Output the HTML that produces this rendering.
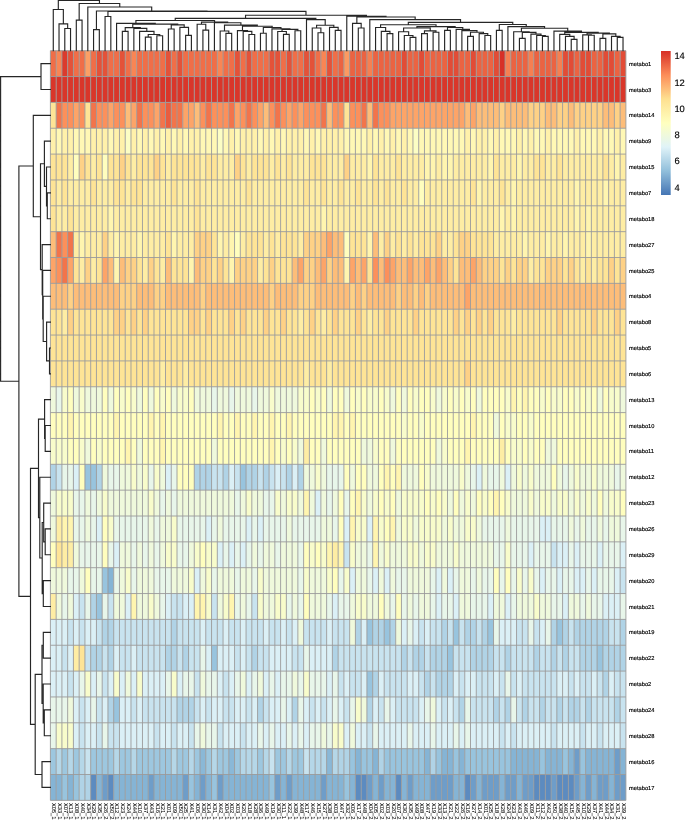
<!DOCTYPE html>
<html><head><meta charset="utf-8"><style>
html,body{margin:0;padding:0;background:#fff;width:685px;height:821px;overflow:hidden}
svg{display:block;text-rendering:geometricPrecision;will-change:transform}
.rl{font-family:"Liberation Sans",sans-serif;font-size:5.7px;fill:#000;stroke:#000;stroke-width:0.16px}
.cl{font-family:"Liberation Sans",sans-serif;font-size:5.7px;fill:#000;stroke:#000;stroke-width:0.08px}
.lg{font-family:"Liberation Sans",sans-serif;font-size:9.4px;fill:#000;stroke:#000;stroke-width:0.15px}
</style></head><body>
<svg width="685" height="821" viewBox="0 0 685 821" shape-rendering="auto">
<rect x="50.40" y="50.70" width="5.755" height="25.85" fill="#f06e48"/>
<rect x="56.16" y="50.70" width="5.755" height="25.85" fill="#f98554"/>
<rect x="61.91" y="50.70" width="5.755" height="25.85" fill="#db3b2d"/>
<rect x="67.66" y="50.70" width="5.755" height="25.85" fill="#e45239"/>
<rect x="73.42" y="50.70" width="5.755" height="25.85" fill="#f06e48"/>
<rect x="79.17" y="50.70" width="5.755" height="25.85" fill="#f06e48"/>
<rect x="84.93" y="50.70" width="5.755" height="25.85" fill="#fc9f65"/>
<rect x="90.69" y="50.70" width="5.755" height="25.85" fill="#f06e48"/>
<rect x="96.44" y="50.70" width="5.755" height="25.85" fill="#e45239"/>
<rect x="102.19" y="50.70" width="5.755" height="25.85" fill="#e45239"/>
<rect x="107.95" y="50.70" width="5.755" height="25.85" fill="#f06e48"/>
<rect x="113.70" y="50.70" width="5.755" height="25.85" fill="#f06e48"/>
<rect x="119.46" y="50.70" width="5.755" height="25.85" fill="#e45239"/>
<rect x="125.22" y="50.70" width="5.755" height="25.85" fill="#f06e48"/>
<rect x="130.97" y="50.70" width="5.755" height="25.85" fill="#f98554"/>
<rect x="136.72" y="50.70" width="5.755" height="25.85" fill="#f06e48"/>
<rect x="142.48" y="50.70" width="5.755" height="25.85" fill="#f06e48"/>
<rect x="148.23" y="50.70" width="5.755" height="25.85" fill="#f06e48"/>
<rect x="153.99" y="50.70" width="5.755" height="25.85" fill="#f06e48"/>
<rect x="159.75" y="50.70" width="5.755" height="25.85" fill="#f06e48"/>
<rect x="165.50" y="50.70" width="5.755" height="25.85" fill="#e45239"/>
<rect x="171.25" y="50.70" width="5.755" height="25.85" fill="#f06e48"/>
<rect x="177.01" y="50.70" width="5.755" height="25.85" fill="#e45239"/>
<rect x="182.77" y="50.70" width="5.755" height="25.85" fill="#f06e48"/>
<rect x="188.52" y="50.70" width="5.755" height="25.85" fill="#f06e48"/>
<rect x="194.28" y="50.70" width="5.755" height="25.85" fill="#f06e48"/>
<rect x="200.03" y="50.70" width="5.755" height="25.85" fill="#f06e48"/>
<rect x="205.78" y="50.70" width="5.755" height="25.85" fill="#f06e48"/>
<rect x="211.54" y="50.70" width="5.755" height="25.85" fill="#f06e48"/>
<rect x="217.30" y="50.70" width="5.755" height="25.85" fill="#f98554"/>
<rect x="223.05" y="50.70" width="5.755" height="25.85" fill="#f06e48"/>
<rect x="228.81" y="50.70" width="5.755" height="25.85" fill="#f06e48"/>
<rect x="234.56" y="50.70" width="5.755" height="25.85" fill="#e45239"/>
<rect x="240.31" y="50.70" width="5.755" height="25.85" fill="#f06e48"/>
<rect x="246.07" y="50.70" width="5.755" height="25.85" fill="#e45239"/>
<rect x="251.82" y="50.70" width="5.755" height="25.85" fill="#f06e48"/>
<rect x="257.58" y="50.70" width="5.755" height="25.85" fill="#f06e48"/>
<rect x="263.33" y="50.70" width="5.755" height="25.85" fill="#f06e48"/>
<rect x="269.09" y="50.70" width="5.755" height="25.85" fill="#e45239"/>
<rect x="274.84" y="50.70" width="5.755" height="25.85" fill="#e45239"/>
<rect x="280.60" y="50.70" width="5.755" height="25.85" fill="#f06e48"/>
<rect x="286.35" y="50.70" width="5.755" height="25.85" fill="#e45239"/>
<rect x="292.11" y="50.70" width="5.755" height="25.85" fill="#f06e48"/>
<rect x="297.87" y="50.70" width="5.755" height="25.85" fill="#f06e48"/>
<rect x="303.62" y="50.70" width="5.755" height="25.85" fill="#e45239"/>
<rect x="309.38" y="50.70" width="5.755" height="25.85" fill="#e45239"/>
<rect x="315.13" y="50.70" width="5.755" height="25.85" fill="#f06e48"/>
<rect x="320.88" y="50.70" width="5.755" height="25.85" fill="#f98554"/>
<rect x="326.64" y="50.70" width="5.755" height="25.85" fill="#e45239"/>
<rect x="332.39" y="50.70" width="5.755" height="25.85" fill="#f06e48"/>
<rect x="338.15" y="50.70" width="5.755" height="25.85" fill="#eb6342"/>
<rect x="343.90" y="50.70" width="5.755" height="25.85" fill="#fc9a61"/>
<rect x="349.66" y="50.70" width="5.755" height="25.85" fill="#eb6342"/>
<rect x="355.41" y="50.70" width="5.755" height="25.85" fill="#eb6342"/>
<rect x="361.17" y="50.70" width="5.755" height="25.85" fill="#eb6342"/>
<rect x="366.92" y="50.70" width="5.755" height="25.85" fill="#f67f51"/>
<rect x="372.68" y="50.70" width="5.755" height="25.85" fill="#eb6342"/>
<rect x="378.43" y="50.70" width="5.755" height="25.85" fill="#eb6342"/>
<rect x="384.19" y="50.70" width="5.755" height="25.85" fill="#eb6342"/>
<rect x="389.94" y="50.70" width="5.755" height="25.85" fill="#eb6342"/>
<rect x="395.70" y="50.70" width="5.755" height="25.85" fill="#eb6342"/>
<rect x="401.45" y="50.70" width="5.755" height="25.85" fill="#e24c36"/>
<rect x="407.21" y="50.70" width="5.755" height="25.85" fill="#eb6342"/>
<rect x="412.96" y="50.70" width="5.755" height="25.85" fill="#eb6342"/>
<rect x="418.72" y="50.70" width="5.755" height="25.85" fill="#e24c36"/>
<rect x="424.47" y="50.70" width="5.755" height="25.85" fill="#eb6342"/>
<rect x="430.23" y="50.70" width="5.755" height="25.85" fill="#eb6342"/>
<rect x="435.98" y="50.70" width="5.755" height="25.85" fill="#eb6342"/>
<rect x="441.74" y="50.70" width="5.755" height="25.85" fill="#eb6342"/>
<rect x="447.49" y="50.70" width="5.755" height="25.85" fill="#e24c36"/>
<rect x="453.25" y="50.70" width="5.755" height="25.85" fill="#e24c36"/>
<rect x="459.00" y="50.70" width="5.755" height="25.85" fill="#eb6342"/>
<rect x="464.76" y="50.70" width="5.755" height="25.85" fill="#eb6342"/>
<rect x="470.51" y="50.70" width="5.755" height="25.85" fill="#e24c36"/>
<rect x="476.27" y="50.70" width="5.755" height="25.85" fill="#eb6342"/>
<rect x="482.02" y="50.70" width="5.755" height="25.85" fill="#eb6342"/>
<rect x="487.78" y="50.70" width="5.755" height="25.85" fill="#eb6342"/>
<rect x="493.53" y="50.70" width="5.755" height="25.85" fill="#e24c36"/>
<rect x="499.29" y="50.70" width="5.755" height="25.85" fill="#d73027"/>
<rect x="505.04" y="50.70" width="5.755" height="25.85" fill="#f67f51"/>
<rect x="510.80" y="50.70" width="5.755" height="25.85" fill="#eb6342"/>
<rect x="516.55" y="50.70" width="5.755" height="25.85" fill="#eb6342"/>
<rect x="522.31" y="50.70" width="5.755" height="25.85" fill="#eb6342"/>
<rect x="528.06" y="50.70" width="5.755" height="25.85" fill="#f67f51"/>
<rect x="533.82" y="50.70" width="5.755" height="25.85" fill="#eb6342"/>
<rect x="539.58" y="50.70" width="5.755" height="25.85" fill="#eb6342"/>
<rect x="545.33" y="50.70" width="5.755" height="25.85" fill="#eb6342"/>
<rect x="551.09" y="50.70" width="5.755" height="25.85" fill="#eb6342"/>
<rect x="556.84" y="50.70" width="5.755" height="25.85" fill="#f67f51"/>
<rect x="562.59" y="50.70" width="5.755" height="25.85" fill="#e24c36"/>
<rect x="568.35" y="50.70" width="5.755" height="25.85" fill="#e24c36"/>
<rect x="574.11" y="50.70" width="5.755" height="25.85" fill="#eb6342"/>
<rect x="579.86" y="50.70" width="5.755" height="25.85" fill="#e24c36"/>
<rect x="585.62" y="50.70" width="5.755" height="25.85" fill="#e24c36"/>
<rect x="591.37" y="50.70" width="5.755" height="25.85" fill="#eb6342"/>
<rect x="597.12" y="50.70" width="5.755" height="25.85" fill="#eb6342"/>
<rect x="602.88" y="50.70" width="5.755" height="25.85" fill="#e24c36"/>
<rect x="608.63" y="50.70" width="5.755" height="25.85" fill="#e24c36"/>
<rect x="614.39" y="50.70" width="5.755" height="25.85" fill="#eb6342"/>
<rect x="620.14" y="50.70" width="5.755" height="25.85" fill="#e24c36"/>
<rect x="50.40" y="76.55" width="5.755" height="25.85" fill="#d9362a"/>
<rect x="56.16" y="76.55" width="5.755" height="25.85" fill="#d9362a"/>
<rect x="61.91" y="76.55" width="5.755" height="25.85" fill="#d9362a"/>
<rect x="67.66" y="76.55" width="5.755" height="25.85" fill="#d9362a"/>
<rect x="73.42" y="76.55" width="5.755" height="25.85" fill="#d9362a"/>
<rect x="79.17" y="76.55" width="5.755" height="25.85" fill="#d9362a"/>
<rect x="84.93" y="76.55" width="5.755" height="25.85" fill="#d9362a"/>
<rect x="90.69" y="76.55" width="5.755" height="25.85" fill="#d9362a"/>
<rect x="96.44" y="76.55" width="5.755" height="25.85" fill="#d9362a"/>
<rect x="102.19" y="76.55" width="5.755" height="25.85" fill="#d9362a"/>
<rect x="107.95" y="76.55" width="5.755" height="25.85" fill="#d9362a"/>
<rect x="113.70" y="76.55" width="5.755" height="25.85" fill="#d9362a"/>
<rect x="119.46" y="76.55" width="5.755" height="25.85" fill="#d9362a"/>
<rect x="125.22" y="76.55" width="5.755" height="25.85" fill="#d9362a"/>
<rect x="130.97" y="76.55" width="5.755" height="25.85" fill="#d9362a"/>
<rect x="136.72" y="76.55" width="5.755" height="25.85" fill="#d9362a"/>
<rect x="142.48" y="76.55" width="5.755" height="25.85" fill="#d9362a"/>
<rect x="148.23" y="76.55" width="5.755" height="25.85" fill="#d9362a"/>
<rect x="153.99" y="76.55" width="5.755" height="25.85" fill="#d9362a"/>
<rect x="159.75" y="76.55" width="5.755" height="25.85" fill="#d9362a"/>
<rect x="165.50" y="76.55" width="5.755" height="25.85" fill="#d9362a"/>
<rect x="171.25" y="76.55" width="5.755" height="25.85" fill="#d9362a"/>
<rect x="177.01" y="76.55" width="5.755" height="25.85" fill="#d9362a"/>
<rect x="182.77" y="76.55" width="5.755" height="25.85" fill="#d9362a"/>
<rect x="188.52" y="76.55" width="5.755" height="25.85" fill="#d9362a"/>
<rect x="194.28" y="76.55" width="5.755" height="25.85" fill="#d9362a"/>
<rect x="200.03" y="76.55" width="5.755" height="25.85" fill="#d9362a"/>
<rect x="205.78" y="76.55" width="5.755" height="25.85" fill="#d9362a"/>
<rect x="211.54" y="76.55" width="5.755" height="25.85" fill="#d9362a"/>
<rect x="217.30" y="76.55" width="5.755" height="25.85" fill="#d9362a"/>
<rect x="223.05" y="76.55" width="5.755" height="25.85" fill="#d9362a"/>
<rect x="228.81" y="76.55" width="5.755" height="25.85" fill="#d9362a"/>
<rect x="234.56" y="76.55" width="5.755" height="25.85" fill="#d9362a"/>
<rect x="240.31" y="76.55" width="5.755" height="25.85" fill="#d9362a"/>
<rect x="246.07" y="76.55" width="5.755" height="25.85" fill="#d9362a"/>
<rect x="251.82" y="76.55" width="5.755" height="25.85" fill="#d9362a"/>
<rect x="257.58" y="76.55" width="5.755" height="25.85" fill="#d9362a"/>
<rect x="263.33" y="76.55" width="5.755" height="25.85" fill="#d9362a"/>
<rect x="269.09" y="76.55" width="5.755" height="25.85" fill="#d9362a"/>
<rect x="274.84" y="76.55" width="5.755" height="25.85" fill="#d9362a"/>
<rect x="280.60" y="76.55" width="5.755" height="25.85" fill="#d9362a"/>
<rect x="286.35" y="76.55" width="5.755" height="25.85" fill="#d9362a"/>
<rect x="292.11" y="76.55" width="5.755" height="25.85" fill="#d9362a"/>
<rect x="297.87" y="76.55" width="5.755" height="25.85" fill="#d9362a"/>
<rect x="303.62" y="76.55" width="5.755" height="25.85" fill="#d9362a"/>
<rect x="309.38" y="76.55" width="5.755" height="25.85" fill="#d9362a"/>
<rect x="315.13" y="76.55" width="5.755" height="25.85" fill="#d9362a"/>
<rect x="320.88" y="76.55" width="5.755" height="25.85" fill="#d9362a"/>
<rect x="326.64" y="76.55" width="5.755" height="25.85" fill="#d9362a"/>
<rect x="332.39" y="76.55" width="5.755" height="25.85" fill="#d9362a"/>
<rect x="338.15" y="76.55" width="5.755" height="25.85" fill="#d9362a"/>
<rect x="343.90" y="76.55" width="5.755" height="25.85" fill="#d9362a"/>
<rect x="349.66" y="76.55" width="5.755" height="25.85" fill="#d9362a"/>
<rect x="355.41" y="76.55" width="5.755" height="25.85" fill="#d9362a"/>
<rect x="361.17" y="76.55" width="5.755" height="25.85" fill="#d9362a"/>
<rect x="366.92" y="76.55" width="5.755" height="25.85" fill="#d9362a"/>
<rect x="372.68" y="76.55" width="5.755" height="25.85" fill="#d9362a"/>
<rect x="378.43" y="76.55" width="5.755" height="25.85" fill="#d9362a"/>
<rect x="384.19" y="76.55" width="5.755" height="25.85" fill="#d9362a"/>
<rect x="389.94" y="76.55" width="5.755" height="25.85" fill="#d9362a"/>
<rect x="395.70" y="76.55" width="5.755" height="25.85" fill="#d9362a"/>
<rect x="401.45" y="76.55" width="5.755" height="25.85" fill="#d9362a"/>
<rect x="407.21" y="76.55" width="5.755" height="25.85" fill="#d9362a"/>
<rect x="412.96" y="76.55" width="5.755" height="25.85" fill="#d9362a"/>
<rect x="418.72" y="76.55" width="5.755" height="25.85" fill="#d9362a"/>
<rect x="424.47" y="76.55" width="5.755" height="25.85" fill="#d9362a"/>
<rect x="430.23" y="76.55" width="5.755" height="25.85" fill="#d9362a"/>
<rect x="435.98" y="76.55" width="5.755" height="25.85" fill="#d9362a"/>
<rect x="441.74" y="76.55" width="5.755" height="25.85" fill="#d9362a"/>
<rect x="447.49" y="76.55" width="5.755" height="25.85" fill="#d9362a"/>
<rect x="453.25" y="76.55" width="5.755" height="25.85" fill="#d9362a"/>
<rect x="459.00" y="76.55" width="5.755" height="25.85" fill="#d9362a"/>
<rect x="464.76" y="76.55" width="5.755" height="25.85" fill="#d9362a"/>
<rect x="470.51" y="76.55" width="5.755" height="25.85" fill="#d9362a"/>
<rect x="476.27" y="76.55" width="5.755" height="25.85" fill="#d9362a"/>
<rect x="482.02" y="76.55" width="5.755" height="25.85" fill="#d9362a"/>
<rect x="487.78" y="76.55" width="5.755" height="25.85" fill="#d9362a"/>
<rect x="493.53" y="76.55" width="5.755" height="25.85" fill="#d9362a"/>
<rect x="499.29" y="76.55" width="5.755" height="25.85" fill="#d9362a"/>
<rect x="505.04" y="76.55" width="5.755" height="25.85" fill="#d9362a"/>
<rect x="510.80" y="76.55" width="5.755" height="25.85" fill="#d9362a"/>
<rect x="516.55" y="76.55" width="5.755" height="25.85" fill="#d9362a"/>
<rect x="522.31" y="76.55" width="5.755" height="25.85" fill="#d9362a"/>
<rect x="528.06" y="76.55" width="5.755" height="25.85" fill="#d9362a"/>
<rect x="533.82" y="76.55" width="5.755" height="25.85" fill="#d9362a"/>
<rect x="539.58" y="76.55" width="5.755" height="25.85" fill="#d9362a"/>
<rect x="545.33" y="76.55" width="5.755" height="25.85" fill="#d9362a"/>
<rect x="551.09" y="76.55" width="5.755" height="25.85" fill="#d9362a"/>
<rect x="556.84" y="76.55" width="5.755" height="25.85" fill="#d9362a"/>
<rect x="562.59" y="76.55" width="5.755" height="25.85" fill="#d9362a"/>
<rect x="568.35" y="76.55" width="5.755" height="25.85" fill="#d9362a"/>
<rect x="574.11" y="76.55" width="5.755" height="25.85" fill="#d9362a"/>
<rect x="579.86" y="76.55" width="5.755" height="25.85" fill="#d9362a"/>
<rect x="585.62" y="76.55" width="5.755" height="25.85" fill="#d9362a"/>
<rect x="591.37" y="76.55" width="5.755" height="25.85" fill="#d9362a"/>
<rect x="597.12" y="76.55" width="5.755" height="25.85" fill="#d9362a"/>
<rect x="602.88" y="76.55" width="5.755" height="25.85" fill="#d9362a"/>
<rect x="608.63" y="76.55" width="5.755" height="25.85" fill="#d9362a"/>
<rect x="614.39" y="76.55" width="5.755" height="25.85" fill="#d9362a"/>
<rect x="620.14" y="76.55" width="5.755" height="25.85" fill="#d9362a"/>
<rect x="50.40" y="102.40" width="5.755" height="25.85" fill="#fee496"/>
<rect x="56.16" y="102.40" width="5.755" height="25.85" fill="#f2744b"/>
<rect x="61.91" y="102.40" width="5.755" height="25.85" fill="#fc905b"/>
<rect x="67.66" y="102.40" width="5.755" height="25.85" fill="#fc905b"/>
<rect x="73.42" y="102.40" width="5.755" height="25.85" fill="#fda468"/>
<rect x="79.17" y="102.40" width="5.755" height="25.85" fill="#fc905b"/>
<rect x="84.93" y="102.40" width="5.755" height="25.85" fill="#fee496"/>
<rect x="90.69" y="102.40" width="5.755" height="25.85" fill="#f2744b"/>
<rect x="96.44" y="102.40" width="5.755" height="25.85" fill="#fc905b"/>
<rect x="102.19" y="102.40" width="5.755" height="25.85" fill="#fc905b"/>
<rect x="107.95" y="102.40" width="5.755" height="25.85" fill="#fda468"/>
<rect x="113.70" y="102.40" width="5.755" height="25.85" fill="#fc905b"/>
<rect x="119.46" y="102.40" width="5.755" height="25.85" fill="#fc905b"/>
<rect x="125.22" y="102.40" width="5.755" height="25.85" fill="#fdbd79"/>
<rect x="130.97" y="102.40" width="5.755" height="25.85" fill="#fda468"/>
<rect x="136.72" y="102.40" width="5.755" height="25.85" fill="#f2744b"/>
<rect x="142.48" y="102.40" width="5.755" height="25.85" fill="#fc905b"/>
<rect x="148.23" y="102.40" width="5.755" height="25.85" fill="#fc905b"/>
<rect x="153.99" y="102.40" width="5.755" height="25.85" fill="#fda468"/>
<rect x="159.75" y="102.40" width="5.755" height="25.85" fill="#f2744b"/>
<rect x="165.50" y="102.40" width="5.755" height="25.85" fill="#e95d3f"/>
<rect x="171.25" y="102.40" width="5.755" height="25.85" fill="#f2744b"/>
<rect x="177.01" y="102.40" width="5.755" height="25.85" fill="#f2744b"/>
<rect x="182.77" y="102.40" width="5.755" height="25.85" fill="#fda468"/>
<rect x="188.52" y="102.40" width="5.755" height="25.85" fill="#fda468"/>
<rect x="194.28" y="102.40" width="5.755" height="25.85" fill="#fdbd79"/>
<rect x="200.03" y="102.40" width="5.755" height="25.85" fill="#fc905b"/>
<rect x="205.78" y="102.40" width="5.755" height="25.85" fill="#f2744b"/>
<rect x="211.54" y="102.40" width="5.755" height="25.85" fill="#fc905b"/>
<rect x="217.30" y="102.40" width="5.755" height="25.85" fill="#fc905b"/>
<rect x="223.05" y="102.40" width="5.755" height="25.85" fill="#fc905b"/>
<rect x="228.81" y="102.40" width="5.755" height="25.85" fill="#f2744b"/>
<rect x="234.56" y="102.40" width="5.755" height="25.85" fill="#fda468"/>
<rect x="240.31" y="102.40" width="5.755" height="25.85" fill="#fc905b"/>
<rect x="246.07" y="102.40" width="5.755" height="25.85" fill="#f2744b"/>
<rect x="251.82" y="102.40" width="5.755" height="25.85" fill="#fc905b"/>
<rect x="257.58" y="102.40" width="5.755" height="25.85" fill="#fda468"/>
<rect x="263.33" y="102.40" width="5.755" height="25.85" fill="#fdbd79"/>
<rect x="269.09" y="102.40" width="5.755" height="25.85" fill="#fc905b"/>
<rect x="274.84" y="102.40" width="5.755" height="25.85" fill="#f2744b"/>
<rect x="280.60" y="102.40" width="5.755" height="25.85" fill="#fc905b"/>
<rect x="286.35" y="102.40" width="5.755" height="25.85" fill="#fda468"/>
<rect x="292.11" y="102.40" width="5.755" height="25.85" fill="#fc905b"/>
<rect x="297.87" y="102.40" width="5.755" height="25.85" fill="#fda468"/>
<rect x="303.62" y="102.40" width="5.755" height="25.85" fill="#fc905b"/>
<rect x="309.38" y="102.40" width="5.755" height="25.85" fill="#fc905b"/>
<rect x="315.13" y="102.40" width="5.755" height="25.85" fill="#fc905b"/>
<rect x="320.88" y="102.40" width="5.755" height="25.85" fill="#f2744b"/>
<rect x="326.64" y="102.40" width="5.755" height="25.85" fill="#fdbd79"/>
<rect x="332.39" y="102.40" width="5.755" height="25.85" fill="#fc905b"/>
<rect x="338.15" y="102.40" width="5.755" height="25.85" fill="#fc905b"/>
<rect x="343.90" y="102.40" width="5.755" height="25.85" fill="#fee496"/>
<rect x="349.66" y="102.40" width="5.755" height="25.85" fill="#fc905b"/>
<rect x="355.41" y="102.40" width="5.755" height="25.85" fill="#fc905b"/>
<rect x="361.17" y="102.40" width="5.755" height="25.85" fill="#f2744b"/>
<rect x="366.92" y="102.40" width="5.755" height="25.85" fill="#fdbd79"/>
<rect x="372.68" y="102.40" width="5.755" height="25.85" fill="#f2744b"/>
<rect x="378.43" y="102.40" width="5.755" height="25.85" fill="#fc905b"/>
<rect x="384.19" y="102.40" width="5.755" height="25.85" fill="#fc905b"/>
<rect x="389.94" y="102.40" width="5.755" height="25.85" fill="#fda468"/>
<rect x="395.70" y="102.40" width="5.755" height="25.85" fill="#fda468"/>
<rect x="401.45" y="102.40" width="5.755" height="25.85" fill="#fda468"/>
<rect x="407.21" y="102.40" width="5.755" height="25.85" fill="#fda468"/>
<rect x="412.96" y="102.40" width="5.755" height="25.85" fill="#fda468"/>
<rect x="418.72" y="102.40" width="5.755" height="25.85" fill="#fda468"/>
<rect x="424.47" y="102.40" width="5.755" height="25.85" fill="#fda468"/>
<rect x="430.23" y="102.40" width="5.755" height="25.85" fill="#fda468"/>
<rect x="435.98" y="102.40" width="5.755" height="25.85" fill="#fda468"/>
<rect x="441.74" y="102.40" width="5.755" height="25.85" fill="#fda468"/>
<rect x="447.49" y="102.40" width="5.755" height="25.85" fill="#fda468"/>
<rect x="453.25" y="102.40" width="5.755" height="25.85" fill="#fda468"/>
<rect x="459.00" y="102.40" width="5.755" height="25.85" fill="#fda468"/>
<rect x="464.76" y="102.40" width="5.755" height="25.85" fill="#fdbd79"/>
<rect x="470.51" y="102.40" width="5.755" height="25.85" fill="#fda468"/>
<rect x="476.27" y="102.40" width="5.755" height="25.85" fill="#fdbd79"/>
<rect x="482.02" y="102.40" width="5.755" height="25.85" fill="#fdbd79"/>
<rect x="487.78" y="102.40" width="5.755" height="25.85" fill="#fdbd79"/>
<rect x="493.53" y="102.40" width="5.755" height="25.85" fill="#fdbd79"/>
<rect x="499.29" y="102.40" width="5.755" height="25.85" fill="#fed186"/>
<rect x="505.04" y="102.40" width="5.755" height="25.85" fill="#fdbd79"/>
<rect x="510.80" y="102.40" width="5.755" height="25.85" fill="#fdbd79"/>
<rect x="516.55" y="102.40" width="5.755" height="25.85" fill="#fdbd79"/>
<rect x="522.31" y="102.40" width="5.755" height="25.85" fill="#fdbd79"/>
<rect x="528.06" y="102.40" width="5.755" height="25.85" fill="#fed186"/>
<rect x="533.82" y="102.40" width="5.755" height="25.85" fill="#fed186"/>
<rect x="539.58" y="102.40" width="5.755" height="25.85" fill="#fed186"/>
<rect x="545.33" y="102.40" width="5.755" height="25.85" fill="#fdbd79"/>
<rect x="551.09" y="102.40" width="5.755" height="25.85" fill="#fdbd79"/>
<rect x="556.84" y="102.40" width="5.755" height="25.85" fill="#fed186"/>
<rect x="562.59" y="102.40" width="5.755" height="25.85" fill="#fed186"/>
<rect x="568.35" y="102.40" width="5.755" height="25.85" fill="#fdbd79"/>
<rect x="574.11" y="102.40" width="5.755" height="25.85" fill="#fed186"/>
<rect x="579.86" y="102.40" width="5.755" height="25.85" fill="#fed186"/>
<rect x="585.62" y="102.40" width="5.755" height="25.85" fill="#fed186"/>
<rect x="591.37" y="102.40" width="5.755" height="25.85" fill="#fed186"/>
<rect x="597.12" y="102.40" width="5.755" height="25.85" fill="#fed186"/>
<rect x="602.88" y="102.40" width="5.755" height="25.85" fill="#fdbd79"/>
<rect x="608.63" y="102.40" width="5.755" height="25.85" fill="#fdbd79"/>
<rect x="614.39" y="102.40" width="5.755" height="25.85" fill="#fed186"/>
<rect x="620.14" y="102.40" width="5.755" height="25.85" fill="#fdbd79"/>
<rect x="50.40" y="128.25" width="5.755" height="25.85" fill="#fff1aa"/>
<rect x="56.16" y="128.25" width="5.755" height="25.85" fill="#fff8b5"/>
<rect x="61.91" y="128.25" width="5.755" height="25.85" fill="#fff1aa"/>
<rect x="67.66" y="128.25" width="5.755" height="25.85" fill="#fff1aa"/>
<rect x="73.42" y="128.25" width="5.755" height="25.85" fill="#fff8b5"/>
<rect x="79.17" y="128.25" width="5.755" height="25.85" fill="#fff8b5"/>
<rect x="84.93" y="128.25" width="5.755" height="25.85" fill="#fff8b5"/>
<rect x="90.69" y="128.25" width="5.755" height="25.85" fill="#fff1aa"/>
<rect x="96.44" y="128.25" width="5.755" height="25.85" fill="#fff1aa"/>
<rect x="102.19" y="128.25" width="5.755" height="25.85" fill="#fff1aa"/>
<rect x="107.95" y="128.25" width="5.755" height="25.85" fill="#fff8b5"/>
<rect x="113.70" y="128.25" width="5.755" height="25.85" fill="#fff1aa"/>
<rect x="119.46" y="128.25" width="5.755" height="25.85" fill="#fff1aa"/>
<rect x="125.22" y="128.25" width="5.755" height="25.85" fill="#fcfec4"/>
<rect x="130.97" y="128.25" width="5.755" height="25.85" fill="#fff1aa"/>
<rect x="136.72" y="128.25" width="5.755" height="25.85" fill="#fff8b5"/>
<rect x="142.48" y="128.25" width="5.755" height="25.85" fill="#fff1aa"/>
<rect x="148.23" y="128.25" width="5.755" height="25.85" fill="#fff8b5"/>
<rect x="153.99" y="128.25" width="5.755" height="25.85" fill="#fff1aa"/>
<rect x="159.75" y="128.25" width="5.755" height="25.85" fill="#fff8b5"/>
<rect x="165.50" y="128.25" width="5.755" height="25.85" fill="#fff1aa"/>
<rect x="171.25" y="128.25" width="5.755" height="25.85" fill="#fff8b5"/>
<rect x="177.01" y="128.25" width="5.755" height="25.85" fill="#fff1aa"/>
<rect x="182.77" y="128.25" width="5.755" height="25.85" fill="#fff8b5"/>
<rect x="188.52" y="128.25" width="5.755" height="25.85" fill="#fff1aa"/>
<rect x="194.28" y="128.25" width="5.755" height="25.85" fill="#fff1aa"/>
<rect x="200.03" y="128.25" width="5.755" height="25.85" fill="#fff8b5"/>
<rect x="205.78" y="128.25" width="5.755" height="25.85" fill="#fff8b5"/>
<rect x="211.54" y="128.25" width="5.755" height="25.85" fill="#fff8b5"/>
<rect x="217.30" y="128.25" width="5.755" height="25.85" fill="#fcfec4"/>
<rect x="223.05" y="128.25" width="5.755" height="25.85" fill="#fff8b5"/>
<rect x="228.81" y="128.25" width="5.755" height="25.85" fill="#fff1aa"/>
<rect x="234.56" y="128.25" width="5.755" height="25.85" fill="#fff8b5"/>
<rect x="240.31" y="128.25" width="5.755" height="25.85" fill="#fff1aa"/>
<rect x="246.07" y="128.25" width="5.755" height="25.85" fill="#fff1aa"/>
<rect x="251.82" y="128.25" width="5.755" height="25.85" fill="#fff1aa"/>
<rect x="257.58" y="128.25" width="5.755" height="25.85" fill="#fff8b5"/>
<rect x="263.33" y="128.25" width="5.755" height="25.85" fill="#fff1aa"/>
<rect x="269.09" y="128.25" width="5.755" height="25.85" fill="#fff8b5"/>
<rect x="274.84" y="128.25" width="5.755" height="25.85" fill="#fff1aa"/>
<rect x="280.60" y="128.25" width="5.755" height="25.85" fill="#fff8b5"/>
<rect x="286.35" y="128.25" width="5.755" height="25.85" fill="#fff1aa"/>
<rect x="292.11" y="128.25" width="5.755" height="25.85" fill="#fff1aa"/>
<rect x="297.87" y="128.25" width="5.755" height="25.85" fill="#fff1aa"/>
<rect x="303.62" y="128.25" width="5.755" height="25.85" fill="#fff8b5"/>
<rect x="309.38" y="128.25" width="5.755" height="25.85" fill="#fff1aa"/>
<rect x="315.13" y="128.25" width="5.755" height="25.85" fill="#fff8b5"/>
<rect x="320.88" y="128.25" width="5.755" height="25.85" fill="#fff1aa"/>
<rect x="326.64" y="128.25" width="5.755" height="25.85" fill="#fff1aa"/>
<rect x="332.39" y="128.25" width="5.755" height="25.85" fill="#fff1aa"/>
<rect x="338.15" y="128.25" width="5.755" height="25.85" fill="#fff1aa"/>
<rect x="343.90" y="128.25" width="5.755" height="25.85" fill="#fff8b5"/>
<rect x="349.66" y="128.25" width="5.755" height="25.85" fill="#fff8b5"/>
<rect x="355.41" y="128.25" width="5.755" height="25.85" fill="#fff8b5"/>
<rect x="361.17" y="128.25" width="5.755" height="25.85" fill="#fff8b5"/>
<rect x="366.92" y="128.25" width="5.755" height="25.85" fill="#fff1aa"/>
<rect x="372.68" y="128.25" width="5.755" height="25.85" fill="#fff8b5"/>
<rect x="378.43" y="128.25" width="5.755" height="25.85" fill="#fff1aa"/>
<rect x="384.19" y="128.25" width="5.755" height="25.85" fill="#fff8b5"/>
<rect x="389.94" y="128.25" width="5.755" height="25.85" fill="#fff1aa"/>
<rect x="395.70" y="128.25" width="5.755" height="25.85" fill="#fff8b5"/>
<rect x="401.45" y="128.25" width="5.755" height="25.85" fill="#fff1aa"/>
<rect x="407.21" y="128.25" width="5.755" height="25.85" fill="#fff8b5"/>
<rect x="412.96" y="128.25" width="5.755" height="25.85" fill="#fcfec4"/>
<rect x="418.72" y="128.25" width="5.755" height="25.85" fill="#fff8b5"/>
<rect x="424.47" y="128.25" width="5.755" height="25.85" fill="#fff8b5"/>
<rect x="430.23" y="128.25" width="5.755" height="25.85" fill="#fff8b5"/>
<rect x="435.98" y="128.25" width="5.755" height="25.85" fill="#fff8b5"/>
<rect x="441.74" y="128.25" width="5.755" height="25.85" fill="#fff8b5"/>
<rect x="447.49" y="128.25" width="5.755" height="25.85" fill="#fff8b5"/>
<rect x="453.25" y="128.25" width="5.755" height="25.85" fill="#fff8b5"/>
<rect x="459.00" y="128.25" width="5.755" height="25.85" fill="#fff8b5"/>
<rect x="464.76" y="128.25" width="5.755" height="25.85" fill="#fff1aa"/>
<rect x="470.51" y="128.25" width="5.755" height="25.85" fill="#fff8b5"/>
<rect x="476.27" y="128.25" width="5.755" height="25.85" fill="#fff1aa"/>
<rect x="482.02" y="128.25" width="5.755" height="25.85" fill="#fff1aa"/>
<rect x="487.78" y="128.25" width="5.755" height="25.85" fill="#fff8b5"/>
<rect x="493.53" y="128.25" width="5.755" height="25.85" fill="#fff1aa"/>
<rect x="499.29" y="128.25" width="5.755" height="25.85" fill="#fff8b5"/>
<rect x="505.04" y="128.25" width="5.755" height="25.85" fill="#fff8b5"/>
<rect x="510.80" y="128.25" width="5.755" height="25.85" fill="#fff8b5"/>
<rect x="516.55" y="128.25" width="5.755" height="25.85" fill="#fff1aa"/>
<rect x="522.31" y="128.25" width="5.755" height="25.85" fill="#fff8b5"/>
<rect x="528.06" y="128.25" width="5.755" height="25.85" fill="#fff1aa"/>
<rect x="533.82" y="128.25" width="5.755" height="25.85" fill="#fff8b5"/>
<rect x="539.58" y="128.25" width="5.755" height="25.85" fill="#fff8b5"/>
<rect x="545.33" y="128.25" width="5.755" height="25.85" fill="#fff1aa"/>
<rect x="551.09" y="128.25" width="5.755" height="25.85" fill="#fff8b5"/>
<rect x="556.84" y="128.25" width="5.755" height="25.85" fill="#fff8b5"/>
<rect x="562.59" y="128.25" width="5.755" height="25.85" fill="#fff8b5"/>
<rect x="568.35" y="128.25" width="5.755" height="25.85" fill="#fff8b5"/>
<rect x="574.11" y="128.25" width="5.755" height="25.85" fill="#fff1aa"/>
<rect x="579.86" y="128.25" width="5.755" height="25.85" fill="#fff8b5"/>
<rect x="585.62" y="128.25" width="5.755" height="25.85" fill="#fff8b5"/>
<rect x="591.37" y="128.25" width="5.755" height="25.85" fill="#fff8b5"/>
<rect x="597.12" y="128.25" width="5.755" height="25.85" fill="#fff1aa"/>
<rect x="602.88" y="128.25" width="5.755" height="25.85" fill="#fff8b5"/>
<rect x="608.63" y="128.25" width="5.755" height="25.85" fill="#fff8b5"/>
<rect x="614.39" y="128.25" width="5.755" height="25.85" fill="#fff1aa"/>
<rect x="620.14" y="128.25" width="5.755" height="25.85" fill="#fff8b5"/>
<rect x="50.40" y="154.10" width="5.755" height="25.85" fill="#fee496"/>
<rect x="56.16" y="154.10" width="5.755" height="25.85" fill="#fee496"/>
<rect x="61.91" y="154.10" width="5.755" height="25.85" fill="#fee496"/>
<rect x="67.66" y="154.10" width="5.755" height="25.85" fill="#feeda4"/>
<rect x="73.42" y="154.10" width="5.755" height="25.85" fill="#fffebe"/>
<rect x="79.17" y="154.10" width="5.755" height="25.85" fill="#fed186"/>
<rect x="84.93" y="154.10" width="5.755" height="25.85" fill="#fee496"/>
<rect x="90.69" y="154.10" width="5.755" height="25.85" fill="#feeda4"/>
<rect x="96.44" y="154.10" width="5.755" height="25.85" fill="#fee496"/>
<rect x="102.19" y="154.10" width="5.755" height="25.85" fill="#fffebe"/>
<rect x="107.95" y="154.10" width="5.755" height="25.85" fill="#fee496"/>
<rect x="113.70" y="154.10" width="5.755" height="25.85" fill="#fee496"/>
<rect x="119.46" y="154.10" width="5.755" height="25.85" fill="#fed186"/>
<rect x="125.22" y="154.10" width="5.755" height="25.85" fill="#fee496"/>
<rect x="130.97" y="154.10" width="5.755" height="25.85" fill="#feeda4"/>
<rect x="136.72" y="154.10" width="5.755" height="25.85" fill="#fee496"/>
<rect x="142.48" y="154.10" width="5.755" height="25.85" fill="#fee496"/>
<rect x="148.23" y="154.10" width="5.755" height="25.85" fill="#fee496"/>
<rect x="153.99" y="154.10" width="5.755" height="25.85" fill="#fed186"/>
<rect x="159.75" y="154.10" width="5.755" height="25.85" fill="#fee496"/>
<rect x="165.50" y="154.10" width="5.755" height="25.85" fill="#feeda4"/>
<rect x="171.25" y="154.10" width="5.755" height="25.85" fill="#fee496"/>
<rect x="177.01" y="154.10" width="5.755" height="25.85" fill="#fee496"/>
<rect x="182.77" y="154.10" width="5.755" height="25.85" fill="#fee496"/>
<rect x="188.52" y="154.10" width="5.755" height="25.85" fill="#fee496"/>
<rect x="194.28" y="154.10" width="5.755" height="25.85" fill="#fee496"/>
<rect x="200.03" y="154.10" width="5.755" height="25.85" fill="#feeda4"/>
<rect x="205.78" y="154.10" width="5.755" height="25.85" fill="#fee496"/>
<rect x="211.54" y="154.10" width="5.755" height="25.85" fill="#fee496"/>
<rect x="217.30" y="154.10" width="5.755" height="25.85" fill="#feeda4"/>
<rect x="223.05" y="154.10" width="5.755" height="25.85" fill="#feeda4"/>
<rect x="228.81" y="154.10" width="5.755" height="25.85" fill="#feeda4"/>
<rect x="234.56" y="154.10" width="5.755" height="25.85" fill="#fed186"/>
<rect x="240.31" y="154.10" width="5.755" height="25.85" fill="#fee496"/>
<rect x="246.07" y="154.10" width="5.755" height="25.85" fill="#feeda4"/>
<rect x="251.82" y="154.10" width="5.755" height="25.85" fill="#fee496"/>
<rect x="257.58" y="154.10" width="5.755" height="25.85" fill="#fee496"/>
<rect x="263.33" y="154.10" width="5.755" height="25.85" fill="#fee496"/>
<rect x="269.09" y="154.10" width="5.755" height="25.85" fill="#feeda4"/>
<rect x="274.84" y="154.10" width="5.755" height="25.85" fill="#fee496"/>
<rect x="280.60" y="154.10" width="5.755" height="25.85" fill="#feeda4"/>
<rect x="286.35" y="154.10" width="5.755" height="25.85" fill="#fee496"/>
<rect x="292.11" y="154.10" width="5.755" height="25.85" fill="#feeda4"/>
<rect x="297.87" y="154.10" width="5.755" height="25.85" fill="#feeda4"/>
<rect x="303.62" y="154.10" width="5.755" height="25.85" fill="#feeda4"/>
<rect x="309.38" y="154.10" width="5.755" height="25.85" fill="#fee496"/>
<rect x="315.13" y="154.10" width="5.755" height="25.85" fill="#fee496"/>
<rect x="320.88" y="154.10" width="5.755" height="25.85" fill="#fee496"/>
<rect x="326.64" y="154.10" width="5.755" height="25.85" fill="#feeda4"/>
<rect x="332.39" y="154.10" width="5.755" height="25.85" fill="#feeda4"/>
<rect x="338.15" y="154.10" width="5.755" height="25.85" fill="#feeda4"/>
<rect x="343.90" y="154.10" width="5.755" height="25.85" fill="#fed186"/>
<rect x="349.66" y="154.10" width="5.755" height="25.85" fill="#feeda4"/>
<rect x="355.41" y="154.10" width="5.755" height="25.85" fill="#feeda4"/>
<rect x="361.17" y="154.10" width="5.755" height="25.85" fill="#feeda4"/>
<rect x="366.92" y="154.10" width="5.755" height="25.85" fill="#fff5af"/>
<rect x="372.68" y="154.10" width="5.755" height="25.85" fill="#fee496"/>
<rect x="378.43" y="154.10" width="5.755" height="25.85" fill="#feeda4"/>
<rect x="384.19" y="154.10" width="5.755" height="25.85" fill="#feeda4"/>
<rect x="389.94" y="154.10" width="5.755" height="25.85" fill="#feeda4"/>
<rect x="395.70" y="154.10" width="5.755" height="25.85" fill="#fee496"/>
<rect x="401.45" y="154.10" width="5.755" height="25.85" fill="#feeda4"/>
<rect x="407.21" y="154.10" width="5.755" height="25.85" fill="#feeda4"/>
<rect x="412.96" y="154.10" width="5.755" height="25.85" fill="#feeda4"/>
<rect x="418.72" y="154.10" width="5.755" height="25.85" fill="#feeda4"/>
<rect x="424.47" y="154.10" width="5.755" height="25.85" fill="#fff5af"/>
<rect x="430.23" y="154.10" width="5.755" height="25.85" fill="#fff5af"/>
<rect x="435.98" y="154.10" width="5.755" height="25.85" fill="#feeda4"/>
<rect x="441.74" y="154.10" width="5.755" height="25.85" fill="#fff5af"/>
<rect x="447.49" y="154.10" width="5.755" height="25.85" fill="#fff5af"/>
<rect x="453.25" y="154.10" width="5.755" height="25.85" fill="#feeda4"/>
<rect x="459.00" y="154.10" width="5.755" height="25.85" fill="#feeda4"/>
<rect x="464.76" y="154.10" width="5.755" height="25.85" fill="#feeda4"/>
<rect x="470.51" y="154.10" width="5.755" height="25.85" fill="#feeda4"/>
<rect x="476.27" y="154.10" width="5.755" height="25.85" fill="#feeda4"/>
<rect x="482.02" y="154.10" width="5.755" height="25.85" fill="#feeda4"/>
<rect x="487.78" y="154.10" width="5.755" height="25.85" fill="#fff5af"/>
<rect x="493.53" y="154.10" width="5.755" height="25.85" fill="#fee496"/>
<rect x="499.29" y="154.10" width="5.755" height="25.85" fill="#feeda4"/>
<rect x="505.04" y="154.10" width="5.755" height="25.85" fill="#feeda4"/>
<rect x="510.80" y="154.10" width="5.755" height="25.85" fill="#feeda4"/>
<rect x="516.55" y="154.10" width="5.755" height="25.85" fill="#fff5af"/>
<rect x="522.31" y="154.10" width="5.755" height="25.85" fill="#feeda4"/>
<rect x="528.06" y="154.10" width="5.755" height="25.85" fill="#feeda4"/>
<rect x="533.82" y="154.10" width="5.755" height="25.85" fill="#fee496"/>
<rect x="539.58" y="154.10" width="5.755" height="25.85" fill="#fee496"/>
<rect x="545.33" y="154.10" width="5.755" height="25.85" fill="#feeda4"/>
<rect x="551.09" y="154.10" width="5.755" height="25.85" fill="#feeda4"/>
<rect x="556.84" y="154.10" width="5.755" height="25.85" fill="#fee496"/>
<rect x="562.59" y="154.10" width="5.755" height="25.85" fill="#feeda4"/>
<rect x="568.35" y="154.10" width="5.755" height="25.85" fill="#feeda4"/>
<rect x="574.11" y="154.10" width="5.755" height="25.85" fill="#feeda4"/>
<rect x="579.86" y="154.10" width="5.755" height="25.85" fill="#feeda4"/>
<rect x="585.62" y="154.10" width="5.755" height="25.85" fill="#feeda4"/>
<rect x="591.37" y="154.10" width="5.755" height="25.85" fill="#feeda4"/>
<rect x="597.12" y="154.10" width="5.755" height="25.85" fill="#feeda4"/>
<rect x="602.88" y="154.10" width="5.755" height="25.85" fill="#fee496"/>
<rect x="608.63" y="154.10" width="5.755" height="25.85" fill="#feeda4"/>
<rect x="614.39" y="154.10" width="5.755" height="25.85" fill="#fff5af"/>
<rect x="620.14" y="154.10" width="5.755" height="25.85" fill="#feeda4"/>
<rect x="50.40" y="179.95" width="5.755" height="25.85" fill="#fee496"/>
<rect x="56.16" y="179.95" width="5.755" height="25.85" fill="#feeda4"/>
<rect x="61.91" y="179.95" width="5.755" height="25.85" fill="#fee496"/>
<rect x="67.66" y="179.95" width="5.755" height="25.85" fill="#feeda4"/>
<rect x="73.42" y="179.95" width="5.755" height="25.85" fill="#feeda4"/>
<rect x="79.17" y="179.95" width="5.755" height="25.85" fill="#feeda4"/>
<rect x="84.93" y="179.95" width="5.755" height="25.85" fill="#feeda4"/>
<rect x="90.69" y="179.95" width="5.755" height="25.85" fill="#fee496"/>
<rect x="96.44" y="179.95" width="5.755" height="25.85" fill="#feeda4"/>
<rect x="102.19" y="179.95" width="5.755" height="25.85" fill="#feeda4"/>
<rect x="107.95" y="179.95" width="5.755" height="25.85" fill="#feeda4"/>
<rect x="113.70" y="179.95" width="5.755" height="25.85" fill="#fee496"/>
<rect x="119.46" y="179.95" width="5.755" height="25.85" fill="#fee496"/>
<rect x="125.22" y="179.95" width="5.755" height="25.85" fill="#feeda4"/>
<rect x="130.97" y="179.95" width="5.755" height="25.85" fill="#fee496"/>
<rect x="136.72" y="179.95" width="5.755" height="25.85" fill="#fee496"/>
<rect x="142.48" y="179.95" width="5.755" height="25.85" fill="#feeda4"/>
<rect x="148.23" y="179.95" width="5.755" height="25.85" fill="#feeda4"/>
<rect x="153.99" y="179.95" width="5.755" height="25.85" fill="#feeda4"/>
<rect x="159.75" y="179.95" width="5.755" height="25.85" fill="#feeda4"/>
<rect x="165.50" y="179.95" width="5.755" height="25.85" fill="#feeda4"/>
<rect x="171.25" y="179.95" width="5.755" height="25.85" fill="#fee496"/>
<rect x="177.01" y="179.95" width="5.755" height="25.85" fill="#feeda4"/>
<rect x="182.77" y="179.95" width="5.755" height="25.85" fill="#feeda4"/>
<rect x="188.52" y="179.95" width="5.755" height="25.85" fill="#feeda4"/>
<rect x="194.28" y="179.95" width="5.755" height="25.85" fill="#fee496"/>
<rect x="200.03" y="179.95" width="5.755" height="25.85" fill="#feeda4"/>
<rect x="205.78" y="179.95" width="5.755" height="25.85" fill="#feeda4"/>
<rect x="211.54" y="179.95" width="5.755" height="25.85" fill="#feeda4"/>
<rect x="217.30" y="179.95" width="5.755" height="25.85" fill="#feeda4"/>
<rect x="223.05" y="179.95" width="5.755" height="25.85" fill="#feeda4"/>
<rect x="228.81" y="179.95" width="5.755" height="25.85" fill="#feeda4"/>
<rect x="234.56" y="179.95" width="5.755" height="25.85" fill="#feeda4"/>
<rect x="240.31" y="179.95" width="5.755" height="25.85" fill="#feeda4"/>
<rect x="246.07" y="179.95" width="5.755" height="25.85" fill="#fee496"/>
<rect x="251.82" y="179.95" width="5.755" height="25.85" fill="#feeda4"/>
<rect x="257.58" y="179.95" width="5.755" height="25.85" fill="#feeda4"/>
<rect x="263.33" y="179.95" width="5.755" height="25.85" fill="#feeda4"/>
<rect x="269.09" y="179.95" width="5.755" height="25.85" fill="#feeda4"/>
<rect x="274.84" y="179.95" width="5.755" height="25.85" fill="#feeda4"/>
<rect x="280.60" y="179.95" width="5.755" height="25.85" fill="#feeda4"/>
<rect x="286.35" y="179.95" width="5.755" height="25.85" fill="#feeda4"/>
<rect x="292.11" y="179.95" width="5.755" height="25.85" fill="#feeda4"/>
<rect x="297.87" y="179.95" width="5.755" height="25.85" fill="#feeda4"/>
<rect x="303.62" y="179.95" width="5.755" height="25.85" fill="#fee496"/>
<rect x="309.38" y="179.95" width="5.755" height="25.85" fill="#feeda4"/>
<rect x="315.13" y="179.95" width="5.755" height="25.85" fill="#feeda4"/>
<rect x="320.88" y="179.95" width="5.755" height="25.85" fill="#fee496"/>
<rect x="326.64" y="179.95" width="5.755" height="25.85" fill="#feeda4"/>
<rect x="332.39" y="179.95" width="5.755" height="25.85" fill="#feeda4"/>
<rect x="338.15" y="179.95" width="5.755" height="25.85" fill="#fee496"/>
<rect x="343.90" y="179.95" width="5.755" height="25.85" fill="#feeda4"/>
<rect x="349.66" y="179.95" width="5.755" height="25.85" fill="#feeda4"/>
<rect x="355.41" y="179.95" width="5.755" height="25.85" fill="#fee496"/>
<rect x="361.17" y="179.95" width="5.755" height="25.85" fill="#feeda4"/>
<rect x="366.92" y="179.95" width="5.755" height="25.85" fill="#feeda4"/>
<rect x="372.68" y="179.95" width="5.755" height="25.85" fill="#fee496"/>
<rect x="378.43" y="179.95" width="5.755" height="25.85" fill="#feeda4"/>
<rect x="384.19" y="179.95" width="5.755" height="25.85" fill="#fee496"/>
<rect x="389.94" y="179.95" width="5.755" height="25.85" fill="#feeda4"/>
<rect x="395.70" y="179.95" width="5.755" height="25.85" fill="#feeda4"/>
<rect x="401.45" y="179.95" width="5.755" height="25.85" fill="#fee496"/>
<rect x="407.21" y="179.95" width="5.755" height="25.85" fill="#feeda4"/>
<rect x="412.96" y="179.95" width="5.755" height="25.85" fill="#feeda4"/>
<rect x="418.72" y="179.95" width="5.755" height="25.85" fill="#fffebe"/>
<rect x="424.47" y="179.95" width="5.755" height="25.85" fill="#feeda4"/>
<rect x="430.23" y="179.95" width="5.755" height="25.85" fill="#feeda4"/>
<rect x="435.98" y="179.95" width="5.755" height="25.85" fill="#feeda4"/>
<rect x="441.74" y="179.95" width="5.755" height="25.85" fill="#feeda4"/>
<rect x="447.49" y="179.95" width="5.755" height="25.85" fill="#feeda4"/>
<rect x="453.25" y="179.95" width="5.755" height="25.85" fill="#feeda4"/>
<rect x="459.00" y="179.95" width="5.755" height="25.85" fill="#feeda4"/>
<rect x="464.76" y="179.95" width="5.755" height="25.85" fill="#feeda4"/>
<rect x="470.51" y="179.95" width="5.755" height="25.85" fill="#fee496"/>
<rect x="476.27" y="179.95" width="5.755" height="25.85" fill="#fff5af"/>
<rect x="482.02" y="179.95" width="5.755" height="25.85" fill="#feeda4"/>
<rect x="487.78" y="179.95" width="5.755" height="25.85" fill="#feeda4"/>
<rect x="493.53" y="179.95" width="5.755" height="25.85" fill="#feeda4"/>
<rect x="499.29" y="179.95" width="5.755" height="25.85" fill="#fee496"/>
<rect x="505.04" y="179.95" width="5.755" height="25.85" fill="#feeda4"/>
<rect x="510.80" y="179.95" width="5.755" height="25.85" fill="#fff5af"/>
<rect x="516.55" y="179.95" width="5.755" height="25.85" fill="#feeda4"/>
<rect x="522.31" y="179.95" width="5.755" height="25.85" fill="#feeda4"/>
<rect x="528.06" y="179.95" width="5.755" height="25.85" fill="#feeda4"/>
<rect x="533.82" y="179.95" width="5.755" height="25.85" fill="#feeda4"/>
<rect x="539.58" y="179.95" width="5.755" height="25.85" fill="#feeda4"/>
<rect x="545.33" y="179.95" width="5.755" height="25.85" fill="#feeda4"/>
<rect x="551.09" y="179.95" width="5.755" height="25.85" fill="#feeda4"/>
<rect x="556.84" y="179.95" width="5.755" height="25.85" fill="#feeda4"/>
<rect x="562.59" y="179.95" width="5.755" height="25.85" fill="#feeda4"/>
<rect x="568.35" y="179.95" width="5.755" height="25.85" fill="#feeda4"/>
<rect x="574.11" y="179.95" width="5.755" height="25.85" fill="#fff5af"/>
<rect x="579.86" y="179.95" width="5.755" height="25.85" fill="#feeda4"/>
<rect x="585.62" y="179.95" width="5.755" height="25.85" fill="#feeda4"/>
<rect x="591.37" y="179.95" width="5.755" height="25.85" fill="#feeda4"/>
<rect x="597.12" y="179.95" width="5.755" height="25.85" fill="#feeda4"/>
<rect x="602.88" y="179.95" width="5.755" height="25.85" fill="#fff5af"/>
<rect x="608.63" y="179.95" width="5.755" height="25.85" fill="#feeda4"/>
<rect x="614.39" y="179.95" width="5.755" height="25.85" fill="#feeda4"/>
<rect x="620.14" y="179.95" width="5.755" height="25.85" fill="#feeda4"/>
<rect x="50.40" y="205.80" width="5.755" height="25.85" fill="#fee496"/>
<rect x="56.16" y="205.80" width="5.755" height="25.85" fill="#feeda4"/>
<rect x="61.91" y="205.80" width="5.755" height="25.85" fill="#feeda4"/>
<rect x="67.66" y="205.80" width="5.755" height="25.85" fill="#fee496"/>
<rect x="73.42" y="205.80" width="5.755" height="25.85" fill="#feeda4"/>
<rect x="79.17" y="205.80" width="5.755" height="25.85" fill="#feeda4"/>
<rect x="84.93" y="205.80" width="5.755" height="25.85" fill="#feeda4"/>
<rect x="90.69" y="205.80" width="5.755" height="25.85" fill="#feeda4"/>
<rect x="96.44" y="205.80" width="5.755" height="25.85" fill="#feeda4"/>
<rect x="102.19" y="205.80" width="5.755" height="25.85" fill="#feeda4"/>
<rect x="107.95" y="205.80" width="5.755" height="25.85" fill="#fff5af"/>
<rect x="113.70" y="205.80" width="5.755" height="25.85" fill="#feeda4"/>
<rect x="119.46" y="205.80" width="5.755" height="25.85" fill="#feeda4"/>
<rect x="125.22" y="205.80" width="5.755" height="25.85" fill="#feeda4"/>
<rect x="130.97" y="205.80" width="5.755" height="25.85" fill="#feeda4"/>
<rect x="136.72" y="205.80" width="5.755" height="25.85" fill="#feeda4"/>
<rect x="142.48" y="205.80" width="5.755" height="25.85" fill="#feeda4"/>
<rect x="148.23" y="205.80" width="5.755" height="25.85" fill="#feeda4"/>
<rect x="153.99" y="205.80" width="5.755" height="25.85" fill="#feeda4"/>
<rect x="159.75" y="205.80" width="5.755" height="25.85" fill="#feeda4"/>
<rect x="165.50" y="205.80" width="5.755" height="25.85" fill="#feeda4"/>
<rect x="171.25" y="205.80" width="5.755" height="25.85" fill="#feeda4"/>
<rect x="177.01" y="205.80" width="5.755" height="25.85" fill="#feeda4"/>
<rect x="182.77" y="205.80" width="5.755" height="25.85" fill="#feeda4"/>
<rect x="188.52" y="205.80" width="5.755" height="25.85" fill="#feeda4"/>
<rect x="194.28" y="205.80" width="5.755" height="25.85" fill="#fee496"/>
<rect x="200.03" y="205.80" width="5.755" height="25.85" fill="#feeda4"/>
<rect x="205.78" y="205.80" width="5.755" height="25.85" fill="#feeda4"/>
<rect x="211.54" y="205.80" width="5.755" height="25.85" fill="#feeda4"/>
<rect x="217.30" y="205.80" width="5.755" height="25.85" fill="#feeda4"/>
<rect x="223.05" y="205.80" width="5.755" height="25.85" fill="#feeda4"/>
<rect x="228.81" y="205.80" width="5.755" height="25.85" fill="#feeda4"/>
<rect x="234.56" y="205.80" width="5.755" height="25.85" fill="#feeda4"/>
<rect x="240.31" y="205.80" width="5.755" height="25.85" fill="#feeda4"/>
<rect x="246.07" y="205.80" width="5.755" height="25.85" fill="#feeda4"/>
<rect x="251.82" y="205.80" width="5.755" height="25.85" fill="#feeda4"/>
<rect x="257.58" y="205.80" width="5.755" height="25.85" fill="#feeda4"/>
<rect x="263.33" y="205.80" width="5.755" height="25.85" fill="#feeda4"/>
<rect x="269.09" y="205.80" width="5.755" height="25.85" fill="#feeda4"/>
<rect x="274.84" y="205.80" width="5.755" height="25.85" fill="#feeda4"/>
<rect x="280.60" y="205.80" width="5.755" height="25.85" fill="#feeda4"/>
<rect x="286.35" y="205.80" width="5.755" height="25.85" fill="#feeda4"/>
<rect x="292.11" y="205.80" width="5.755" height="25.85" fill="#feeda4"/>
<rect x="297.87" y="205.80" width="5.755" height="25.85" fill="#feeda4"/>
<rect x="303.62" y="205.80" width="5.755" height="25.85" fill="#feeda4"/>
<rect x="309.38" y="205.80" width="5.755" height="25.85" fill="#feeda4"/>
<rect x="315.13" y="205.80" width="5.755" height="25.85" fill="#feeda4"/>
<rect x="320.88" y="205.80" width="5.755" height="25.85" fill="#fff5af"/>
<rect x="326.64" y="205.80" width="5.755" height="25.85" fill="#feeda4"/>
<rect x="332.39" y="205.80" width="5.755" height="25.85" fill="#feeda4"/>
<rect x="338.15" y="205.80" width="5.755" height="25.85" fill="#feeda4"/>
<rect x="343.90" y="205.80" width="5.755" height="25.85" fill="#feeda4"/>
<rect x="349.66" y="205.80" width="5.755" height="25.85" fill="#feeda4"/>
<rect x="355.41" y="205.80" width="5.755" height="25.85" fill="#feeda4"/>
<rect x="361.17" y="205.80" width="5.755" height="25.85" fill="#feeda4"/>
<rect x="366.92" y="205.80" width="5.755" height="25.85" fill="#feeda4"/>
<rect x="372.68" y="205.80" width="5.755" height="25.85" fill="#feeda4"/>
<rect x="378.43" y="205.80" width="5.755" height="25.85" fill="#feeda4"/>
<rect x="384.19" y="205.80" width="5.755" height="25.85" fill="#feeda4"/>
<rect x="389.94" y="205.80" width="5.755" height="25.85" fill="#feeda4"/>
<rect x="395.70" y="205.80" width="5.755" height="25.85" fill="#feeda4"/>
<rect x="401.45" y="205.80" width="5.755" height="25.85" fill="#feeda4"/>
<rect x="407.21" y="205.80" width="5.755" height="25.85" fill="#feeda4"/>
<rect x="412.96" y="205.80" width="5.755" height="25.85" fill="#feeda4"/>
<rect x="418.72" y="205.80" width="5.755" height="25.85" fill="#feeda4"/>
<rect x="424.47" y="205.80" width="5.755" height="25.85" fill="#feeda4"/>
<rect x="430.23" y="205.80" width="5.755" height="25.85" fill="#feeda4"/>
<rect x="435.98" y="205.80" width="5.755" height="25.85" fill="#feeda4"/>
<rect x="441.74" y="205.80" width="5.755" height="25.85" fill="#feeda4"/>
<rect x="447.49" y="205.80" width="5.755" height="25.85" fill="#feeda4"/>
<rect x="453.25" y="205.80" width="5.755" height="25.85" fill="#feeda4"/>
<rect x="459.00" y="205.80" width="5.755" height="25.85" fill="#feeda4"/>
<rect x="464.76" y="205.80" width="5.755" height="25.85" fill="#feeda4"/>
<rect x="470.51" y="205.80" width="5.755" height="25.85" fill="#feeda4"/>
<rect x="476.27" y="205.80" width="5.755" height="25.85" fill="#feeda4"/>
<rect x="482.02" y="205.80" width="5.755" height="25.85" fill="#feeda4"/>
<rect x="487.78" y="205.80" width="5.755" height="25.85" fill="#feeda4"/>
<rect x="493.53" y="205.80" width="5.755" height="25.85" fill="#feeda4"/>
<rect x="499.29" y="205.80" width="5.755" height="25.85" fill="#fff5af"/>
<rect x="505.04" y="205.80" width="5.755" height="25.85" fill="#feeda4"/>
<rect x="510.80" y="205.80" width="5.755" height="25.85" fill="#fff5af"/>
<rect x="516.55" y="205.80" width="5.755" height="25.85" fill="#feeda4"/>
<rect x="522.31" y="205.80" width="5.755" height="25.85" fill="#feeda4"/>
<rect x="528.06" y="205.80" width="5.755" height="25.85" fill="#feeda4"/>
<rect x="533.82" y="205.80" width="5.755" height="25.85" fill="#feeda4"/>
<rect x="539.58" y="205.80" width="5.755" height="25.85" fill="#feeda4"/>
<rect x="545.33" y="205.80" width="5.755" height="25.85" fill="#feeda4"/>
<rect x="551.09" y="205.80" width="5.755" height="25.85" fill="#feeda4"/>
<rect x="556.84" y="205.80" width="5.755" height="25.85" fill="#feeda4"/>
<rect x="562.59" y="205.80" width="5.755" height="25.85" fill="#feeda4"/>
<rect x="568.35" y="205.80" width="5.755" height="25.85" fill="#feeda4"/>
<rect x="574.11" y="205.80" width="5.755" height="25.85" fill="#fff5af"/>
<rect x="579.86" y="205.80" width="5.755" height="25.85" fill="#feeda4"/>
<rect x="585.62" y="205.80" width="5.755" height="25.85" fill="#fff5af"/>
<rect x="591.37" y="205.80" width="5.755" height="25.85" fill="#feeda4"/>
<rect x="597.12" y="205.80" width="5.755" height="25.85" fill="#feeda4"/>
<rect x="602.88" y="205.80" width="5.755" height="25.85" fill="#feeda4"/>
<rect x="608.63" y="205.80" width="5.755" height="25.85" fill="#feeda4"/>
<rect x="614.39" y="205.80" width="5.755" height="25.85" fill="#feeda4"/>
<rect x="620.14" y="205.80" width="5.755" height="25.85" fill="#feeda4"/>
<rect x="50.40" y="231.65" width="5.755" height="25.85" fill="#fdbd79"/>
<rect x="56.16" y="231.65" width="5.755" height="25.85" fill="#f2744b"/>
<rect x="61.91" y="231.65" width="5.755" height="25.85" fill="#fc905b"/>
<rect x="67.66" y="231.65" width="5.755" height="25.85" fill="#f2744b"/>
<rect x="73.42" y="231.65" width="5.755" height="25.85" fill="#feeda4"/>
<rect x="79.17" y="231.65" width="5.755" height="25.85" fill="#fff5af"/>
<rect x="84.93" y="231.65" width="5.755" height="25.85" fill="#feeda4"/>
<rect x="90.69" y="231.65" width="5.755" height="25.85" fill="#feeda4"/>
<rect x="96.44" y="231.65" width="5.755" height="25.85" fill="#feeda4"/>
<rect x="102.19" y="231.65" width="5.755" height="25.85" fill="#fed186"/>
<rect x="107.95" y="231.65" width="5.755" height="25.85" fill="#feeda4"/>
<rect x="113.70" y="231.65" width="5.755" height="25.85" fill="#fff5af"/>
<rect x="119.46" y="231.65" width="5.755" height="25.85" fill="#feeda4"/>
<rect x="125.22" y="231.65" width="5.755" height="25.85" fill="#feeda4"/>
<rect x="130.97" y="231.65" width="5.755" height="25.85" fill="#feeda4"/>
<rect x="136.72" y="231.65" width="5.755" height="25.85" fill="#fff5af"/>
<rect x="142.48" y="231.65" width="5.755" height="25.85" fill="#feeda4"/>
<rect x="148.23" y="231.65" width="5.755" height="25.85" fill="#feeda4"/>
<rect x="153.99" y="231.65" width="5.755" height="25.85" fill="#feeda4"/>
<rect x="159.75" y="231.65" width="5.755" height="25.85" fill="#feeda4"/>
<rect x="165.50" y="231.65" width="5.755" height="25.85" fill="#fee496"/>
<rect x="171.25" y="231.65" width="5.755" height="25.85" fill="#fff5af"/>
<rect x="177.01" y="231.65" width="5.755" height="25.85" fill="#feeda4"/>
<rect x="182.77" y="231.65" width="5.755" height="25.85" fill="#feeda4"/>
<rect x="188.52" y="231.65" width="5.755" height="25.85" fill="#feeda4"/>
<rect x="194.28" y="231.65" width="5.755" height="25.85" fill="#fed186"/>
<rect x="200.03" y="231.65" width="5.755" height="25.85" fill="#fed186"/>
<rect x="205.78" y="231.65" width="5.755" height="25.85" fill="#fed186"/>
<rect x="211.54" y="231.65" width="5.755" height="25.85" fill="#fee496"/>
<rect x="217.30" y="231.65" width="5.755" height="25.85" fill="#fff5af"/>
<rect x="223.05" y="231.65" width="5.755" height="25.85" fill="#feeda4"/>
<rect x="228.81" y="231.65" width="5.755" height="25.85" fill="#fff5af"/>
<rect x="234.56" y="231.65" width="5.755" height="25.85" fill="#fffebe"/>
<rect x="240.31" y="231.65" width="5.755" height="25.85" fill="#feeda4"/>
<rect x="246.07" y="231.65" width="5.755" height="25.85" fill="#fee496"/>
<rect x="251.82" y="231.65" width="5.755" height="25.85" fill="#fee496"/>
<rect x="257.58" y="231.65" width="5.755" height="25.85" fill="#fee496"/>
<rect x="263.33" y="231.65" width="5.755" height="25.85" fill="#feeda4"/>
<rect x="269.09" y="231.65" width="5.755" height="25.85" fill="#fee496"/>
<rect x="274.84" y="231.65" width="5.755" height="25.85" fill="#feeda4"/>
<rect x="280.60" y="231.65" width="5.755" height="25.85" fill="#fee496"/>
<rect x="286.35" y="231.65" width="5.755" height="25.85" fill="#fee496"/>
<rect x="292.11" y="231.65" width="5.755" height="25.85" fill="#fee496"/>
<rect x="297.87" y="231.65" width="5.755" height="25.85" fill="#feeda4"/>
<rect x="303.62" y="231.65" width="5.755" height="25.85" fill="#fed186"/>
<rect x="309.38" y="231.65" width="5.755" height="25.85" fill="#fed186"/>
<rect x="315.13" y="231.65" width="5.755" height="25.85" fill="#fed186"/>
<rect x="320.88" y="231.65" width="5.755" height="25.85" fill="#fdbd79"/>
<rect x="326.64" y="231.65" width="5.755" height="25.85" fill="#fda468"/>
<rect x="332.39" y="231.65" width="5.755" height="25.85" fill="#fdbd79"/>
<rect x="338.15" y="231.65" width="5.755" height="25.85" fill="#fdbd79"/>
<rect x="343.90" y="231.65" width="5.755" height="25.85" fill="#fffebe"/>
<rect x="349.66" y="231.65" width="5.755" height="25.85" fill="#fee496"/>
<rect x="355.41" y="231.65" width="5.755" height="25.85" fill="#fee496"/>
<rect x="361.17" y="231.65" width="5.755" height="25.85" fill="#fee496"/>
<rect x="366.92" y="231.65" width="5.755" height="25.85" fill="#fff5af"/>
<rect x="372.68" y="231.65" width="5.755" height="25.85" fill="#fdbd79"/>
<rect x="378.43" y="231.65" width="5.755" height="25.85" fill="#feeda4"/>
<rect x="384.19" y="231.65" width="5.755" height="25.85" fill="#fed186"/>
<rect x="389.94" y="231.65" width="5.755" height="25.85" fill="#feeda4"/>
<rect x="395.70" y="231.65" width="5.755" height="25.85" fill="#fee496"/>
<rect x="401.45" y="231.65" width="5.755" height="25.85" fill="#feeda4"/>
<rect x="407.21" y="231.65" width="5.755" height="25.85" fill="#fee496"/>
<rect x="412.96" y="231.65" width="5.755" height="25.85" fill="#feeda4"/>
<rect x="418.72" y="231.65" width="5.755" height="25.85" fill="#fee496"/>
<rect x="424.47" y="231.65" width="5.755" height="25.85" fill="#fee496"/>
<rect x="430.23" y="231.65" width="5.755" height="25.85" fill="#fee496"/>
<rect x="435.98" y="231.65" width="5.755" height="25.85" fill="#fed186"/>
<rect x="441.74" y="231.65" width="5.755" height="25.85" fill="#feeda4"/>
<rect x="447.49" y="231.65" width="5.755" height="25.85" fill="#feeda4"/>
<rect x="453.25" y="231.65" width="5.755" height="25.85" fill="#fee496"/>
<rect x="459.00" y="231.65" width="5.755" height="25.85" fill="#fed186"/>
<rect x="464.76" y="231.65" width="5.755" height="25.85" fill="#fed186"/>
<rect x="470.51" y="231.65" width="5.755" height="25.85" fill="#fee496"/>
<rect x="476.27" y="231.65" width="5.755" height="25.85" fill="#fee496"/>
<rect x="482.02" y="231.65" width="5.755" height="25.85" fill="#fee496"/>
<rect x="487.78" y="231.65" width="5.755" height="25.85" fill="#fee496"/>
<rect x="493.53" y="231.65" width="5.755" height="25.85" fill="#feeda4"/>
<rect x="499.29" y="231.65" width="5.755" height="25.85" fill="#feeda4"/>
<rect x="505.04" y="231.65" width="5.755" height="25.85" fill="#feeda4"/>
<rect x="510.80" y="231.65" width="5.755" height="25.85" fill="#feeda4"/>
<rect x="516.55" y="231.65" width="5.755" height="25.85" fill="#feeda4"/>
<rect x="522.31" y="231.65" width="5.755" height="25.85" fill="#fff5af"/>
<rect x="528.06" y="231.65" width="5.755" height="25.85" fill="#feeda4"/>
<rect x="533.82" y="231.65" width="5.755" height="25.85" fill="#feeda4"/>
<rect x="539.58" y="231.65" width="5.755" height="25.85" fill="#feeda4"/>
<rect x="545.33" y="231.65" width="5.755" height="25.85" fill="#fff5af"/>
<rect x="551.09" y="231.65" width="5.755" height="25.85" fill="#feeda4"/>
<rect x="556.84" y="231.65" width="5.755" height="25.85" fill="#feeda4"/>
<rect x="562.59" y="231.65" width="5.755" height="25.85" fill="#fff5af"/>
<rect x="568.35" y="231.65" width="5.755" height="25.85" fill="#feeda4"/>
<rect x="574.11" y="231.65" width="5.755" height="25.85" fill="#feeda4"/>
<rect x="579.86" y="231.65" width="5.755" height="25.85" fill="#feeda4"/>
<rect x="585.62" y="231.65" width="5.755" height="25.85" fill="#fff5af"/>
<rect x="591.37" y="231.65" width="5.755" height="25.85" fill="#feeda4"/>
<rect x="597.12" y="231.65" width="5.755" height="25.85" fill="#feeda4"/>
<rect x="602.88" y="231.65" width="5.755" height="25.85" fill="#feeda4"/>
<rect x="608.63" y="231.65" width="5.755" height="25.85" fill="#feeda4"/>
<rect x="614.39" y="231.65" width="5.755" height="25.85" fill="#feeda4"/>
<rect x="620.14" y="231.65" width="5.755" height="25.85" fill="#feeda4"/>
<rect x="50.40" y="257.50" width="5.755" height="25.85" fill="#fda468"/>
<rect x="56.16" y="257.50" width="5.755" height="25.85" fill="#fc905b"/>
<rect x="61.91" y="257.50" width="5.755" height="25.85" fill="#f2744b"/>
<rect x="67.66" y="257.50" width="5.755" height="25.85" fill="#fda468"/>
<rect x="73.42" y="257.50" width="5.755" height="25.85" fill="#fee496"/>
<rect x="79.17" y="257.50" width="5.755" height="25.85" fill="#feeda4"/>
<rect x="84.93" y="257.50" width="5.755" height="25.85" fill="#fed186"/>
<rect x="90.69" y="257.50" width="5.755" height="25.85" fill="#feeda4"/>
<rect x="96.44" y="257.50" width="5.755" height="25.85" fill="#fee496"/>
<rect x="102.19" y="257.50" width="5.755" height="25.85" fill="#fda468"/>
<rect x="107.95" y="257.50" width="5.755" height="25.85" fill="#fdbd79"/>
<rect x="113.70" y="257.50" width="5.755" height="25.85" fill="#fff5af"/>
<rect x="119.46" y="257.50" width="5.755" height="25.85" fill="#fdbd79"/>
<rect x="125.22" y="257.50" width="5.755" height="25.85" fill="#fed186"/>
<rect x="130.97" y="257.50" width="5.755" height="25.85" fill="#fed186"/>
<rect x="136.72" y="257.50" width="5.755" height="25.85" fill="#fee496"/>
<rect x="142.48" y="257.50" width="5.755" height="25.85" fill="#feeda4"/>
<rect x="148.23" y="257.50" width="5.755" height="25.85" fill="#fed186"/>
<rect x="153.99" y="257.50" width="5.755" height="25.85" fill="#fee496"/>
<rect x="159.75" y="257.50" width="5.755" height="25.85" fill="#feeda4"/>
<rect x="165.50" y="257.50" width="5.755" height="25.85" fill="#fdbd79"/>
<rect x="171.25" y="257.50" width="5.755" height="25.85" fill="#fee496"/>
<rect x="177.01" y="257.50" width="5.755" height="25.85" fill="#fee496"/>
<rect x="182.77" y="257.50" width="5.755" height="25.85" fill="#fee496"/>
<rect x="188.52" y="257.50" width="5.755" height="25.85" fill="#fff5af"/>
<rect x="194.28" y="257.50" width="5.755" height="25.85" fill="#fdbd79"/>
<rect x="200.03" y="257.50" width="5.755" height="25.85" fill="#fed186"/>
<rect x="205.78" y="257.50" width="5.755" height="25.85" fill="#fed186"/>
<rect x="211.54" y="257.50" width="5.755" height="25.85" fill="#fee496"/>
<rect x="217.30" y="257.50" width="5.755" height="25.85" fill="#fed186"/>
<rect x="223.05" y="257.50" width="5.755" height="25.85" fill="#fee496"/>
<rect x="228.81" y="257.50" width="5.755" height="25.85" fill="#fff5af"/>
<rect x="234.56" y="257.50" width="5.755" height="25.85" fill="#fed186"/>
<rect x="240.31" y="257.50" width="5.755" height="25.85" fill="#fed186"/>
<rect x="246.07" y="257.50" width="5.755" height="25.85" fill="#fed186"/>
<rect x="251.82" y="257.50" width="5.755" height="25.85" fill="#fed186"/>
<rect x="257.58" y="257.50" width="5.755" height="25.85" fill="#feeda4"/>
<rect x="263.33" y="257.50" width="5.755" height="25.85" fill="#fee496"/>
<rect x="269.09" y="257.50" width="5.755" height="25.85" fill="#fed186"/>
<rect x="274.84" y="257.50" width="5.755" height="25.85" fill="#fee496"/>
<rect x="280.60" y="257.50" width="5.755" height="25.85" fill="#fee496"/>
<rect x="286.35" y="257.50" width="5.755" height="25.85" fill="#fee496"/>
<rect x="292.11" y="257.50" width="5.755" height="25.85" fill="#fdbd79"/>
<rect x="297.87" y="257.50" width="5.755" height="25.85" fill="#fda468"/>
<rect x="303.62" y="257.50" width="5.755" height="25.85" fill="#fed186"/>
<rect x="309.38" y="257.50" width="5.755" height="25.85" fill="#fed186"/>
<rect x="315.13" y="257.50" width="5.755" height="25.85" fill="#fdbd79"/>
<rect x="320.88" y="257.50" width="5.755" height="25.85" fill="#fda468"/>
<rect x="326.64" y="257.50" width="5.755" height="25.85" fill="#fed186"/>
<rect x="332.39" y="257.50" width="5.755" height="25.85" fill="#fdbd79"/>
<rect x="338.15" y="257.50" width="5.755" height="25.85" fill="#fdbd79"/>
<rect x="343.90" y="257.50" width="5.755" height="25.85" fill="#fff5af"/>
<rect x="349.66" y="257.50" width="5.755" height="25.85" fill="#fda468"/>
<rect x="355.41" y="257.50" width="5.755" height="25.85" fill="#fdbd79"/>
<rect x="361.17" y="257.50" width="5.755" height="25.85" fill="#fda468"/>
<rect x="366.92" y="257.50" width="5.755" height="25.85" fill="#fee496"/>
<rect x="372.68" y="257.50" width="5.755" height="25.85" fill="#fc905b"/>
<rect x="378.43" y="257.50" width="5.755" height="25.85" fill="#fdbd79"/>
<rect x="384.19" y="257.50" width="5.755" height="25.85" fill="#fc905b"/>
<rect x="389.94" y="257.50" width="5.755" height="25.85" fill="#fda468"/>
<rect x="395.70" y="257.50" width="5.755" height="25.85" fill="#fdbd79"/>
<rect x="401.45" y="257.50" width="5.755" height="25.85" fill="#fdbd79"/>
<rect x="407.21" y="257.50" width="5.755" height="25.85" fill="#fda468"/>
<rect x="412.96" y="257.50" width="5.755" height="25.85" fill="#fdbd79"/>
<rect x="418.72" y="257.50" width="5.755" height="25.85" fill="#fdbd79"/>
<rect x="424.47" y="257.50" width="5.755" height="25.85" fill="#fda468"/>
<rect x="430.23" y="257.50" width="5.755" height="25.85" fill="#fdbd79"/>
<rect x="435.98" y="257.50" width="5.755" height="25.85" fill="#fda468"/>
<rect x="441.74" y="257.50" width="5.755" height="25.85" fill="#fdbd79"/>
<rect x="447.49" y="257.50" width="5.755" height="25.85" fill="#fed186"/>
<rect x="453.25" y="257.50" width="5.755" height="25.85" fill="#fee496"/>
<rect x="459.00" y="257.50" width="5.755" height="25.85" fill="#fdbd79"/>
<rect x="464.76" y="257.50" width="5.755" height="25.85" fill="#fdbd79"/>
<rect x="470.51" y="257.50" width="5.755" height="25.85" fill="#fda468"/>
<rect x="476.27" y="257.50" width="5.755" height="25.85" fill="#fdbd79"/>
<rect x="482.02" y="257.50" width="5.755" height="25.85" fill="#fed186"/>
<rect x="487.78" y="257.50" width="5.755" height="25.85" fill="#fed186"/>
<rect x="493.53" y="257.50" width="5.755" height="25.85" fill="#fed186"/>
<rect x="499.29" y="257.50" width="5.755" height="25.85" fill="#fee496"/>
<rect x="505.04" y="257.50" width="5.755" height="25.85" fill="#fed186"/>
<rect x="510.80" y="257.50" width="5.755" height="25.85" fill="#fee496"/>
<rect x="516.55" y="257.50" width="5.755" height="25.85" fill="#fed186"/>
<rect x="522.31" y="257.50" width="5.755" height="25.85" fill="#fed186"/>
<rect x="528.06" y="257.50" width="5.755" height="25.85" fill="#feeda4"/>
<rect x="533.82" y="257.50" width="5.755" height="25.85" fill="#fee496"/>
<rect x="539.58" y="257.50" width="5.755" height="25.85" fill="#fee496"/>
<rect x="545.33" y="257.50" width="5.755" height="25.85" fill="#fed186"/>
<rect x="551.09" y="257.50" width="5.755" height="25.85" fill="#fed186"/>
<rect x="556.84" y="257.50" width="5.755" height="25.85" fill="#fed186"/>
<rect x="562.59" y="257.50" width="5.755" height="25.85" fill="#fee496"/>
<rect x="568.35" y="257.50" width="5.755" height="25.85" fill="#fed186"/>
<rect x="574.11" y="257.50" width="5.755" height="25.85" fill="#fee496"/>
<rect x="579.86" y="257.50" width="5.755" height="25.85" fill="#feeda4"/>
<rect x="585.62" y="257.50" width="5.755" height="25.85" fill="#fee496"/>
<rect x="591.37" y="257.50" width="5.755" height="25.85" fill="#feeda4"/>
<rect x="597.12" y="257.50" width="5.755" height="25.85" fill="#fee496"/>
<rect x="602.88" y="257.50" width="5.755" height="25.85" fill="#fee496"/>
<rect x="608.63" y="257.50" width="5.755" height="25.85" fill="#fed186"/>
<rect x="614.39" y="257.50" width="5.755" height="25.85" fill="#fee496"/>
<rect x="620.14" y="257.50" width="5.755" height="25.85" fill="#fed186"/>
<rect x="50.40" y="283.35" width="5.755" height="25.85" fill="#fdbd79"/>
<rect x="56.16" y="283.35" width="5.755" height="25.85" fill="#fdbd79"/>
<rect x="61.91" y="283.35" width="5.755" height="25.85" fill="#fdbd79"/>
<rect x="67.66" y="283.35" width="5.755" height="25.85" fill="#fed186"/>
<rect x="73.42" y="283.35" width="5.755" height="25.85" fill="#fdbd79"/>
<rect x="79.17" y="283.35" width="5.755" height="25.85" fill="#fdbd79"/>
<rect x="84.93" y="283.35" width="5.755" height="25.85" fill="#fdbd79"/>
<rect x="90.69" y="283.35" width="5.755" height="25.85" fill="#fdbd79"/>
<rect x="96.44" y="283.35" width="5.755" height="25.85" fill="#fdbd79"/>
<rect x="102.19" y="283.35" width="5.755" height="25.85" fill="#fdbd79"/>
<rect x="107.95" y="283.35" width="5.755" height="25.85" fill="#fdbd79"/>
<rect x="113.70" y="283.35" width="5.755" height="25.85" fill="#fdbd79"/>
<rect x="119.46" y="283.35" width="5.755" height="25.85" fill="#fed186"/>
<rect x="125.22" y="283.35" width="5.755" height="25.85" fill="#fed186"/>
<rect x="130.97" y="283.35" width="5.755" height="25.85" fill="#fed186"/>
<rect x="136.72" y="283.35" width="5.755" height="25.85" fill="#fdbd79"/>
<rect x="142.48" y="283.35" width="5.755" height="25.85" fill="#fdbd79"/>
<rect x="148.23" y="283.35" width="5.755" height="25.85" fill="#fdbd79"/>
<rect x="153.99" y="283.35" width="5.755" height="25.85" fill="#fed186"/>
<rect x="159.75" y="283.35" width="5.755" height="25.85" fill="#fed186"/>
<rect x="165.50" y="283.35" width="5.755" height="25.85" fill="#fdbd79"/>
<rect x="171.25" y="283.35" width="5.755" height="25.85" fill="#fdbd79"/>
<rect x="177.01" y="283.35" width="5.755" height="25.85" fill="#fdbd79"/>
<rect x="182.77" y="283.35" width="5.755" height="25.85" fill="#fdbd79"/>
<rect x="188.52" y="283.35" width="5.755" height="25.85" fill="#fdbd79"/>
<rect x="194.28" y="283.35" width="5.755" height="25.85" fill="#fdbd79"/>
<rect x="200.03" y="283.35" width="5.755" height="25.85" fill="#fed186"/>
<rect x="205.78" y="283.35" width="5.755" height="25.85" fill="#fdbd79"/>
<rect x="211.54" y="283.35" width="5.755" height="25.85" fill="#fdbd79"/>
<rect x="217.30" y="283.35" width="5.755" height="25.85" fill="#fdbd79"/>
<rect x="223.05" y="283.35" width="5.755" height="25.85" fill="#fdbd79"/>
<rect x="228.81" y="283.35" width="5.755" height="25.85" fill="#fdbd79"/>
<rect x="234.56" y="283.35" width="5.755" height="25.85" fill="#fdbd79"/>
<rect x="240.31" y="283.35" width="5.755" height="25.85" fill="#fdbd79"/>
<rect x="246.07" y="283.35" width="5.755" height="25.85" fill="#fdbd79"/>
<rect x="251.82" y="283.35" width="5.755" height="25.85" fill="#fdbd79"/>
<rect x="257.58" y="283.35" width="5.755" height="25.85" fill="#fdbd79"/>
<rect x="263.33" y="283.35" width="5.755" height="25.85" fill="#fdbd79"/>
<rect x="269.09" y="283.35" width="5.755" height="25.85" fill="#fed186"/>
<rect x="274.84" y="283.35" width="5.755" height="25.85" fill="#fdbd79"/>
<rect x="280.60" y="283.35" width="5.755" height="25.85" fill="#fdbd79"/>
<rect x="286.35" y="283.35" width="5.755" height="25.85" fill="#fdbd79"/>
<rect x="292.11" y="283.35" width="5.755" height="25.85" fill="#fdbd79"/>
<rect x="297.87" y="283.35" width="5.755" height="25.85" fill="#fed186"/>
<rect x="303.62" y="283.35" width="5.755" height="25.85" fill="#fed186"/>
<rect x="309.38" y="283.35" width="5.755" height="25.85" fill="#fed186"/>
<rect x="315.13" y="283.35" width="5.755" height="25.85" fill="#fdbd79"/>
<rect x="320.88" y="283.35" width="5.755" height="25.85" fill="#fdbd79"/>
<rect x="326.64" y="283.35" width="5.755" height="25.85" fill="#fdbd79"/>
<rect x="332.39" y="283.35" width="5.755" height="25.85" fill="#fdbd79"/>
<rect x="338.15" y="283.35" width="5.755" height="25.85" fill="#fdbd79"/>
<rect x="343.90" y="283.35" width="5.755" height="25.85" fill="#fdbd79"/>
<rect x="349.66" y="283.35" width="5.755" height="25.85" fill="#fed186"/>
<rect x="355.41" y="283.35" width="5.755" height="25.85" fill="#fdbd79"/>
<rect x="361.17" y="283.35" width="5.755" height="25.85" fill="#fed186"/>
<rect x="366.92" y="283.35" width="5.755" height="25.85" fill="#fdbd79"/>
<rect x="372.68" y="283.35" width="5.755" height="25.85" fill="#fdbd79"/>
<rect x="378.43" y="283.35" width="5.755" height="25.85" fill="#fdbd79"/>
<rect x="384.19" y="283.35" width="5.755" height="25.85" fill="#fdbd79"/>
<rect x="389.94" y="283.35" width="5.755" height="25.85" fill="#fdbd79"/>
<rect x="395.70" y="283.35" width="5.755" height="25.85" fill="#fed186"/>
<rect x="401.45" y="283.35" width="5.755" height="25.85" fill="#fdbd79"/>
<rect x="407.21" y="283.35" width="5.755" height="25.85" fill="#fdbd79"/>
<rect x="412.96" y="283.35" width="5.755" height="25.85" fill="#fed186"/>
<rect x="418.72" y="283.35" width="5.755" height="25.85" fill="#fdbd79"/>
<rect x="424.47" y="283.35" width="5.755" height="25.85" fill="#fed186"/>
<rect x="430.23" y="283.35" width="5.755" height="25.85" fill="#fdbd79"/>
<rect x="435.98" y="283.35" width="5.755" height="25.85" fill="#fdbd79"/>
<rect x="441.74" y="283.35" width="5.755" height="25.85" fill="#fdbd79"/>
<rect x="447.49" y="283.35" width="5.755" height="25.85" fill="#fdbd79"/>
<rect x="453.25" y="283.35" width="5.755" height="25.85" fill="#fdbd79"/>
<rect x="459.00" y="283.35" width="5.755" height="25.85" fill="#fdbd79"/>
<rect x="464.76" y="283.35" width="5.755" height="25.85" fill="#fda468"/>
<rect x="470.51" y="283.35" width="5.755" height="25.85" fill="#fdbd79"/>
<rect x="476.27" y="283.35" width="5.755" height="25.85" fill="#fdbd79"/>
<rect x="482.02" y="283.35" width="5.755" height="25.85" fill="#fdbd79"/>
<rect x="487.78" y="283.35" width="5.755" height="25.85" fill="#fdbd79"/>
<rect x="493.53" y="283.35" width="5.755" height="25.85" fill="#fdbd79"/>
<rect x="499.29" y="283.35" width="5.755" height="25.85" fill="#fdbd79"/>
<rect x="505.04" y="283.35" width="5.755" height="25.85" fill="#fdbd79"/>
<rect x="510.80" y="283.35" width="5.755" height="25.85" fill="#fdbd79"/>
<rect x="516.55" y="283.35" width="5.755" height="25.85" fill="#fdbd79"/>
<rect x="522.31" y="283.35" width="5.755" height="25.85" fill="#fdbd79"/>
<rect x="528.06" y="283.35" width="5.755" height="25.85" fill="#fdbd79"/>
<rect x="533.82" y="283.35" width="5.755" height="25.85" fill="#fdbd79"/>
<rect x="539.58" y="283.35" width="5.755" height="25.85" fill="#fdbd79"/>
<rect x="545.33" y="283.35" width="5.755" height="25.85" fill="#fdbd79"/>
<rect x="551.09" y="283.35" width="5.755" height="25.85" fill="#fdbd79"/>
<rect x="556.84" y="283.35" width="5.755" height="25.85" fill="#fdbd79"/>
<rect x="562.59" y="283.35" width="5.755" height="25.85" fill="#fdbd79"/>
<rect x="568.35" y="283.35" width="5.755" height="25.85" fill="#fdbd79"/>
<rect x="574.11" y="283.35" width="5.755" height="25.85" fill="#fdbd79"/>
<rect x="579.86" y="283.35" width="5.755" height="25.85" fill="#fdbd79"/>
<rect x="585.62" y="283.35" width="5.755" height="25.85" fill="#fdbd79"/>
<rect x="591.37" y="283.35" width="5.755" height="25.85" fill="#fdbd79"/>
<rect x="597.12" y="283.35" width="5.755" height="25.85" fill="#fdbd79"/>
<rect x="602.88" y="283.35" width="5.755" height="25.85" fill="#fdbd79"/>
<rect x="608.63" y="283.35" width="5.755" height="25.85" fill="#fdbd79"/>
<rect x="614.39" y="283.35" width="5.755" height="25.85" fill="#fdbd79"/>
<rect x="620.14" y="283.35" width="5.755" height="25.85" fill="#fdbd79"/>
<rect x="50.40" y="309.20" width="5.755" height="25.85" fill="#fee496"/>
<rect x="56.16" y="309.20" width="5.755" height="25.85" fill="#fee496"/>
<rect x="61.91" y="309.20" width="5.755" height="25.85" fill="#feeda4"/>
<rect x="67.66" y="309.20" width="5.755" height="25.85" fill="#fed186"/>
<rect x="73.42" y="309.20" width="5.755" height="25.85" fill="#fee496"/>
<rect x="79.17" y="309.20" width="5.755" height="25.85" fill="#fee496"/>
<rect x="84.93" y="309.20" width="5.755" height="25.85" fill="#fee496"/>
<rect x="90.69" y="309.20" width="5.755" height="25.85" fill="#fee496"/>
<rect x="96.44" y="309.20" width="5.755" height="25.85" fill="#fee496"/>
<rect x="102.19" y="309.20" width="5.755" height="25.85" fill="#fee496"/>
<rect x="107.95" y="309.20" width="5.755" height="25.85" fill="#fee496"/>
<rect x="113.70" y="309.20" width="5.755" height="25.85" fill="#fed186"/>
<rect x="119.46" y="309.20" width="5.755" height="25.85" fill="#fed186"/>
<rect x="125.22" y="309.20" width="5.755" height="25.85" fill="#fee496"/>
<rect x="130.97" y="309.20" width="5.755" height="25.85" fill="#fed186"/>
<rect x="136.72" y="309.20" width="5.755" height="25.85" fill="#fee496"/>
<rect x="142.48" y="309.20" width="5.755" height="25.85" fill="#fed186"/>
<rect x="148.23" y="309.20" width="5.755" height="25.85" fill="#fee496"/>
<rect x="153.99" y="309.20" width="5.755" height="25.85" fill="#fee496"/>
<rect x="159.75" y="309.20" width="5.755" height="25.85" fill="#fee496"/>
<rect x="165.50" y="309.20" width="5.755" height="25.85" fill="#fee496"/>
<rect x="171.25" y="309.20" width="5.755" height="25.85" fill="#fee496"/>
<rect x="177.01" y="309.20" width="5.755" height="25.85" fill="#fee496"/>
<rect x="182.77" y="309.20" width="5.755" height="25.85" fill="#fee496"/>
<rect x="188.52" y="309.20" width="5.755" height="25.85" fill="#fed186"/>
<rect x="194.28" y="309.20" width="5.755" height="25.85" fill="#fed186"/>
<rect x="200.03" y="309.20" width="5.755" height="25.85" fill="#fee496"/>
<rect x="205.78" y="309.20" width="5.755" height="25.85" fill="#fed186"/>
<rect x="211.54" y="309.20" width="5.755" height="25.85" fill="#fee496"/>
<rect x="217.30" y="309.20" width="5.755" height="25.85" fill="#fee496"/>
<rect x="223.05" y="309.20" width="5.755" height="25.85" fill="#fee496"/>
<rect x="228.81" y="309.20" width="5.755" height="25.85" fill="#fed186"/>
<rect x="234.56" y="309.20" width="5.755" height="25.85" fill="#fee496"/>
<rect x="240.31" y="309.20" width="5.755" height="25.85" fill="#fed186"/>
<rect x="246.07" y="309.20" width="5.755" height="25.85" fill="#fee496"/>
<rect x="251.82" y="309.20" width="5.755" height="25.85" fill="#fee496"/>
<rect x="257.58" y="309.20" width="5.755" height="25.85" fill="#fee496"/>
<rect x="263.33" y="309.20" width="5.755" height="25.85" fill="#fed186"/>
<rect x="269.09" y="309.20" width="5.755" height="25.85" fill="#fee496"/>
<rect x="274.84" y="309.20" width="5.755" height="25.85" fill="#fee496"/>
<rect x="280.60" y="309.20" width="5.755" height="25.85" fill="#fed186"/>
<rect x="286.35" y="309.20" width="5.755" height="25.85" fill="#fee496"/>
<rect x="292.11" y="309.20" width="5.755" height="25.85" fill="#fee496"/>
<rect x="297.87" y="309.20" width="5.755" height="25.85" fill="#feeda4"/>
<rect x="303.62" y="309.20" width="5.755" height="25.85" fill="#fee496"/>
<rect x="309.38" y="309.20" width="5.755" height="25.85" fill="#fed186"/>
<rect x="315.13" y="309.20" width="5.755" height="25.85" fill="#fee496"/>
<rect x="320.88" y="309.20" width="5.755" height="25.85" fill="#feeda4"/>
<rect x="326.64" y="309.20" width="5.755" height="25.85" fill="#fee496"/>
<rect x="332.39" y="309.20" width="5.755" height="25.85" fill="#fed186"/>
<rect x="338.15" y="309.20" width="5.755" height="25.85" fill="#fee496"/>
<rect x="343.90" y="309.20" width="5.755" height="25.85" fill="#fee496"/>
<rect x="349.66" y="309.20" width="5.755" height="25.85" fill="#fee496"/>
<rect x="355.41" y="309.20" width="5.755" height="25.85" fill="#fed186"/>
<rect x="361.17" y="309.20" width="5.755" height="25.85" fill="#fee496"/>
<rect x="366.92" y="309.20" width="5.755" height="25.85" fill="#feeda4"/>
<rect x="372.68" y="309.20" width="5.755" height="25.85" fill="#fee496"/>
<rect x="378.43" y="309.20" width="5.755" height="25.85" fill="#fee496"/>
<rect x="384.19" y="309.20" width="5.755" height="25.85" fill="#fed186"/>
<rect x="389.94" y="309.20" width="5.755" height="25.85" fill="#fee496"/>
<rect x="395.70" y="309.20" width="5.755" height="25.85" fill="#fee496"/>
<rect x="401.45" y="309.20" width="5.755" height="25.85" fill="#fee496"/>
<rect x="407.21" y="309.20" width="5.755" height="25.85" fill="#fee496"/>
<rect x="412.96" y="309.20" width="5.755" height="25.85" fill="#fed186"/>
<rect x="418.72" y="309.20" width="5.755" height="25.85" fill="#fee496"/>
<rect x="424.47" y="309.20" width="5.755" height="25.85" fill="#fee496"/>
<rect x="430.23" y="309.20" width="5.755" height="25.85" fill="#fee496"/>
<rect x="435.98" y="309.20" width="5.755" height="25.85" fill="#fee496"/>
<rect x="441.74" y="309.20" width="5.755" height="25.85" fill="#fee496"/>
<rect x="447.49" y="309.20" width="5.755" height="25.85" fill="#fee496"/>
<rect x="453.25" y="309.20" width="5.755" height="25.85" fill="#fed186"/>
<rect x="459.00" y="309.20" width="5.755" height="25.85" fill="#fee496"/>
<rect x="464.76" y="309.20" width="5.755" height="25.85" fill="#fed186"/>
<rect x="470.51" y="309.20" width="5.755" height="25.85" fill="#fee496"/>
<rect x="476.27" y="309.20" width="5.755" height="25.85" fill="#fed186"/>
<rect x="482.02" y="309.20" width="5.755" height="25.85" fill="#fee496"/>
<rect x="487.78" y="309.20" width="5.755" height="25.85" fill="#fed186"/>
<rect x="493.53" y="309.20" width="5.755" height="25.85" fill="#fee496"/>
<rect x="499.29" y="309.20" width="5.755" height="25.85" fill="#fee496"/>
<rect x="505.04" y="309.20" width="5.755" height="25.85" fill="#fee496"/>
<rect x="510.80" y="309.20" width="5.755" height="25.85" fill="#feeda4"/>
<rect x="516.55" y="309.20" width="5.755" height="25.85" fill="#fee496"/>
<rect x="522.31" y="309.20" width="5.755" height="25.85" fill="#fee496"/>
<rect x="528.06" y="309.20" width="5.755" height="25.85" fill="#fee496"/>
<rect x="533.82" y="309.20" width="5.755" height="25.85" fill="#fee496"/>
<rect x="539.58" y="309.20" width="5.755" height="25.85" fill="#fee496"/>
<rect x="545.33" y="309.20" width="5.755" height="25.85" fill="#fee496"/>
<rect x="551.09" y="309.20" width="5.755" height="25.85" fill="#fee496"/>
<rect x="556.84" y="309.20" width="5.755" height="25.85" fill="#fed186"/>
<rect x="562.59" y="309.20" width="5.755" height="25.85" fill="#fee496"/>
<rect x="568.35" y="309.20" width="5.755" height="25.85" fill="#fee496"/>
<rect x="574.11" y="309.20" width="5.755" height="25.85" fill="#fee496"/>
<rect x="579.86" y="309.20" width="5.755" height="25.85" fill="#fee496"/>
<rect x="585.62" y="309.20" width="5.755" height="25.85" fill="#fee496"/>
<rect x="591.37" y="309.20" width="5.755" height="25.85" fill="#fed186"/>
<rect x="597.12" y="309.20" width="5.755" height="25.85" fill="#fee496"/>
<rect x="602.88" y="309.20" width="5.755" height="25.85" fill="#fee496"/>
<rect x="608.63" y="309.20" width="5.755" height="25.85" fill="#fee496"/>
<rect x="614.39" y="309.20" width="5.755" height="25.85" fill="#fed186"/>
<rect x="620.14" y="309.20" width="5.755" height="25.85" fill="#fee496"/>
<rect x="50.40" y="335.05" width="5.755" height="25.85" fill="#fee496"/>
<rect x="56.16" y="335.05" width="5.755" height="25.85" fill="#fee496"/>
<rect x="61.91" y="335.05" width="5.755" height="25.85" fill="#fee496"/>
<rect x="67.66" y="335.05" width="5.755" height="25.85" fill="#fee496"/>
<rect x="73.42" y="335.05" width="5.755" height="25.85" fill="#fee496"/>
<rect x="79.17" y="335.05" width="5.755" height="25.85" fill="#fee496"/>
<rect x="84.93" y="335.05" width="5.755" height="25.85" fill="#fee496"/>
<rect x="90.69" y="335.05" width="5.755" height="25.85" fill="#fee496"/>
<rect x="96.44" y="335.05" width="5.755" height="25.85" fill="#fee496"/>
<rect x="102.19" y="335.05" width="5.755" height="25.85" fill="#fee496"/>
<rect x="107.95" y="335.05" width="5.755" height="25.85" fill="#fee496"/>
<rect x="113.70" y="335.05" width="5.755" height="25.85" fill="#fee496"/>
<rect x="119.46" y="335.05" width="5.755" height="25.85" fill="#fee496"/>
<rect x="125.22" y="335.05" width="5.755" height="25.85" fill="#fee496"/>
<rect x="130.97" y="335.05" width="5.755" height="25.85" fill="#fee496"/>
<rect x="136.72" y="335.05" width="5.755" height="25.85" fill="#fee496"/>
<rect x="142.48" y="335.05" width="5.755" height="25.85" fill="#fee496"/>
<rect x="148.23" y="335.05" width="5.755" height="25.85" fill="#fee496"/>
<rect x="153.99" y="335.05" width="5.755" height="25.85" fill="#fee496"/>
<rect x="159.75" y="335.05" width="5.755" height="25.85" fill="#fee496"/>
<rect x="165.50" y="335.05" width="5.755" height="25.85" fill="#fee496"/>
<rect x="171.25" y="335.05" width="5.755" height="25.85" fill="#fee496"/>
<rect x="177.01" y="335.05" width="5.755" height="25.85" fill="#fee496"/>
<rect x="182.77" y="335.05" width="5.755" height="25.85" fill="#fee496"/>
<rect x="188.52" y="335.05" width="5.755" height="25.85" fill="#fee496"/>
<rect x="194.28" y="335.05" width="5.755" height="25.85" fill="#fee496"/>
<rect x="200.03" y="335.05" width="5.755" height="25.85" fill="#fee496"/>
<rect x="205.78" y="335.05" width="5.755" height="25.85" fill="#fee496"/>
<rect x="211.54" y="335.05" width="5.755" height="25.85" fill="#fee496"/>
<rect x="217.30" y="335.05" width="5.755" height="25.85" fill="#fee496"/>
<rect x="223.05" y="335.05" width="5.755" height="25.85" fill="#fee496"/>
<rect x="228.81" y="335.05" width="5.755" height="25.85" fill="#fee496"/>
<rect x="234.56" y="335.05" width="5.755" height="25.85" fill="#fee496"/>
<rect x="240.31" y="335.05" width="5.755" height="25.85" fill="#fee496"/>
<rect x="246.07" y="335.05" width="5.755" height="25.85" fill="#fee496"/>
<rect x="251.82" y="335.05" width="5.755" height="25.85" fill="#fee496"/>
<rect x="257.58" y="335.05" width="5.755" height="25.85" fill="#fee496"/>
<rect x="263.33" y="335.05" width="5.755" height="25.85" fill="#fee496"/>
<rect x="269.09" y="335.05" width="5.755" height="25.85" fill="#fee496"/>
<rect x="274.84" y="335.05" width="5.755" height="25.85" fill="#fee496"/>
<rect x="280.60" y="335.05" width="5.755" height="25.85" fill="#fee496"/>
<rect x="286.35" y="335.05" width="5.755" height="25.85" fill="#fee496"/>
<rect x="292.11" y="335.05" width="5.755" height="25.85" fill="#fee496"/>
<rect x="297.87" y="335.05" width="5.755" height="25.85" fill="#fee496"/>
<rect x="303.62" y="335.05" width="5.755" height="25.85" fill="#fee496"/>
<rect x="309.38" y="335.05" width="5.755" height="25.85" fill="#fee496"/>
<rect x="315.13" y="335.05" width="5.755" height="25.85" fill="#fee496"/>
<rect x="320.88" y="335.05" width="5.755" height="25.85" fill="#fee496"/>
<rect x="326.64" y="335.05" width="5.755" height="25.85" fill="#fee496"/>
<rect x="332.39" y="335.05" width="5.755" height="25.85" fill="#fee496"/>
<rect x="338.15" y="335.05" width="5.755" height="25.85" fill="#fee496"/>
<rect x="343.90" y="335.05" width="5.755" height="25.85" fill="#fee496"/>
<rect x="349.66" y="335.05" width="5.755" height="25.85" fill="#fee496"/>
<rect x="355.41" y="335.05" width="5.755" height="25.85" fill="#fee496"/>
<rect x="361.17" y="335.05" width="5.755" height="25.85" fill="#fee496"/>
<rect x="366.92" y="335.05" width="5.755" height="25.85" fill="#fee496"/>
<rect x="372.68" y="335.05" width="5.755" height="25.85" fill="#fee496"/>
<rect x="378.43" y="335.05" width="5.755" height="25.85" fill="#fee496"/>
<rect x="384.19" y="335.05" width="5.755" height="25.85" fill="#fee496"/>
<rect x="389.94" y="335.05" width="5.755" height="25.85" fill="#fee496"/>
<rect x="395.70" y="335.05" width="5.755" height="25.85" fill="#fee496"/>
<rect x="401.45" y="335.05" width="5.755" height="25.85" fill="#fee496"/>
<rect x="407.21" y="335.05" width="5.755" height="25.85" fill="#fee496"/>
<rect x="412.96" y="335.05" width="5.755" height="25.85" fill="#fee496"/>
<rect x="418.72" y="335.05" width="5.755" height="25.85" fill="#fee496"/>
<rect x="424.47" y="335.05" width="5.755" height="25.85" fill="#fee496"/>
<rect x="430.23" y="335.05" width="5.755" height="25.85" fill="#fee496"/>
<rect x="435.98" y="335.05" width="5.755" height="25.85" fill="#fee496"/>
<rect x="441.74" y="335.05" width="5.755" height="25.85" fill="#fee496"/>
<rect x="447.49" y="335.05" width="5.755" height="25.85" fill="#fee496"/>
<rect x="453.25" y="335.05" width="5.755" height="25.85" fill="#fee496"/>
<rect x="459.00" y="335.05" width="5.755" height="25.85" fill="#fee496"/>
<rect x="464.76" y="335.05" width="5.755" height="25.85" fill="#fee496"/>
<rect x="470.51" y="335.05" width="5.755" height="25.85" fill="#fee496"/>
<rect x="476.27" y="335.05" width="5.755" height="25.85" fill="#fee496"/>
<rect x="482.02" y="335.05" width="5.755" height="25.85" fill="#fee496"/>
<rect x="487.78" y="335.05" width="5.755" height="25.85" fill="#fee496"/>
<rect x="493.53" y="335.05" width="5.755" height="25.85" fill="#fee496"/>
<rect x="499.29" y="335.05" width="5.755" height="25.85" fill="#fee496"/>
<rect x="505.04" y="335.05" width="5.755" height="25.85" fill="#fee496"/>
<rect x="510.80" y="335.05" width="5.755" height="25.85" fill="#fee496"/>
<rect x="516.55" y="335.05" width="5.755" height="25.85" fill="#fee496"/>
<rect x="522.31" y="335.05" width="5.755" height="25.85" fill="#fee496"/>
<rect x="528.06" y="335.05" width="5.755" height="25.85" fill="#fee496"/>
<rect x="533.82" y="335.05" width="5.755" height="25.85" fill="#fee496"/>
<rect x="539.58" y="335.05" width="5.755" height="25.85" fill="#fee496"/>
<rect x="545.33" y="335.05" width="5.755" height="25.85" fill="#fee496"/>
<rect x="551.09" y="335.05" width="5.755" height="25.85" fill="#fee496"/>
<rect x="556.84" y="335.05" width="5.755" height="25.85" fill="#fee496"/>
<rect x="562.59" y="335.05" width="5.755" height="25.85" fill="#fee496"/>
<rect x="568.35" y="335.05" width="5.755" height="25.85" fill="#fee496"/>
<rect x="574.11" y="335.05" width="5.755" height="25.85" fill="#fee496"/>
<rect x="579.86" y="335.05" width="5.755" height="25.85" fill="#fee496"/>
<rect x="585.62" y="335.05" width="5.755" height="25.85" fill="#fee496"/>
<rect x="591.37" y="335.05" width="5.755" height="25.85" fill="#fee496"/>
<rect x="597.12" y="335.05" width="5.755" height="25.85" fill="#fee496"/>
<rect x="602.88" y="335.05" width="5.755" height="25.85" fill="#fee496"/>
<rect x="608.63" y="335.05" width="5.755" height="25.85" fill="#fee496"/>
<rect x="614.39" y="335.05" width="5.755" height="25.85" fill="#fee496"/>
<rect x="620.14" y="335.05" width="5.755" height="25.85" fill="#fee496"/>
<rect x="50.40" y="360.90" width="5.755" height="25.85" fill="#fee496"/>
<rect x="56.16" y="360.90" width="5.755" height="25.85" fill="#fee496"/>
<rect x="61.91" y="360.90" width="5.755" height="25.85" fill="#fee496"/>
<rect x="67.66" y="360.90" width="5.755" height="25.85" fill="#fee496"/>
<rect x="73.42" y="360.90" width="5.755" height="25.85" fill="#fee496"/>
<rect x="79.17" y="360.90" width="5.755" height="25.85" fill="#fee496"/>
<rect x="84.93" y="360.90" width="5.755" height="25.85" fill="#fee496"/>
<rect x="90.69" y="360.90" width="5.755" height="25.85" fill="#fee496"/>
<rect x="96.44" y="360.90" width="5.755" height="25.85" fill="#fee496"/>
<rect x="102.19" y="360.90" width="5.755" height="25.85" fill="#fee496"/>
<rect x="107.95" y="360.90" width="5.755" height="25.85" fill="#fee496"/>
<rect x="113.70" y="360.90" width="5.755" height="25.85" fill="#fee496"/>
<rect x="119.46" y="360.90" width="5.755" height="25.85" fill="#fee496"/>
<rect x="125.22" y="360.90" width="5.755" height="25.85" fill="#fee496"/>
<rect x="130.97" y="360.90" width="5.755" height="25.85" fill="#fee496"/>
<rect x="136.72" y="360.90" width="5.755" height="25.85" fill="#fee496"/>
<rect x="142.48" y="360.90" width="5.755" height="25.85" fill="#fee496"/>
<rect x="148.23" y="360.90" width="5.755" height="25.85" fill="#fee496"/>
<rect x="153.99" y="360.90" width="5.755" height="25.85" fill="#fee496"/>
<rect x="159.75" y="360.90" width="5.755" height="25.85" fill="#feeda4"/>
<rect x="165.50" y="360.90" width="5.755" height="25.85" fill="#fee496"/>
<rect x="171.25" y="360.90" width="5.755" height="25.85" fill="#fee496"/>
<rect x="177.01" y="360.90" width="5.755" height="25.85" fill="#fee496"/>
<rect x="182.77" y="360.90" width="5.755" height="25.85" fill="#feeda4"/>
<rect x="188.52" y="360.90" width="5.755" height="25.85" fill="#fee496"/>
<rect x="194.28" y="360.90" width="5.755" height="25.85" fill="#fee496"/>
<rect x="200.03" y="360.90" width="5.755" height="25.85" fill="#fee496"/>
<rect x="205.78" y="360.90" width="5.755" height="25.85" fill="#fee496"/>
<rect x="211.54" y="360.90" width="5.755" height="25.85" fill="#fee496"/>
<rect x="217.30" y="360.90" width="5.755" height="25.85" fill="#fee496"/>
<rect x="223.05" y="360.90" width="5.755" height="25.85" fill="#fee496"/>
<rect x="228.81" y="360.90" width="5.755" height="25.85" fill="#fee496"/>
<rect x="234.56" y="360.90" width="5.755" height="25.85" fill="#fee496"/>
<rect x="240.31" y="360.90" width="5.755" height="25.85" fill="#fee496"/>
<rect x="246.07" y="360.90" width="5.755" height="25.85" fill="#fee496"/>
<rect x="251.82" y="360.90" width="5.755" height="25.85" fill="#fee496"/>
<rect x="257.58" y="360.90" width="5.755" height="25.85" fill="#fee496"/>
<rect x="263.33" y="360.90" width="5.755" height="25.85" fill="#fee496"/>
<rect x="269.09" y="360.90" width="5.755" height="25.85" fill="#fee496"/>
<rect x="274.84" y="360.90" width="5.755" height="25.85" fill="#fee496"/>
<rect x="280.60" y="360.90" width="5.755" height="25.85" fill="#fee496"/>
<rect x="286.35" y="360.90" width="5.755" height="25.85" fill="#fee496"/>
<rect x="292.11" y="360.90" width="5.755" height="25.85" fill="#fee496"/>
<rect x="297.87" y="360.90" width="5.755" height="25.85" fill="#fee496"/>
<rect x="303.62" y="360.90" width="5.755" height="25.85" fill="#feeda4"/>
<rect x="309.38" y="360.90" width="5.755" height="25.85" fill="#fee496"/>
<rect x="315.13" y="360.90" width="5.755" height="25.85" fill="#fee496"/>
<rect x="320.88" y="360.90" width="5.755" height="25.85" fill="#fee496"/>
<rect x="326.64" y="360.90" width="5.755" height="25.85" fill="#feeda4"/>
<rect x="332.39" y="360.90" width="5.755" height="25.85" fill="#fee496"/>
<rect x="338.15" y="360.90" width="5.755" height="25.85" fill="#fee496"/>
<rect x="343.90" y="360.90" width="5.755" height="25.85" fill="#fee496"/>
<rect x="349.66" y="360.90" width="5.755" height="25.85" fill="#fee496"/>
<rect x="355.41" y="360.90" width="5.755" height="25.85" fill="#fee496"/>
<rect x="361.17" y="360.90" width="5.755" height="25.85" fill="#fee496"/>
<rect x="366.92" y="360.90" width="5.755" height="25.85" fill="#fee496"/>
<rect x="372.68" y="360.90" width="5.755" height="25.85" fill="#fee496"/>
<rect x="378.43" y="360.90" width="5.755" height="25.85" fill="#fee496"/>
<rect x="384.19" y="360.90" width="5.755" height="25.85" fill="#fee496"/>
<rect x="389.94" y="360.90" width="5.755" height="25.85" fill="#fee496"/>
<rect x="395.70" y="360.90" width="5.755" height="25.85" fill="#fee496"/>
<rect x="401.45" y="360.90" width="5.755" height="25.85" fill="#fee496"/>
<rect x="407.21" y="360.90" width="5.755" height="25.85" fill="#fee496"/>
<rect x="412.96" y="360.90" width="5.755" height="25.85" fill="#fee496"/>
<rect x="418.72" y="360.90" width="5.755" height="25.85" fill="#fee496"/>
<rect x="424.47" y="360.90" width="5.755" height="25.85" fill="#fee496"/>
<rect x="430.23" y="360.90" width="5.755" height="25.85" fill="#fee496"/>
<rect x="435.98" y="360.90" width="5.755" height="25.85" fill="#fee496"/>
<rect x="441.74" y="360.90" width="5.755" height="25.85" fill="#fee496"/>
<rect x="447.49" y="360.90" width="5.755" height="25.85" fill="#fee496"/>
<rect x="453.25" y="360.90" width="5.755" height="25.85" fill="#fee496"/>
<rect x="459.00" y="360.90" width="5.755" height="25.85" fill="#fee496"/>
<rect x="464.76" y="360.90" width="5.755" height="25.85" fill="#fed186"/>
<rect x="470.51" y="360.90" width="5.755" height="25.85" fill="#fee496"/>
<rect x="476.27" y="360.90" width="5.755" height="25.85" fill="#fee496"/>
<rect x="482.02" y="360.90" width="5.755" height="25.85" fill="#fee496"/>
<rect x="487.78" y="360.90" width="5.755" height="25.85" fill="#fee496"/>
<rect x="493.53" y="360.90" width="5.755" height="25.85" fill="#fee496"/>
<rect x="499.29" y="360.90" width="5.755" height="25.85" fill="#fee496"/>
<rect x="505.04" y="360.90" width="5.755" height="25.85" fill="#fee496"/>
<rect x="510.80" y="360.90" width="5.755" height="25.85" fill="#fee496"/>
<rect x="516.55" y="360.90" width="5.755" height="25.85" fill="#fee496"/>
<rect x="522.31" y="360.90" width="5.755" height="25.85" fill="#fee496"/>
<rect x="528.06" y="360.90" width="5.755" height="25.85" fill="#fee496"/>
<rect x="533.82" y="360.90" width="5.755" height="25.85" fill="#fee496"/>
<rect x="539.58" y="360.90" width="5.755" height="25.85" fill="#fee496"/>
<rect x="545.33" y="360.90" width="5.755" height="25.85" fill="#fee496"/>
<rect x="551.09" y="360.90" width="5.755" height="25.85" fill="#fee496"/>
<rect x="556.84" y="360.90" width="5.755" height="25.85" fill="#fee496"/>
<rect x="562.59" y="360.90" width="5.755" height="25.85" fill="#fee496"/>
<rect x="568.35" y="360.90" width="5.755" height="25.85" fill="#fee496"/>
<rect x="574.11" y="360.90" width="5.755" height="25.85" fill="#fee496"/>
<rect x="579.86" y="360.90" width="5.755" height="25.85" fill="#fee496"/>
<rect x="585.62" y="360.90" width="5.755" height="25.85" fill="#fee496"/>
<rect x="591.37" y="360.90" width="5.755" height="25.85" fill="#fee496"/>
<rect x="597.12" y="360.90" width="5.755" height="25.85" fill="#fee496"/>
<rect x="602.88" y="360.90" width="5.755" height="25.85" fill="#fee496"/>
<rect x="608.63" y="360.90" width="5.755" height="25.85" fill="#fee496"/>
<rect x="614.39" y="360.90" width="5.755" height="25.85" fill="#fee496"/>
<rect x="620.14" y="360.90" width="5.755" height="25.85" fill="#fee496"/>
<rect x="50.40" y="386.75" width="5.755" height="25.85" fill="#eff9dc"/>
<rect x="56.16" y="386.75" width="5.755" height="25.85" fill="#e8f6ea"/>
<rect x="61.91" y="386.75" width="5.755" height="25.85" fill="#f8fccb"/>
<rect x="67.66" y="386.75" width="5.755" height="25.85" fill="#fffebe"/>
<rect x="73.42" y="386.75" width="5.755" height="25.85" fill="#eff9dc"/>
<rect x="79.17" y="386.75" width="5.755" height="25.85" fill="#f8fccb"/>
<rect x="84.93" y="386.75" width="5.755" height="25.85" fill="#eff9dc"/>
<rect x="90.69" y="386.75" width="5.755" height="25.85" fill="#eff9dc"/>
<rect x="96.44" y="386.75" width="5.755" height="25.85" fill="#eff9dc"/>
<rect x="102.19" y="386.75" width="5.755" height="25.85" fill="#fffebe"/>
<rect x="107.95" y="386.75" width="5.755" height="25.85" fill="#eff9dc"/>
<rect x="113.70" y="386.75" width="5.755" height="25.85" fill="#fffebe"/>
<rect x="119.46" y="386.75" width="5.755" height="25.85" fill="#f8fccb"/>
<rect x="125.22" y="386.75" width="5.755" height="25.85" fill="#fffebe"/>
<rect x="130.97" y="386.75" width="5.755" height="25.85" fill="#f8fccb"/>
<rect x="136.72" y="386.75" width="5.755" height="25.85" fill="#eff9dc"/>
<rect x="142.48" y="386.75" width="5.755" height="25.85" fill="#fffebe"/>
<rect x="148.23" y="386.75" width="5.755" height="25.85" fill="#eff9dc"/>
<rect x="153.99" y="386.75" width="5.755" height="25.85" fill="#fffebe"/>
<rect x="159.75" y="386.75" width="5.755" height="25.85" fill="#f8fccb"/>
<rect x="165.50" y="386.75" width="5.755" height="25.85" fill="#fffebe"/>
<rect x="171.25" y="386.75" width="5.755" height="25.85" fill="#eff9dc"/>
<rect x="177.01" y="386.75" width="5.755" height="25.85" fill="#f8fccb"/>
<rect x="182.77" y="386.75" width="5.755" height="25.85" fill="#f8fccb"/>
<rect x="188.52" y="386.75" width="5.755" height="25.85" fill="#fffebe"/>
<rect x="194.28" y="386.75" width="5.755" height="25.85" fill="#eff9dc"/>
<rect x="200.03" y="386.75" width="5.755" height="25.85" fill="#eff9dc"/>
<rect x="205.78" y="386.75" width="5.755" height="25.85" fill="#eff9dc"/>
<rect x="211.54" y="386.75" width="5.755" height="25.85" fill="#e8f6ea"/>
<rect x="217.30" y="386.75" width="5.755" height="25.85" fill="#eff9dc"/>
<rect x="223.05" y="386.75" width="5.755" height="25.85" fill="#eff9dc"/>
<rect x="228.81" y="386.75" width="5.755" height="25.85" fill="#e8f6ea"/>
<rect x="234.56" y="386.75" width="5.755" height="25.85" fill="#eff9dc"/>
<rect x="240.31" y="386.75" width="5.755" height="25.85" fill="#eff9dc"/>
<rect x="246.07" y="386.75" width="5.755" height="25.85" fill="#eff9dc"/>
<rect x="251.82" y="386.75" width="5.755" height="25.85" fill="#e8f6ea"/>
<rect x="257.58" y="386.75" width="5.755" height="25.85" fill="#eff9dc"/>
<rect x="263.33" y="386.75" width="5.755" height="25.85" fill="#eff9dc"/>
<rect x="269.09" y="386.75" width="5.755" height="25.85" fill="#f8fccb"/>
<rect x="274.84" y="386.75" width="5.755" height="25.85" fill="#eff9dc"/>
<rect x="280.60" y="386.75" width="5.755" height="25.85" fill="#eff9dc"/>
<rect x="286.35" y="386.75" width="5.755" height="25.85" fill="#eff9dc"/>
<rect x="292.11" y="386.75" width="5.755" height="25.85" fill="#eff9dc"/>
<rect x="297.87" y="386.75" width="5.755" height="25.85" fill="#f8fccb"/>
<rect x="303.62" y="386.75" width="5.755" height="25.85" fill="#f8fccb"/>
<rect x="309.38" y="386.75" width="5.755" height="25.85" fill="#fffebe"/>
<rect x="315.13" y="386.75" width="5.755" height="25.85" fill="#f8fccb"/>
<rect x="320.88" y="386.75" width="5.755" height="25.85" fill="#fffebe"/>
<rect x="326.64" y="386.75" width="5.755" height="25.85" fill="#eff9dc"/>
<rect x="332.39" y="386.75" width="5.755" height="25.85" fill="#fffebe"/>
<rect x="338.15" y="386.75" width="5.755" height="25.85" fill="#fffebe"/>
<rect x="343.90" y="386.75" width="5.755" height="25.85" fill="#eff9dc"/>
<rect x="349.66" y="386.75" width="5.755" height="25.85" fill="#fffebe"/>
<rect x="355.41" y="386.75" width="5.755" height="25.85" fill="#f8fccb"/>
<rect x="361.17" y="386.75" width="5.755" height="25.85" fill="#fffebe"/>
<rect x="366.92" y="386.75" width="5.755" height="25.85" fill="#f8fccb"/>
<rect x="372.68" y="386.75" width="5.755" height="25.85" fill="#f8fccb"/>
<rect x="378.43" y="386.75" width="5.755" height="25.85" fill="#fffebe"/>
<rect x="384.19" y="386.75" width="5.755" height="25.85" fill="#f8fccb"/>
<rect x="389.94" y="386.75" width="5.755" height="25.85" fill="#eff9dc"/>
<rect x="395.70" y="386.75" width="5.755" height="25.85" fill="#fffebe"/>
<rect x="401.45" y="386.75" width="5.755" height="25.85" fill="#eff9dc"/>
<rect x="407.21" y="386.75" width="5.755" height="25.85" fill="#fffebe"/>
<rect x="412.96" y="386.75" width="5.755" height="25.85" fill="#f8fccb"/>
<rect x="418.72" y="386.75" width="5.755" height="25.85" fill="#fffebe"/>
<rect x="424.47" y="386.75" width="5.755" height="25.85" fill="#fffebe"/>
<rect x="430.23" y="386.75" width="5.755" height="25.85" fill="#f8fccb"/>
<rect x="435.98" y="386.75" width="5.755" height="25.85" fill="#eff9dc"/>
<rect x="441.74" y="386.75" width="5.755" height="25.85" fill="#f8fccb"/>
<rect x="447.49" y="386.75" width="5.755" height="25.85" fill="#fffebe"/>
<rect x="453.25" y="386.75" width="5.755" height="25.85" fill="#f8fccb"/>
<rect x="459.00" y="386.75" width="5.755" height="25.85" fill="#fffebe"/>
<rect x="464.76" y="386.75" width="5.755" height="25.85" fill="#f8fccb"/>
<rect x="470.51" y="386.75" width="5.755" height="25.85" fill="#fffebe"/>
<rect x="476.27" y="386.75" width="5.755" height="25.85" fill="#eff9dc"/>
<rect x="482.02" y="386.75" width="5.755" height="25.85" fill="#fffebe"/>
<rect x="487.78" y="386.75" width="5.755" height="25.85" fill="#fffebe"/>
<rect x="493.53" y="386.75" width="5.755" height="25.85" fill="#fffebe"/>
<rect x="499.29" y="386.75" width="5.755" height="25.85" fill="#fffebe"/>
<rect x="505.04" y="386.75" width="5.755" height="25.85" fill="#f8fccb"/>
<rect x="510.80" y="386.75" width="5.755" height="25.85" fill="#fff5af"/>
<rect x="516.55" y="386.75" width="5.755" height="25.85" fill="#fffebe"/>
<rect x="522.31" y="386.75" width="5.755" height="25.85" fill="#fff5af"/>
<rect x="528.06" y="386.75" width="5.755" height="25.85" fill="#fffebe"/>
<rect x="533.82" y="386.75" width="5.755" height="25.85" fill="#fffebe"/>
<rect x="539.58" y="386.75" width="5.755" height="25.85" fill="#f8fccb"/>
<rect x="545.33" y="386.75" width="5.755" height="25.85" fill="#fffebe"/>
<rect x="551.09" y="386.75" width="5.755" height="25.85" fill="#f8fccb"/>
<rect x="556.84" y="386.75" width="5.755" height="25.85" fill="#f8fccb"/>
<rect x="562.59" y="386.75" width="5.755" height="25.85" fill="#fffebe"/>
<rect x="568.35" y="386.75" width="5.755" height="25.85" fill="#fffebe"/>
<rect x="574.11" y="386.75" width="5.755" height="25.85" fill="#f8fccb"/>
<rect x="579.86" y="386.75" width="5.755" height="25.85" fill="#fffebe"/>
<rect x="585.62" y="386.75" width="5.755" height="25.85" fill="#f8fccb"/>
<rect x="591.37" y="386.75" width="5.755" height="25.85" fill="#fffebe"/>
<rect x="597.12" y="386.75" width="5.755" height="25.85" fill="#eff9dc"/>
<rect x="602.88" y="386.75" width="5.755" height="25.85" fill="#fffebe"/>
<rect x="608.63" y="386.75" width="5.755" height="25.85" fill="#f8fccb"/>
<rect x="614.39" y="386.75" width="5.755" height="25.85" fill="#f8fccb"/>
<rect x="620.14" y="386.75" width="5.755" height="25.85" fill="#eff9dc"/>
<rect x="50.40" y="412.60" width="5.755" height="25.85" fill="#fffebe"/>
<rect x="56.16" y="412.60" width="5.755" height="25.85" fill="#fffebe"/>
<rect x="61.91" y="412.60" width="5.755" height="25.85" fill="#fffebe"/>
<rect x="67.66" y="412.60" width="5.755" height="25.85" fill="#fff5af"/>
<rect x="73.42" y="412.60" width="5.755" height="25.85" fill="#fffebe"/>
<rect x="79.17" y="412.60" width="5.755" height="25.85" fill="#fffebe"/>
<rect x="84.93" y="412.60" width="5.755" height="25.85" fill="#fffebe"/>
<rect x="90.69" y="412.60" width="5.755" height="25.85" fill="#fffebe"/>
<rect x="96.44" y="412.60" width="5.755" height="25.85" fill="#fffebe"/>
<rect x="102.19" y="412.60" width="5.755" height="25.85" fill="#fffebe"/>
<rect x="107.95" y="412.60" width="5.755" height="25.85" fill="#fffebe"/>
<rect x="113.70" y="412.60" width="5.755" height="25.85" fill="#fff5af"/>
<rect x="119.46" y="412.60" width="5.755" height="25.85" fill="#fffebe"/>
<rect x="125.22" y="412.60" width="5.755" height="25.85" fill="#fffebe"/>
<rect x="130.97" y="412.60" width="5.755" height="25.85" fill="#fffebe"/>
<rect x="136.72" y="412.60" width="5.755" height="25.85" fill="#fffebe"/>
<rect x="142.48" y="412.60" width="5.755" height="25.85" fill="#fffebe"/>
<rect x="148.23" y="412.60" width="5.755" height="25.85" fill="#fff5af"/>
<rect x="153.99" y="412.60" width="5.755" height="25.85" fill="#fffebe"/>
<rect x="159.75" y="412.60" width="5.755" height="25.85" fill="#fff5af"/>
<rect x="165.50" y="412.60" width="5.755" height="25.85" fill="#fffebe"/>
<rect x="171.25" y="412.60" width="5.755" height="25.85" fill="#fffebe"/>
<rect x="177.01" y="412.60" width="5.755" height="25.85" fill="#fffebe"/>
<rect x="182.77" y="412.60" width="5.755" height="25.85" fill="#fffebe"/>
<rect x="188.52" y="412.60" width="5.755" height="25.85" fill="#fffebe"/>
<rect x="194.28" y="412.60" width="5.755" height="25.85" fill="#fffebe"/>
<rect x="200.03" y="412.60" width="5.755" height="25.85" fill="#fffebe"/>
<rect x="205.78" y="412.60" width="5.755" height="25.85" fill="#fffebe"/>
<rect x="211.54" y="412.60" width="5.755" height="25.85" fill="#fffebe"/>
<rect x="217.30" y="412.60" width="5.755" height="25.85" fill="#fff5af"/>
<rect x="223.05" y="412.60" width="5.755" height="25.85" fill="#fffebe"/>
<rect x="228.81" y="412.60" width="5.755" height="25.85" fill="#fffebe"/>
<rect x="234.56" y="412.60" width="5.755" height="25.85" fill="#fff5af"/>
<rect x="240.31" y="412.60" width="5.755" height="25.85" fill="#fffebe"/>
<rect x="246.07" y="412.60" width="5.755" height="25.85" fill="#fffebe"/>
<rect x="251.82" y="412.60" width="5.755" height="25.85" fill="#fff5af"/>
<rect x="257.58" y="412.60" width="5.755" height="25.85" fill="#fffebe"/>
<rect x="263.33" y="412.60" width="5.755" height="25.85" fill="#fffebe"/>
<rect x="269.09" y="412.60" width="5.755" height="25.85" fill="#fff5af"/>
<rect x="274.84" y="412.60" width="5.755" height="25.85" fill="#fffebe"/>
<rect x="280.60" y="412.60" width="5.755" height="25.85" fill="#fffebe"/>
<rect x="286.35" y="412.60" width="5.755" height="25.85" fill="#fff5af"/>
<rect x="292.11" y="412.60" width="5.755" height="25.85" fill="#fffebe"/>
<rect x="297.87" y="412.60" width="5.755" height="25.85" fill="#fffebe"/>
<rect x="303.62" y="412.60" width="5.755" height="25.85" fill="#fffebe"/>
<rect x="309.38" y="412.60" width="5.755" height="25.85" fill="#fffebe"/>
<rect x="315.13" y="412.60" width="5.755" height="25.85" fill="#fffebe"/>
<rect x="320.88" y="412.60" width="5.755" height="25.85" fill="#fffebe"/>
<rect x="326.64" y="412.60" width="5.755" height="25.85" fill="#fffebe"/>
<rect x="332.39" y="412.60" width="5.755" height="25.85" fill="#fff5af"/>
<rect x="338.15" y="412.60" width="5.755" height="25.85" fill="#fff5af"/>
<rect x="343.90" y="412.60" width="5.755" height="25.85" fill="#fffebe"/>
<rect x="349.66" y="412.60" width="5.755" height="25.85" fill="#fff5af"/>
<rect x="355.41" y="412.60" width="5.755" height="25.85" fill="#fffebe"/>
<rect x="361.17" y="412.60" width="5.755" height="25.85" fill="#fffebe"/>
<rect x="366.92" y="412.60" width="5.755" height="25.85" fill="#fffebe"/>
<rect x="372.68" y="412.60" width="5.755" height="25.85" fill="#fffebe"/>
<rect x="378.43" y="412.60" width="5.755" height="25.85" fill="#fffebe"/>
<rect x="384.19" y="412.60" width="5.755" height="25.85" fill="#fffebe"/>
<rect x="389.94" y="412.60" width="5.755" height="25.85" fill="#fffebe"/>
<rect x="395.70" y="412.60" width="5.755" height="25.85" fill="#fffebe"/>
<rect x="401.45" y="412.60" width="5.755" height="25.85" fill="#f8fccb"/>
<rect x="407.21" y="412.60" width="5.755" height="25.85" fill="#fffebe"/>
<rect x="412.96" y="412.60" width="5.755" height="25.85" fill="#fffebe"/>
<rect x="418.72" y="412.60" width="5.755" height="25.85" fill="#f8fccb"/>
<rect x="424.47" y="412.60" width="5.755" height="25.85" fill="#fffebe"/>
<rect x="430.23" y="412.60" width="5.755" height="25.85" fill="#fffebe"/>
<rect x="435.98" y="412.60" width="5.755" height="25.85" fill="#fffebe"/>
<rect x="441.74" y="412.60" width="5.755" height="25.85" fill="#fffebe"/>
<rect x="447.49" y="412.60" width="5.755" height="25.85" fill="#fffebe"/>
<rect x="453.25" y="412.60" width="5.755" height="25.85" fill="#fffebe"/>
<rect x="459.00" y="412.60" width="5.755" height="25.85" fill="#fffebe"/>
<rect x="464.76" y="412.60" width="5.755" height="25.85" fill="#fffebe"/>
<rect x="470.51" y="412.60" width="5.755" height="25.85" fill="#fff5af"/>
<rect x="476.27" y="412.60" width="5.755" height="25.85" fill="#fffebe"/>
<rect x="482.02" y="412.60" width="5.755" height="25.85" fill="#fffebe"/>
<rect x="487.78" y="412.60" width="5.755" height="25.85" fill="#fffebe"/>
<rect x="493.53" y="412.60" width="5.755" height="25.85" fill="#eff9dc"/>
<rect x="499.29" y="412.60" width="5.755" height="25.85" fill="#fffebe"/>
<rect x="505.04" y="412.60" width="5.755" height="25.85" fill="#f8fccb"/>
<rect x="510.80" y="412.60" width="5.755" height="25.85" fill="#f8fccb"/>
<rect x="516.55" y="412.60" width="5.755" height="25.85" fill="#fffebe"/>
<rect x="522.31" y="412.60" width="5.755" height="25.85" fill="#fffebe"/>
<rect x="528.06" y="412.60" width="5.755" height="25.85" fill="#f8fccb"/>
<rect x="533.82" y="412.60" width="5.755" height="25.85" fill="#fffebe"/>
<rect x="539.58" y="412.60" width="5.755" height="25.85" fill="#fffebe"/>
<rect x="545.33" y="412.60" width="5.755" height="25.85" fill="#fffebe"/>
<rect x="551.09" y="412.60" width="5.755" height="25.85" fill="#fffebe"/>
<rect x="556.84" y="412.60" width="5.755" height="25.85" fill="#fffebe"/>
<rect x="562.59" y="412.60" width="5.755" height="25.85" fill="#fffebe"/>
<rect x="568.35" y="412.60" width="5.755" height="25.85" fill="#fffebe"/>
<rect x="574.11" y="412.60" width="5.755" height="25.85" fill="#fffebe"/>
<rect x="579.86" y="412.60" width="5.755" height="25.85" fill="#fffebe"/>
<rect x="585.62" y="412.60" width="5.755" height="25.85" fill="#fffebe"/>
<rect x="591.37" y="412.60" width="5.755" height="25.85" fill="#fffebe"/>
<rect x="597.12" y="412.60" width="5.755" height="25.85" fill="#fffebe"/>
<rect x="602.88" y="412.60" width="5.755" height="25.85" fill="#fffebe"/>
<rect x="608.63" y="412.60" width="5.755" height="25.85" fill="#fffebe"/>
<rect x="614.39" y="412.60" width="5.755" height="25.85" fill="#fffebe"/>
<rect x="620.14" y="412.60" width="5.755" height="25.85" fill="#fffebe"/>
<rect x="50.40" y="438.45" width="5.755" height="25.85" fill="#f8fccb"/>
<rect x="56.16" y="438.45" width="5.755" height="25.85" fill="#f8fccb"/>
<rect x="61.91" y="438.45" width="5.755" height="25.85" fill="#f8fccb"/>
<rect x="67.66" y="438.45" width="5.755" height="25.85" fill="#fffebe"/>
<rect x="73.42" y="438.45" width="5.755" height="25.85" fill="#fffebe"/>
<rect x="79.17" y="438.45" width="5.755" height="25.85" fill="#f8fccb"/>
<rect x="84.93" y="438.45" width="5.755" height="25.85" fill="#eff9dc"/>
<rect x="90.69" y="438.45" width="5.755" height="25.85" fill="#fffebe"/>
<rect x="96.44" y="438.45" width="5.755" height="25.85" fill="#f8fccb"/>
<rect x="102.19" y="438.45" width="5.755" height="25.85" fill="#fffebe"/>
<rect x="107.95" y="438.45" width="5.755" height="25.85" fill="#fffebe"/>
<rect x="113.70" y="438.45" width="5.755" height="25.85" fill="#fffebe"/>
<rect x="119.46" y="438.45" width="5.755" height="25.85" fill="#fffebe"/>
<rect x="125.22" y="438.45" width="5.755" height="25.85" fill="#fff5af"/>
<rect x="130.97" y="438.45" width="5.755" height="25.85" fill="#fffebe"/>
<rect x="136.72" y="438.45" width="5.755" height="25.85" fill="#eff9dc"/>
<rect x="142.48" y="438.45" width="5.755" height="25.85" fill="#fffebe"/>
<rect x="148.23" y="438.45" width="5.755" height="25.85" fill="#fffebe"/>
<rect x="153.99" y="438.45" width="5.755" height="25.85" fill="#fffebe"/>
<rect x="159.75" y="438.45" width="5.755" height="25.85" fill="#fff5af"/>
<rect x="165.50" y="438.45" width="5.755" height="25.85" fill="#fffebe"/>
<rect x="171.25" y="438.45" width="5.755" height="25.85" fill="#fffebe"/>
<rect x="177.01" y="438.45" width="5.755" height="25.85" fill="#fffebe"/>
<rect x="182.77" y="438.45" width="5.755" height="25.85" fill="#fffebe"/>
<rect x="188.52" y="438.45" width="5.755" height="25.85" fill="#fffebe"/>
<rect x="194.28" y="438.45" width="5.755" height="25.85" fill="#fffebe"/>
<rect x="200.03" y="438.45" width="5.755" height="25.85" fill="#fffebe"/>
<rect x="205.78" y="438.45" width="5.755" height="25.85" fill="#fffebe"/>
<rect x="211.54" y="438.45" width="5.755" height="25.85" fill="#eff9dc"/>
<rect x="217.30" y="438.45" width="5.755" height="25.85" fill="#fffebe"/>
<rect x="223.05" y="438.45" width="5.755" height="25.85" fill="#fffebe"/>
<rect x="228.81" y="438.45" width="5.755" height="25.85" fill="#fffebe"/>
<rect x="234.56" y="438.45" width="5.755" height="25.85" fill="#fffebe"/>
<rect x="240.31" y="438.45" width="5.755" height="25.85" fill="#fffebe"/>
<rect x="246.07" y="438.45" width="5.755" height="25.85" fill="#fffebe"/>
<rect x="251.82" y="438.45" width="5.755" height="25.85" fill="#fffebe"/>
<rect x="257.58" y="438.45" width="5.755" height="25.85" fill="#fffebe"/>
<rect x="263.33" y="438.45" width="5.755" height="25.85" fill="#fffebe"/>
<rect x="269.09" y="438.45" width="5.755" height="25.85" fill="#fff5af"/>
<rect x="274.84" y="438.45" width="5.755" height="25.85" fill="#fffebe"/>
<rect x="280.60" y="438.45" width="5.755" height="25.85" fill="#f8fccb"/>
<rect x="286.35" y="438.45" width="5.755" height="25.85" fill="#fffebe"/>
<rect x="292.11" y="438.45" width="5.755" height="25.85" fill="#f8fccb"/>
<rect x="297.87" y="438.45" width="5.755" height="25.85" fill="#eff9dc"/>
<rect x="303.62" y="438.45" width="5.755" height="25.85" fill="#feeda4"/>
<rect x="309.38" y="438.45" width="5.755" height="25.85" fill="#fffebe"/>
<rect x="315.13" y="438.45" width="5.755" height="25.85" fill="#fffebe"/>
<rect x="320.88" y="438.45" width="5.755" height="25.85" fill="#eff9dc"/>
<rect x="326.64" y="438.45" width="5.755" height="25.85" fill="#fffebe"/>
<rect x="332.39" y="438.45" width="5.755" height="25.85" fill="#fffebe"/>
<rect x="338.15" y="438.45" width="5.755" height="25.85" fill="#fffebe"/>
<rect x="343.90" y="438.45" width="5.755" height="25.85" fill="#fffebe"/>
<rect x="349.66" y="438.45" width="5.755" height="25.85" fill="#fffebe"/>
<rect x="355.41" y="438.45" width="5.755" height="25.85" fill="#fffebe"/>
<rect x="361.17" y="438.45" width="5.755" height="25.85" fill="#eff9dc"/>
<rect x="366.92" y="438.45" width="5.755" height="25.85" fill="#eff9dc"/>
<rect x="372.68" y="438.45" width="5.755" height="25.85" fill="#f8fccb"/>
<rect x="378.43" y="438.45" width="5.755" height="25.85" fill="#fffebe"/>
<rect x="384.19" y="438.45" width="5.755" height="25.85" fill="#fffebe"/>
<rect x="389.94" y="438.45" width="5.755" height="25.85" fill="#eff9dc"/>
<rect x="395.70" y="438.45" width="5.755" height="25.85" fill="#fffebe"/>
<rect x="401.45" y="438.45" width="5.755" height="25.85" fill="#fffebe"/>
<rect x="407.21" y="438.45" width="5.755" height="25.85" fill="#fffebe"/>
<rect x="412.96" y="438.45" width="5.755" height="25.85" fill="#fffebe"/>
<rect x="418.72" y="438.45" width="5.755" height="25.85" fill="#fffebe"/>
<rect x="424.47" y="438.45" width="5.755" height="25.85" fill="#fffebe"/>
<rect x="430.23" y="438.45" width="5.755" height="25.85" fill="#fffebe"/>
<rect x="435.98" y="438.45" width="5.755" height="25.85" fill="#eff9dc"/>
<rect x="441.74" y="438.45" width="5.755" height="25.85" fill="#f8fccb"/>
<rect x="447.49" y="438.45" width="5.755" height="25.85" fill="#fffebe"/>
<rect x="453.25" y="438.45" width="5.755" height="25.85" fill="#fffebe"/>
<rect x="459.00" y="438.45" width="5.755" height="25.85" fill="#fffebe"/>
<rect x="464.76" y="438.45" width="5.755" height="25.85" fill="#fff5af"/>
<rect x="470.51" y="438.45" width="5.755" height="25.85" fill="#fffebe"/>
<rect x="476.27" y="438.45" width="5.755" height="25.85" fill="#fffebe"/>
<rect x="482.02" y="438.45" width="5.755" height="25.85" fill="#fffebe"/>
<rect x="487.78" y="438.45" width="5.755" height="25.85" fill="#fffebe"/>
<rect x="493.53" y="438.45" width="5.755" height="25.85" fill="#fffebe"/>
<rect x="499.29" y="438.45" width="5.755" height="25.85" fill="#feeda4"/>
<rect x="505.04" y="438.45" width="5.755" height="25.85" fill="#fffebe"/>
<rect x="510.80" y="438.45" width="5.755" height="25.85" fill="#f8fccb"/>
<rect x="516.55" y="438.45" width="5.755" height="25.85" fill="#f8fccb"/>
<rect x="522.31" y="438.45" width="5.755" height="25.85" fill="#fffebe"/>
<rect x="528.06" y="438.45" width="5.755" height="25.85" fill="#f8fccb"/>
<rect x="533.82" y="438.45" width="5.755" height="25.85" fill="#fffebe"/>
<rect x="539.58" y="438.45" width="5.755" height="25.85" fill="#fffebe"/>
<rect x="545.33" y="438.45" width="5.755" height="25.85" fill="#eff9dc"/>
<rect x="551.09" y="438.45" width="5.755" height="25.85" fill="#eff9dc"/>
<rect x="556.84" y="438.45" width="5.755" height="25.85" fill="#fffebe"/>
<rect x="562.59" y="438.45" width="5.755" height="25.85" fill="#fffebe"/>
<rect x="568.35" y="438.45" width="5.755" height="25.85" fill="#fffebe"/>
<rect x="574.11" y="438.45" width="5.755" height="25.85" fill="#fffebe"/>
<rect x="579.86" y="438.45" width="5.755" height="25.85" fill="#fffebe"/>
<rect x="585.62" y="438.45" width="5.755" height="25.85" fill="#fffebe"/>
<rect x="591.37" y="438.45" width="5.755" height="25.85" fill="#fffebe"/>
<rect x="597.12" y="438.45" width="5.755" height="25.85" fill="#fffebe"/>
<rect x="602.88" y="438.45" width="5.755" height="25.85" fill="#fffebe"/>
<rect x="608.63" y="438.45" width="5.755" height="25.85" fill="#fffebe"/>
<rect x="614.39" y="438.45" width="5.755" height="25.85" fill="#fffebe"/>
<rect x="620.14" y="438.45" width="5.755" height="25.85" fill="#fffebe"/>
<rect x="50.40" y="464.30" width="5.755" height="25.85" fill="#b0d3e6"/>
<rect x="56.16" y="464.30" width="5.755" height="25.85" fill="#c8e3ef"/>
<rect x="61.91" y="464.30" width="5.755" height="25.85" fill="#e8f6ea"/>
<rect x="67.66" y="464.30" width="5.755" height="25.85" fill="#e8f6ea"/>
<rect x="73.42" y="464.30" width="5.755" height="25.85" fill="#dbf0f6"/>
<rect x="79.17" y="464.30" width="5.755" height="25.85" fill="#fffebe"/>
<rect x="84.93" y="464.30" width="5.755" height="25.85" fill="#98c4de"/>
<rect x="90.69" y="464.30" width="5.755" height="25.85" fill="#98c4de"/>
<rect x="96.44" y="464.30" width="5.755" height="25.85" fill="#b0d3e6"/>
<rect x="102.19" y="464.30" width="5.755" height="25.85" fill="#eff9dc"/>
<rect x="107.95" y="464.30" width="5.755" height="25.85" fill="#e8f6ea"/>
<rect x="113.70" y="464.30" width="5.755" height="25.85" fill="#e8f6ea"/>
<rect x="119.46" y="464.30" width="5.755" height="25.85" fill="#eff9dc"/>
<rect x="125.22" y="464.30" width="5.755" height="25.85" fill="#eff9dc"/>
<rect x="130.97" y="464.30" width="5.755" height="25.85" fill="#f8fccb"/>
<rect x="136.72" y="464.30" width="5.755" height="25.85" fill="#eff9dc"/>
<rect x="142.48" y="464.30" width="5.755" height="25.85" fill="#f8fccb"/>
<rect x="148.23" y="464.30" width="5.755" height="25.85" fill="#e8f6ea"/>
<rect x="153.99" y="464.30" width="5.755" height="25.85" fill="#f8fccb"/>
<rect x="159.75" y="464.30" width="5.755" height="25.85" fill="#eff9dc"/>
<rect x="165.50" y="464.30" width="5.755" height="25.85" fill="#dbf0f6"/>
<rect x="171.25" y="464.30" width="5.755" height="25.85" fill="#e8f6ea"/>
<rect x="177.01" y="464.30" width="5.755" height="25.85" fill="#fffebe"/>
<rect x="182.77" y="464.30" width="5.755" height="25.85" fill="#fffebe"/>
<rect x="188.52" y="464.30" width="5.755" height="25.85" fill="#fffebe"/>
<rect x="194.28" y="464.30" width="5.755" height="25.85" fill="#b0d3e6"/>
<rect x="200.03" y="464.30" width="5.755" height="25.85" fill="#b0d3e6"/>
<rect x="205.78" y="464.30" width="5.755" height="25.85" fill="#b0d3e6"/>
<rect x="211.54" y="464.30" width="5.755" height="25.85" fill="#c8e3ef"/>
<rect x="217.30" y="464.30" width="5.755" height="25.85" fill="#c8e3ef"/>
<rect x="223.05" y="464.30" width="5.755" height="25.85" fill="#b0d3e6"/>
<rect x="228.81" y="464.30" width="5.755" height="25.85" fill="#dbf0f6"/>
<rect x="234.56" y="464.30" width="5.755" height="25.85" fill="#c8e3ef"/>
<rect x="240.31" y="464.30" width="5.755" height="25.85" fill="#98c4de"/>
<rect x="246.07" y="464.30" width="5.755" height="25.85" fill="#b0d3e6"/>
<rect x="251.82" y="464.30" width="5.755" height="25.85" fill="#b0d3e6"/>
<rect x="257.58" y="464.30" width="5.755" height="25.85" fill="#c8e3ef"/>
<rect x="263.33" y="464.30" width="5.755" height="25.85" fill="#b0d3e6"/>
<rect x="269.09" y="464.30" width="5.755" height="25.85" fill="#c8e3ef"/>
<rect x="274.84" y="464.30" width="5.755" height="25.85" fill="#dbf0f6"/>
<rect x="280.60" y="464.30" width="5.755" height="25.85" fill="#c8e3ef"/>
<rect x="286.35" y="464.30" width="5.755" height="25.85" fill="#b0d3e6"/>
<rect x="292.11" y="464.30" width="5.755" height="25.85" fill="#dbf0f6"/>
<rect x="297.87" y="464.30" width="5.755" height="25.85" fill="#b0d3e6"/>
<rect x="303.62" y="464.30" width="5.755" height="25.85" fill="#eff9dc"/>
<rect x="309.38" y="464.30" width="5.755" height="25.85" fill="#eff9dc"/>
<rect x="315.13" y="464.30" width="5.755" height="25.85" fill="#f8fccb"/>
<rect x="320.88" y="464.30" width="5.755" height="25.85" fill="#eff9dc"/>
<rect x="326.64" y="464.30" width="5.755" height="25.85" fill="#e8f6ea"/>
<rect x="332.39" y="464.30" width="5.755" height="25.85" fill="#e8f6ea"/>
<rect x="338.15" y="464.30" width="5.755" height="25.85" fill="#e8f6ea"/>
<rect x="343.90" y="464.30" width="5.755" height="25.85" fill="#fffebe"/>
<rect x="349.66" y="464.30" width="5.755" height="25.85" fill="#eff9dc"/>
<rect x="355.41" y="464.30" width="5.755" height="25.85" fill="#fffebe"/>
<rect x="361.17" y="464.30" width="5.755" height="25.85" fill="#fffebe"/>
<rect x="366.92" y="464.30" width="5.755" height="25.85" fill="#eff9dc"/>
<rect x="372.68" y="464.30" width="5.755" height="25.85" fill="#eff9dc"/>
<rect x="378.43" y="464.30" width="5.755" height="25.85" fill="#fffebe"/>
<rect x="384.19" y="464.30" width="5.755" height="25.85" fill="#fff5af"/>
<rect x="389.94" y="464.30" width="5.755" height="25.85" fill="#fffebe"/>
<rect x="395.70" y="464.30" width="5.755" height="25.85" fill="#fff5af"/>
<rect x="401.45" y="464.30" width="5.755" height="25.85" fill="#eff9dc"/>
<rect x="407.21" y="464.30" width="5.755" height="25.85" fill="#eff9dc"/>
<rect x="412.96" y="464.30" width="5.755" height="25.85" fill="#eff9dc"/>
<rect x="418.72" y="464.30" width="5.755" height="25.85" fill="#fffebe"/>
<rect x="424.47" y="464.30" width="5.755" height="25.85" fill="#f8fccb"/>
<rect x="430.23" y="464.30" width="5.755" height="25.85" fill="#eff9dc"/>
<rect x="435.98" y="464.30" width="5.755" height="25.85" fill="#eff9dc"/>
<rect x="441.74" y="464.30" width="5.755" height="25.85" fill="#eff9dc"/>
<rect x="447.49" y="464.30" width="5.755" height="25.85" fill="#eff9dc"/>
<rect x="453.25" y="464.30" width="5.755" height="25.85" fill="#eff9dc"/>
<rect x="459.00" y="464.30" width="5.755" height="25.85" fill="#f8fccb"/>
<rect x="464.76" y="464.30" width="5.755" height="25.85" fill="#eff9dc"/>
<rect x="470.51" y="464.30" width="5.755" height="25.85" fill="#e8f6ea"/>
<rect x="476.27" y="464.30" width="5.755" height="25.85" fill="#dbf0f6"/>
<rect x="482.02" y="464.30" width="5.755" height="25.85" fill="#eff9dc"/>
<rect x="487.78" y="464.30" width="5.755" height="25.85" fill="#e8f6ea"/>
<rect x="493.53" y="464.30" width="5.755" height="25.85" fill="#e8f6ea"/>
<rect x="499.29" y="464.30" width="5.755" height="25.85" fill="#eff9dc"/>
<rect x="505.04" y="464.30" width="5.755" height="25.85" fill="#dbf0f6"/>
<rect x="510.80" y="464.30" width="5.755" height="25.85" fill="#eff9dc"/>
<rect x="516.55" y="464.30" width="5.755" height="25.85" fill="#f8fccb"/>
<rect x="522.31" y="464.30" width="5.755" height="25.85" fill="#eff9dc"/>
<rect x="528.06" y="464.30" width="5.755" height="25.85" fill="#f8fccb"/>
<rect x="533.82" y="464.30" width="5.755" height="25.85" fill="#eff9dc"/>
<rect x="539.58" y="464.30" width="5.755" height="25.85" fill="#eff9dc"/>
<rect x="545.33" y="464.30" width="5.755" height="25.85" fill="#eff9dc"/>
<rect x="551.09" y="464.30" width="5.755" height="25.85" fill="#fffebe"/>
<rect x="556.84" y="464.30" width="5.755" height="25.85" fill="#eff9dc"/>
<rect x="562.59" y="464.30" width="5.755" height="25.85" fill="#e8f6ea"/>
<rect x="568.35" y="464.30" width="5.755" height="25.85" fill="#eff9dc"/>
<rect x="574.11" y="464.30" width="5.755" height="25.85" fill="#f8fccb"/>
<rect x="579.86" y="464.30" width="5.755" height="25.85" fill="#eff9dc"/>
<rect x="585.62" y="464.30" width="5.755" height="25.85" fill="#eff9dc"/>
<rect x="591.37" y="464.30" width="5.755" height="25.85" fill="#f8fccb"/>
<rect x="597.12" y="464.30" width="5.755" height="25.85" fill="#eff9dc"/>
<rect x="602.88" y="464.30" width="5.755" height="25.85" fill="#eff9dc"/>
<rect x="608.63" y="464.30" width="5.755" height="25.85" fill="#eff9dc"/>
<rect x="614.39" y="464.30" width="5.755" height="25.85" fill="#e8f6ea"/>
<rect x="620.14" y="464.30" width="5.755" height="25.85" fill="#eff9dc"/>
<rect x="50.40" y="490.15" width="5.755" height="25.85" fill="#eff9dc"/>
<rect x="56.16" y="490.15" width="5.755" height="25.85" fill="#f8fccb"/>
<rect x="61.91" y="490.15" width="5.755" height="25.85" fill="#f8fccb"/>
<rect x="67.66" y="490.15" width="5.755" height="25.85" fill="#f8fccb"/>
<rect x="73.42" y="490.15" width="5.755" height="25.85" fill="#e8f6ea"/>
<rect x="79.17" y="490.15" width="5.755" height="25.85" fill="#e8f6ea"/>
<rect x="84.93" y="490.15" width="5.755" height="25.85" fill="#eff9dc"/>
<rect x="90.69" y="490.15" width="5.755" height="25.85" fill="#e8f6ea"/>
<rect x="96.44" y="490.15" width="5.755" height="25.85" fill="#eff9dc"/>
<rect x="102.19" y="490.15" width="5.755" height="25.85" fill="#f8fccb"/>
<rect x="107.95" y="490.15" width="5.755" height="25.85" fill="#eff9dc"/>
<rect x="113.70" y="490.15" width="5.755" height="25.85" fill="#eff9dc"/>
<rect x="119.46" y="490.15" width="5.755" height="25.85" fill="#eff9dc"/>
<rect x="125.22" y="490.15" width="5.755" height="25.85" fill="#eff9dc"/>
<rect x="130.97" y="490.15" width="5.755" height="25.85" fill="#eff9dc"/>
<rect x="136.72" y="490.15" width="5.755" height="25.85" fill="#eff9dc"/>
<rect x="142.48" y="490.15" width="5.755" height="25.85" fill="#eff9dc"/>
<rect x="148.23" y="490.15" width="5.755" height="25.85" fill="#f8fccb"/>
<rect x="153.99" y="490.15" width="5.755" height="25.85" fill="#eff9dc"/>
<rect x="159.75" y="490.15" width="5.755" height="25.85" fill="#e8f6ea"/>
<rect x="165.50" y="490.15" width="5.755" height="25.85" fill="#eff9dc"/>
<rect x="171.25" y="490.15" width="5.755" height="25.85" fill="#e8f6ea"/>
<rect x="177.01" y="490.15" width="5.755" height="25.85" fill="#eff9dc"/>
<rect x="182.77" y="490.15" width="5.755" height="25.85" fill="#eff9dc"/>
<rect x="188.52" y="490.15" width="5.755" height="25.85" fill="#eff9dc"/>
<rect x="194.28" y="490.15" width="5.755" height="25.85" fill="#eff9dc"/>
<rect x="200.03" y="490.15" width="5.755" height="25.85" fill="#eff9dc"/>
<rect x="205.78" y="490.15" width="5.755" height="25.85" fill="#eff9dc"/>
<rect x="211.54" y="490.15" width="5.755" height="25.85" fill="#eff9dc"/>
<rect x="217.30" y="490.15" width="5.755" height="25.85" fill="#eff9dc"/>
<rect x="223.05" y="490.15" width="5.755" height="25.85" fill="#eff9dc"/>
<rect x="228.81" y="490.15" width="5.755" height="25.85" fill="#eff9dc"/>
<rect x="234.56" y="490.15" width="5.755" height="25.85" fill="#e8f6ea"/>
<rect x="240.31" y="490.15" width="5.755" height="25.85" fill="#eff9dc"/>
<rect x="246.07" y="490.15" width="5.755" height="25.85" fill="#f8fccb"/>
<rect x="251.82" y="490.15" width="5.755" height="25.85" fill="#eff9dc"/>
<rect x="257.58" y="490.15" width="5.755" height="25.85" fill="#eff9dc"/>
<rect x="263.33" y="490.15" width="5.755" height="25.85" fill="#e8f6ea"/>
<rect x="269.09" y="490.15" width="5.755" height="25.85" fill="#e8f6ea"/>
<rect x="274.84" y="490.15" width="5.755" height="25.85" fill="#f8fccb"/>
<rect x="280.60" y="490.15" width="5.755" height="25.85" fill="#eff9dc"/>
<rect x="286.35" y="490.15" width="5.755" height="25.85" fill="#f8fccb"/>
<rect x="292.11" y="490.15" width="5.755" height="25.85" fill="#f8fccb"/>
<rect x="297.87" y="490.15" width="5.755" height="25.85" fill="#eff9dc"/>
<rect x="303.62" y="490.15" width="5.755" height="25.85" fill="#fff5af"/>
<rect x="309.38" y="490.15" width="5.755" height="25.85" fill="#eff9dc"/>
<rect x="315.13" y="490.15" width="5.755" height="25.85" fill="#dbf0f6"/>
<rect x="320.88" y="490.15" width="5.755" height="25.85" fill="#eff9dc"/>
<rect x="326.64" y="490.15" width="5.755" height="25.85" fill="#e8f6ea"/>
<rect x="332.39" y="490.15" width="5.755" height="25.85" fill="#eff9dc"/>
<rect x="338.15" y="490.15" width="5.755" height="25.85" fill="#fffebe"/>
<rect x="343.90" y="490.15" width="5.755" height="25.85" fill="#e8f6ea"/>
<rect x="349.66" y="490.15" width="5.755" height="25.85" fill="#fffebe"/>
<rect x="355.41" y="490.15" width="5.755" height="25.85" fill="#fff5af"/>
<rect x="361.17" y="490.15" width="5.755" height="25.85" fill="#f8fccb"/>
<rect x="366.92" y="490.15" width="5.755" height="25.85" fill="#eff9dc"/>
<rect x="372.68" y="490.15" width="5.755" height="25.85" fill="#f8fccb"/>
<rect x="378.43" y="490.15" width="5.755" height="25.85" fill="#fffebe"/>
<rect x="384.19" y="490.15" width="5.755" height="25.85" fill="#f8fccb"/>
<rect x="389.94" y="490.15" width="5.755" height="25.85" fill="#fffebe"/>
<rect x="395.70" y="490.15" width="5.755" height="25.85" fill="#eff9dc"/>
<rect x="401.45" y="490.15" width="5.755" height="25.85" fill="#f8fccb"/>
<rect x="407.21" y="490.15" width="5.755" height="25.85" fill="#f8fccb"/>
<rect x="412.96" y="490.15" width="5.755" height="25.85" fill="#f8fccb"/>
<rect x="418.72" y="490.15" width="5.755" height="25.85" fill="#f8fccb"/>
<rect x="424.47" y="490.15" width="5.755" height="25.85" fill="#fffebe"/>
<rect x="430.23" y="490.15" width="5.755" height="25.85" fill="#f8fccb"/>
<rect x="435.98" y="490.15" width="5.755" height="25.85" fill="#fffebe"/>
<rect x="441.74" y="490.15" width="5.755" height="25.85" fill="#f8fccb"/>
<rect x="447.49" y="490.15" width="5.755" height="25.85" fill="#eff9dc"/>
<rect x="453.25" y="490.15" width="5.755" height="25.85" fill="#fffebe"/>
<rect x="459.00" y="490.15" width="5.755" height="25.85" fill="#eff9dc"/>
<rect x="464.76" y="490.15" width="5.755" height="25.85" fill="#f8fccb"/>
<rect x="470.51" y="490.15" width="5.755" height="25.85" fill="#eff9dc"/>
<rect x="476.27" y="490.15" width="5.755" height="25.85" fill="#fffebe"/>
<rect x="482.02" y="490.15" width="5.755" height="25.85" fill="#f8fccb"/>
<rect x="487.78" y="490.15" width="5.755" height="25.85" fill="#fffebe"/>
<rect x="493.53" y="490.15" width="5.755" height="25.85" fill="#fff5af"/>
<rect x="499.29" y="490.15" width="5.755" height="25.85" fill="#fffebe"/>
<rect x="505.04" y="490.15" width="5.755" height="25.85" fill="#f8fccb"/>
<rect x="510.80" y="490.15" width="5.755" height="25.85" fill="#eff9dc"/>
<rect x="516.55" y="490.15" width="5.755" height="25.85" fill="#eff9dc"/>
<rect x="522.31" y="490.15" width="5.755" height="25.85" fill="#eff9dc"/>
<rect x="528.06" y="490.15" width="5.755" height="25.85" fill="#f8fccb"/>
<rect x="533.82" y="490.15" width="5.755" height="25.85" fill="#eff9dc"/>
<rect x="539.58" y="490.15" width="5.755" height="25.85" fill="#f8fccb"/>
<rect x="545.33" y="490.15" width="5.755" height="25.85" fill="#f8fccb"/>
<rect x="551.09" y="490.15" width="5.755" height="25.85" fill="#eff9dc"/>
<rect x="556.84" y="490.15" width="5.755" height="25.85" fill="#f8fccb"/>
<rect x="562.59" y="490.15" width="5.755" height="25.85" fill="#f8fccb"/>
<rect x="568.35" y="490.15" width="5.755" height="25.85" fill="#eff9dc"/>
<rect x="574.11" y="490.15" width="5.755" height="25.85" fill="#f8fccb"/>
<rect x="579.86" y="490.15" width="5.755" height="25.85" fill="#eff9dc"/>
<rect x="585.62" y="490.15" width="5.755" height="25.85" fill="#f8fccb"/>
<rect x="591.37" y="490.15" width="5.755" height="25.85" fill="#eff9dc"/>
<rect x="597.12" y="490.15" width="5.755" height="25.85" fill="#fffebe"/>
<rect x="602.88" y="490.15" width="5.755" height="25.85" fill="#eff9dc"/>
<rect x="608.63" y="490.15" width="5.755" height="25.85" fill="#f8fccb"/>
<rect x="614.39" y="490.15" width="5.755" height="25.85" fill="#f8fccb"/>
<rect x="620.14" y="490.15" width="5.755" height="25.85" fill="#fffebe"/>
<rect x="50.40" y="516.00" width="5.755" height="25.85" fill="#eff9dc"/>
<rect x="56.16" y="516.00" width="5.755" height="25.85" fill="#feeda4"/>
<rect x="61.91" y="516.00" width="5.755" height="25.85" fill="#fff5af"/>
<rect x="67.66" y="516.00" width="5.755" height="25.85" fill="#fff5af"/>
<rect x="73.42" y="516.00" width="5.755" height="25.85" fill="#e8f6ea"/>
<rect x="79.17" y="516.00" width="5.755" height="25.85" fill="#e8f6ea"/>
<rect x="84.93" y="516.00" width="5.755" height="25.85" fill="#eff9dc"/>
<rect x="90.69" y="516.00" width="5.755" height="25.85" fill="#e8f6ea"/>
<rect x="96.44" y="516.00" width="5.755" height="25.85" fill="#dbf0f6"/>
<rect x="102.19" y="516.00" width="5.755" height="25.85" fill="#fffebe"/>
<rect x="107.95" y="516.00" width="5.755" height="25.85" fill="#f8fccb"/>
<rect x="113.70" y="516.00" width="5.755" height="25.85" fill="#e8f6ea"/>
<rect x="119.46" y="516.00" width="5.755" height="25.85" fill="#e8f6ea"/>
<rect x="125.22" y="516.00" width="5.755" height="25.85" fill="#e8f6ea"/>
<rect x="130.97" y="516.00" width="5.755" height="25.85" fill="#e8f6ea"/>
<rect x="136.72" y="516.00" width="5.755" height="25.85" fill="#e8f6ea"/>
<rect x="142.48" y="516.00" width="5.755" height="25.85" fill="#e8f6ea"/>
<rect x="148.23" y="516.00" width="5.755" height="25.85" fill="#eff9dc"/>
<rect x="153.99" y="516.00" width="5.755" height="25.85" fill="#e8f6ea"/>
<rect x="159.75" y="516.00" width="5.755" height="25.85" fill="#eff9dc"/>
<rect x="165.50" y="516.00" width="5.755" height="25.85" fill="#eff9dc"/>
<rect x="171.25" y="516.00" width="5.755" height="25.85" fill="#f8fccb"/>
<rect x="177.01" y="516.00" width="5.755" height="25.85" fill="#e8f6ea"/>
<rect x="182.77" y="516.00" width="5.755" height="25.85" fill="#e8f6ea"/>
<rect x="188.52" y="516.00" width="5.755" height="25.85" fill="#e8f6ea"/>
<rect x="194.28" y="516.00" width="5.755" height="25.85" fill="#e8f6ea"/>
<rect x="200.03" y="516.00" width="5.755" height="25.85" fill="#e8f6ea"/>
<rect x="205.78" y="516.00" width="5.755" height="25.85" fill="#dbf0f6"/>
<rect x="211.54" y="516.00" width="5.755" height="25.85" fill="#e8f6ea"/>
<rect x="217.30" y="516.00" width="5.755" height="25.85" fill="#eff9dc"/>
<rect x="223.05" y="516.00" width="5.755" height="25.85" fill="#e8f6ea"/>
<rect x="228.81" y="516.00" width="5.755" height="25.85" fill="#e8f6ea"/>
<rect x="234.56" y="516.00" width="5.755" height="25.85" fill="#e8f6ea"/>
<rect x="240.31" y="516.00" width="5.755" height="25.85" fill="#e8f6ea"/>
<rect x="246.07" y="516.00" width="5.755" height="25.85" fill="#dbf0f6"/>
<rect x="251.82" y="516.00" width="5.755" height="25.85" fill="#e8f6ea"/>
<rect x="257.58" y="516.00" width="5.755" height="25.85" fill="#dbf0f6"/>
<rect x="263.33" y="516.00" width="5.755" height="25.85" fill="#e8f6ea"/>
<rect x="269.09" y="516.00" width="5.755" height="25.85" fill="#e8f6ea"/>
<rect x="274.84" y="516.00" width="5.755" height="25.85" fill="#e8f6ea"/>
<rect x="280.60" y="516.00" width="5.755" height="25.85" fill="#e8f6ea"/>
<rect x="286.35" y="516.00" width="5.755" height="25.85" fill="#eff9dc"/>
<rect x="292.11" y="516.00" width="5.755" height="25.85" fill="#e8f6ea"/>
<rect x="297.87" y="516.00" width="5.755" height="25.85" fill="#e8f6ea"/>
<rect x="303.62" y="516.00" width="5.755" height="25.85" fill="#e8f6ea"/>
<rect x="309.38" y="516.00" width="5.755" height="25.85" fill="#e8f6ea"/>
<rect x="315.13" y="516.00" width="5.755" height="25.85" fill="#e8f6ea"/>
<rect x="320.88" y="516.00" width="5.755" height="25.85" fill="#eff9dc"/>
<rect x="326.64" y="516.00" width="5.755" height="25.85" fill="#eff9dc"/>
<rect x="332.39" y="516.00" width="5.755" height="25.85" fill="#e8f6ea"/>
<rect x="338.15" y="516.00" width="5.755" height="25.85" fill="#fffebe"/>
<rect x="343.90" y="516.00" width="5.755" height="25.85" fill="#dbf0f6"/>
<rect x="349.66" y="516.00" width="5.755" height="25.85" fill="#fff5af"/>
<rect x="355.41" y="516.00" width="5.755" height="25.85" fill="#f8fccb"/>
<rect x="361.17" y="516.00" width="5.755" height="25.85" fill="#f8fccb"/>
<rect x="366.92" y="516.00" width="5.755" height="25.85" fill="#dbf0f6"/>
<rect x="372.68" y="516.00" width="5.755" height="25.85" fill="#fff5af"/>
<rect x="378.43" y="516.00" width="5.755" height="25.85" fill="#f8fccb"/>
<rect x="384.19" y="516.00" width="5.755" height="25.85" fill="#fffebe"/>
<rect x="389.94" y="516.00" width="5.755" height="25.85" fill="#fff5af"/>
<rect x="395.70" y="516.00" width="5.755" height="25.85" fill="#eff9dc"/>
<rect x="401.45" y="516.00" width="5.755" height="25.85" fill="#f8fccb"/>
<rect x="407.21" y="516.00" width="5.755" height="25.85" fill="#f8fccb"/>
<rect x="412.96" y="516.00" width="5.755" height="25.85" fill="#eff9dc"/>
<rect x="418.72" y="516.00" width="5.755" height="25.85" fill="#f8fccb"/>
<rect x="424.47" y="516.00" width="5.755" height="25.85" fill="#f8fccb"/>
<rect x="430.23" y="516.00" width="5.755" height="25.85" fill="#f8fccb"/>
<rect x="435.98" y="516.00" width="5.755" height="25.85" fill="#f8fccb"/>
<rect x="441.74" y="516.00" width="5.755" height="25.85" fill="#eff9dc"/>
<rect x="447.49" y="516.00" width="5.755" height="25.85" fill="#f8fccb"/>
<rect x="453.25" y="516.00" width="5.755" height="25.85" fill="#eff9dc"/>
<rect x="459.00" y="516.00" width="5.755" height="25.85" fill="#eff9dc"/>
<rect x="464.76" y="516.00" width="5.755" height="25.85" fill="#f8fccb"/>
<rect x="470.51" y="516.00" width="5.755" height="25.85" fill="#f8fccb"/>
<rect x="476.27" y="516.00" width="5.755" height="25.85" fill="#eff9dc"/>
<rect x="482.02" y="516.00" width="5.755" height="25.85" fill="#e8f6ea"/>
<rect x="487.78" y="516.00" width="5.755" height="25.85" fill="#e8f6ea"/>
<rect x="493.53" y="516.00" width="5.755" height="25.85" fill="#e8f6ea"/>
<rect x="499.29" y="516.00" width="5.755" height="25.85" fill="#e8f6ea"/>
<rect x="505.04" y="516.00" width="5.755" height="25.85" fill="#eff9dc"/>
<rect x="510.80" y="516.00" width="5.755" height="25.85" fill="#e8f6ea"/>
<rect x="516.55" y="516.00" width="5.755" height="25.85" fill="#e8f6ea"/>
<rect x="522.31" y="516.00" width="5.755" height="25.85" fill="#e8f6ea"/>
<rect x="528.06" y="516.00" width="5.755" height="25.85" fill="#e8f6ea"/>
<rect x="533.82" y="516.00" width="5.755" height="25.85" fill="#e8f6ea"/>
<rect x="539.58" y="516.00" width="5.755" height="25.85" fill="#dbf0f6"/>
<rect x="545.33" y="516.00" width="5.755" height="25.85" fill="#dbf0f6"/>
<rect x="551.09" y="516.00" width="5.755" height="25.85" fill="#e8f6ea"/>
<rect x="556.84" y="516.00" width="5.755" height="25.85" fill="#e8f6ea"/>
<rect x="562.59" y="516.00" width="5.755" height="25.85" fill="#e8f6ea"/>
<rect x="568.35" y="516.00" width="5.755" height="25.85" fill="#eff9dc"/>
<rect x="574.11" y="516.00" width="5.755" height="25.85" fill="#e8f6ea"/>
<rect x="579.86" y="516.00" width="5.755" height="25.85" fill="#eff9dc"/>
<rect x="585.62" y="516.00" width="5.755" height="25.85" fill="#e8f6ea"/>
<rect x="591.37" y="516.00" width="5.755" height="25.85" fill="#e8f6ea"/>
<rect x="597.12" y="516.00" width="5.755" height="25.85" fill="#eff9dc"/>
<rect x="602.88" y="516.00" width="5.755" height="25.85" fill="#e8f6ea"/>
<rect x="608.63" y="516.00" width="5.755" height="25.85" fill="#eff9dc"/>
<rect x="614.39" y="516.00" width="5.755" height="25.85" fill="#eff9dc"/>
<rect x="620.14" y="516.00" width="5.755" height="25.85" fill="#e8f6ea"/>
<rect x="50.40" y="541.85" width="5.755" height="25.85" fill="#fffebe"/>
<rect x="56.16" y="541.85" width="5.755" height="25.85" fill="#fee496"/>
<rect x="61.91" y="541.85" width="5.755" height="25.85" fill="#feeda4"/>
<rect x="67.66" y="541.85" width="5.755" height="25.85" fill="#feeda4"/>
<rect x="73.42" y="541.85" width="5.755" height="25.85" fill="#eff9dc"/>
<rect x="79.17" y="541.85" width="5.755" height="25.85" fill="#e8f6ea"/>
<rect x="84.93" y="541.85" width="5.755" height="25.85" fill="#e8f6ea"/>
<rect x="90.69" y="541.85" width="5.755" height="25.85" fill="#e8f6ea"/>
<rect x="96.44" y="541.85" width="5.755" height="25.85" fill="#e8f6ea"/>
<rect x="102.19" y="541.85" width="5.755" height="25.85" fill="#fffebe"/>
<rect x="107.95" y="541.85" width="5.755" height="25.85" fill="#e8f6ea"/>
<rect x="113.70" y="541.85" width="5.755" height="25.85" fill="#dbf0f6"/>
<rect x="119.46" y="541.85" width="5.755" height="25.85" fill="#eff9dc"/>
<rect x="125.22" y="541.85" width="5.755" height="25.85" fill="#eff9dc"/>
<rect x="130.97" y="541.85" width="5.755" height="25.85" fill="#e8f6ea"/>
<rect x="136.72" y="541.85" width="5.755" height="25.85" fill="#eff9dc"/>
<rect x="142.48" y="541.85" width="5.755" height="25.85" fill="#e8f6ea"/>
<rect x="148.23" y="541.85" width="5.755" height="25.85" fill="#eff9dc"/>
<rect x="153.99" y="541.85" width="5.755" height="25.85" fill="#e8f6ea"/>
<rect x="159.75" y="541.85" width="5.755" height="25.85" fill="#eff9dc"/>
<rect x="165.50" y="541.85" width="5.755" height="25.85" fill="#f8fccb"/>
<rect x="171.25" y="541.85" width="5.755" height="25.85" fill="#f8fccb"/>
<rect x="177.01" y="541.85" width="5.755" height="25.85" fill="#e8f6ea"/>
<rect x="182.77" y="541.85" width="5.755" height="25.85" fill="#e8f6ea"/>
<rect x="188.52" y="541.85" width="5.755" height="25.85" fill="#eff9dc"/>
<rect x="194.28" y="541.85" width="5.755" height="25.85" fill="#f8fccb"/>
<rect x="200.03" y="541.85" width="5.755" height="25.85" fill="#fffebe"/>
<rect x="205.78" y="541.85" width="5.755" height="25.85" fill="#f8fccb"/>
<rect x="211.54" y="541.85" width="5.755" height="25.85" fill="#f8fccb"/>
<rect x="217.30" y="541.85" width="5.755" height="25.85" fill="#dbf0f6"/>
<rect x="223.05" y="541.85" width="5.755" height="25.85" fill="#e8f6ea"/>
<rect x="228.81" y="541.85" width="5.755" height="25.85" fill="#dbf0f6"/>
<rect x="234.56" y="541.85" width="5.755" height="25.85" fill="#e8f6ea"/>
<rect x="240.31" y="541.85" width="5.755" height="25.85" fill="#dbf0f6"/>
<rect x="246.07" y="541.85" width="5.755" height="25.85" fill="#e8f6ea"/>
<rect x="251.82" y="541.85" width="5.755" height="25.85" fill="#eff9dc"/>
<rect x="257.58" y="541.85" width="5.755" height="25.85" fill="#e8f6ea"/>
<rect x="263.33" y="541.85" width="5.755" height="25.85" fill="#eff9dc"/>
<rect x="269.09" y="541.85" width="5.755" height="25.85" fill="#eff9dc"/>
<rect x="274.84" y="541.85" width="5.755" height="25.85" fill="#e8f6ea"/>
<rect x="280.60" y="541.85" width="5.755" height="25.85" fill="#eff9dc"/>
<rect x="286.35" y="541.85" width="5.755" height="25.85" fill="#eff9dc"/>
<rect x="292.11" y="541.85" width="5.755" height="25.85" fill="#eff9dc"/>
<rect x="297.87" y="541.85" width="5.755" height="25.85" fill="#e8f6ea"/>
<rect x="303.62" y="541.85" width="5.755" height="25.85" fill="#fffebe"/>
<rect x="309.38" y="541.85" width="5.755" height="25.85" fill="#f8fccb"/>
<rect x="315.13" y="541.85" width="5.755" height="25.85" fill="#fffebe"/>
<rect x="320.88" y="541.85" width="5.755" height="25.85" fill="#f8fccb"/>
<rect x="326.64" y="541.85" width="5.755" height="25.85" fill="#fff5af"/>
<rect x="332.39" y="541.85" width="5.755" height="25.85" fill="#feeda4"/>
<rect x="338.15" y="541.85" width="5.755" height="25.85" fill="#fff5af"/>
<rect x="343.90" y="541.85" width="5.755" height="25.85" fill="#c8e3ef"/>
<rect x="349.66" y="541.85" width="5.755" height="25.85" fill="#f8fccb"/>
<rect x="355.41" y="541.85" width="5.755" height="25.85" fill="#eff9dc"/>
<rect x="361.17" y="541.85" width="5.755" height="25.85" fill="#eff9dc"/>
<rect x="366.92" y="541.85" width="5.755" height="25.85" fill="#e8f6ea"/>
<rect x="372.68" y="541.85" width="5.755" height="25.85" fill="#fff5af"/>
<rect x="378.43" y="541.85" width="5.755" height="25.85" fill="#eff9dc"/>
<rect x="384.19" y="541.85" width="5.755" height="25.85" fill="#f8fccb"/>
<rect x="389.94" y="541.85" width="5.755" height="25.85" fill="#eff9dc"/>
<rect x="395.70" y="541.85" width="5.755" height="25.85" fill="#eff9dc"/>
<rect x="401.45" y="541.85" width="5.755" height="25.85" fill="#eff9dc"/>
<rect x="407.21" y="541.85" width="5.755" height="25.85" fill="#f8fccb"/>
<rect x="412.96" y="541.85" width="5.755" height="25.85" fill="#f8fccb"/>
<rect x="418.72" y="541.85" width="5.755" height="25.85" fill="#eff9dc"/>
<rect x="424.47" y="541.85" width="5.755" height="25.85" fill="#f8fccb"/>
<rect x="430.23" y="541.85" width="5.755" height="25.85" fill="#f8fccb"/>
<rect x="435.98" y="541.85" width="5.755" height="25.85" fill="#eff9dc"/>
<rect x="441.74" y="541.85" width="5.755" height="25.85" fill="#eff9dc"/>
<rect x="447.49" y="541.85" width="5.755" height="25.85" fill="#eff9dc"/>
<rect x="453.25" y="541.85" width="5.755" height="25.85" fill="#f8fccb"/>
<rect x="459.00" y="541.85" width="5.755" height="25.85" fill="#eff9dc"/>
<rect x="464.76" y="541.85" width="5.755" height="25.85" fill="#eff9dc"/>
<rect x="470.51" y="541.85" width="5.755" height="25.85" fill="#eff9dc"/>
<rect x="476.27" y="541.85" width="5.755" height="25.85" fill="#eff9dc"/>
<rect x="482.02" y="541.85" width="5.755" height="25.85" fill="#eff9dc"/>
<rect x="487.78" y="541.85" width="5.755" height="25.85" fill="#eff9dc"/>
<rect x="493.53" y="541.85" width="5.755" height="25.85" fill="#e8f6ea"/>
<rect x="499.29" y="541.85" width="5.755" height="25.85" fill="#e8f6ea"/>
<rect x="505.04" y="541.85" width="5.755" height="25.85" fill="#f8fccb"/>
<rect x="510.80" y="541.85" width="5.755" height="25.85" fill="#e8f6ea"/>
<rect x="516.55" y="541.85" width="5.755" height="25.85" fill="#e8f6ea"/>
<rect x="522.31" y="541.85" width="5.755" height="25.85" fill="#e8f6ea"/>
<rect x="528.06" y="541.85" width="5.755" height="25.85" fill="#dbf0f6"/>
<rect x="533.82" y="541.85" width="5.755" height="25.85" fill="#e8f6ea"/>
<rect x="539.58" y="541.85" width="5.755" height="25.85" fill="#e8f6ea"/>
<rect x="545.33" y="541.85" width="5.755" height="25.85" fill="#e8f6ea"/>
<rect x="551.09" y="541.85" width="5.755" height="25.85" fill="#c8e3ef"/>
<rect x="556.84" y="541.85" width="5.755" height="25.85" fill="#dbf0f6"/>
<rect x="562.59" y="541.85" width="5.755" height="25.85" fill="#dbf0f6"/>
<rect x="568.35" y="541.85" width="5.755" height="25.85" fill="#e8f6ea"/>
<rect x="574.11" y="541.85" width="5.755" height="25.85" fill="#dbf0f6"/>
<rect x="579.86" y="541.85" width="5.755" height="25.85" fill="#e8f6ea"/>
<rect x="585.62" y="541.85" width="5.755" height="25.85" fill="#e8f6ea"/>
<rect x="591.37" y="541.85" width="5.755" height="25.85" fill="#e8f6ea"/>
<rect x="597.12" y="541.85" width="5.755" height="25.85" fill="#dbf0f6"/>
<rect x="602.88" y="541.85" width="5.755" height="25.85" fill="#e8f6ea"/>
<rect x="608.63" y="541.85" width="5.755" height="25.85" fill="#e8f6ea"/>
<rect x="614.39" y="541.85" width="5.755" height="25.85" fill="#e8f6ea"/>
<rect x="620.14" y="541.85" width="5.755" height="25.85" fill="#dbf0f6"/>
<rect x="50.40" y="567.70" width="5.755" height="25.85" fill="#eff9dc"/>
<rect x="56.16" y="567.70" width="5.755" height="25.85" fill="#eff9dc"/>
<rect x="61.91" y="567.70" width="5.755" height="25.85" fill="#eff9dc"/>
<rect x="67.66" y="567.70" width="5.755" height="25.85" fill="#e8f6ea"/>
<rect x="73.42" y="567.70" width="5.755" height="25.85" fill="#e8f6ea"/>
<rect x="79.17" y="567.70" width="5.755" height="25.85" fill="#eff9dc"/>
<rect x="84.93" y="567.70" width="5.755" height="25.85" fill="#fffebe"/>
<rect x="90.69" y="567.70" width="5.755" height="25.85" fill="#e8f6ea"/>
<rect x="96.44" y="567.70" width="5.755" height="25.85" fill="#e8f6ea"/>
<rect x="102.19" y="567.70" width="5.755" height="25.85" fill="#98c4de"/>
<rect x="107.95" y="567.70" width="5.755" height="25.85" fill="#85b4d5"/>
<rect x="113.70" y="567.70" width="5.755" height="25.85" fill="#e8f6ea"/>
<rect x="119.46" y="567.70" width="5.755" height="25.85" fill="#eff9dc"/>
<rect x="125.22" y="567.70" width="5.755" height="25.85" fill="#f8fccb"/>
<rect x="130.97" y="567.70" width="5.755" height="25.85" fill="#e8f6ea"/>
<rect x="136.72" y="567.70" width="5.755" height="25.85" fill="#eff9dc"/>
<rect x="142.48" y="567.70" width="5.755" height="25.85" fill="#eff9dc"/>
<rect x="148.23" y="567.70" width="5.755" height="25.85" fill="#eff9dc"/>
<rect x="153.99" y="567.70" width="5.755" height="25.85" fill="#e8f6ea"/>
<rect x="159.75" y="567.70" width="5.755" height="25.85" fill="#e8f6ea"/>
<rect x="165.50" y="567.70" width="5.755" height="25.85" fill="#e8f6ea"/>
<rect x="171.25" y="567.70" width="5.755" height="25.85" fill="#eff9dc"/>
<rect x="177.01" y="567.70" width="5.755" height="25.85" fill="#eff9dc"/>
<rect x="182.77" y="567.70" width="5.755" height="25.85" fill="#eff9dc"/>
<rect x="188.52" y="567.70" width="5.755" height="25.85" fill="#f8fccb"/>
<rect x="194.28" y="567.70" width="5.755" height="25.85" fill="#dbf0f6"/>
<rect x="200.03" y="567.70" width="5.755" height="25.85" fill="#eff9dc"/>
<rect x="205.78" y="567.70" width="5.755" height="25.85" fill="#f8fccb"/>
<rect x="211.54" y="567.70" width="5.755" height="25.85" fill="#e8f6ea"/>
<rect x="217.30" y="567.70" width="5.755" height="25.85" fill="#eff9dc"/>
<rect x="223.05" y="567.70" width="5.755" height="25.85" fill="#eff9dc"/>
<rect x="228.81" y="567.70" width="5.755" height="25.85" fill="#eff9dc"/>
<rect x="234.56" y="567.70" width="5.755" height="25.85" fill="#e8f6ea"/>
<rect x="240.31" y="567.70" width="5.755" height="25.85" fill="#eff9dc"/>
<rect x="246.07" y="567.70" width="5.755" height="25.85" fill="#eff9dc"/>
<rect x="251.82" y="567.70" width="5.755" height="25.85" fill="#e8f6ea"/>
<rect x="257.58" y="567.70" width="5.755" height="25.85" fill="#f8fccb"/>
<rect x="263.33" y="567.70" width="5.755" height="25.85" fill="#eff9dc"/>
<rect x="269.09" y="567.70" width="5.755" height="25.85" fill="#eff9dc"/>
<rect x="274.84" y="567.70" width="5.755" height="25.85" fill="#eff9dc"/>
<rect x="280.60" y="567.70" width="5.755" height="25.85" fill="#eff9dc"/>
<rect x="286.35" y="567.70" width="5.755" height="25.85" fill="#eff9dc"/>
<rect x="292.11" y="567.70" width="5.755" height="25.85" fill="#eff9dc"/>
<rect x="297.87" y="567.70" width="5.755" height="25.85" fill="#e8f6ea"/>
<rect x="303.62" y="567.70" width="5.755" height="25.85" fill="#f8fccb"/>
<rect x="309.38" y="567.70" width="5.755" height="25.85" fill="#eff9dc"/>
<rect x="315.13" y="567.70" width="5.755" height="25.85" fill="#eff9dc"/>
<rect x="320.88" y="567.70" width="5.755" height="25.85" fill="#eff9dc"/>
<rect x="326.64" y="567.70" width="5.755" height="25.85" fill="#f8fccb"/>
<rect x="332.39" y="567.70" width="5.755" height="25.85" fill="#fffebe"/>
<rect x="338.15" y="567.70" width="5.755" height="25.85" fill="#e8f6ea"/>
<rect x="343.90" y="567.70" width="5.755" height="25.85" fill="#f8fccb"/>
<rect x="349.66" y="567.70" width="5.755" height="25.85" fill="#dbf0f6"/>
<rect x="355.41" y="567.70" width="5.755" height="25.85" fill="#eff9dc"/>
<rect x="361.17" y="567.70" width="5.755" height="25.85" fill="#eff9dc"/>
<rect x="366.92" y="567.70" width="5.755" height="25.85" fill="#e8f6ea"/>
<rect x="372.68" y="567.70" width="5.755" height="25.85" fill="#dbf0f6"/>
<rect x="378.43" y="567.70" width="5.755" height="25.85" fill="#eff9dc"/>
<rect x="384.19" y="567.70" width="5.755" height="25.85" fill="#dbf0f6"/>
<rect x="389.94" y="567.70" width="5.755" height="25.85" fill="#eff9dc"/>
<rect x="395.70" y="567.70" width="5.755" height="25.85" fill="#e8f6ea"/>
<rect x="401.45" y="567.70" width="5.755" height="25.85" fill="#e8f6ea"/>
<rect x="407.21" y="567.70" width="5.755" height="25.85" fill="#eff9dc"/>
<rect x="412.96" y="567.70" width="5.755" height="25.85" fill="#eff9dc"/>
<rect x="418.72" y="567.70" width="5.755" height="25.85" fill="#eff9dc"/>
<rect x="424.47" y="567.70" width="5.755" height="25.85" fill="#eff9dc"/>
<rect x="430.23" y="567.70" width="5.755" height="25.85" fill="#e8f6ea"/>
<rect x="435.98" y="567.70" width="5.755" height="25.85" fill="#dbf0f6"/>
<rect x="441.74" y="567.70" width="5.755" height="25.85" fill="#eff9dc"/>
<rect x="447.49" y="567.70" width="5.755" height="25.85" fill="#dbf0f6"/>
<rect x="453.25" y="567.70" width="5.755" height="25.85" fill="#e8f6ea"/>
<rect x="459.00" y="567.70" width="5.755" height="25.85" fill="#eff9dc"/>
<rect x="464.76" y="567.70" width="5.755" height="25.85" fill="#eff9dc"/>
<rect x="470.51" y="567.70" width="5.755" height="25.85" fill="#e8f6ea"/>
<rect x="476.27" y="567.70" width="5.755" height="25.85" fill="#eff9dc"/>
<rect x="482.02" y="567.70" width="5.755" height="25.85" fill="#e8f6ea"/>
<rect x="487.78" y="567.70" width="5.755" height="25.85" fill="#e8f6ea"/>
<rect x="493.53" y="567.70" width="5.755" height="25.85" fill="#fffebe"/>
<rect x="499.29" y="567.70" width="5.755" height="25.85" fill="#e8f6ea"/>
<rect x="505.04" y="567.70" width="5.755" height="25.85" fill="#fffebe"/>
<rect x="510.80" y="567.70" width="5.755" height="25.85" fill="#e8f6ea"/>
<rect x="516.55" y="567.70" width="5.755" height="25.85" fill="#f8fccb"/>
<rect x="522.31" y="567.70" width="5.755" height="25.85" fill="#e8f6ea"/>
<rect x="528.06" y="567.70" width="5.755" height="25.85" fill="#f8fccb"/>
<rect x="533.82" y="567.70" width="5.755" height="25.85" fill="#e8f6ea"/>
<rect x="539.58" y="567.70" width="5.755" height="25.85" fill="#dbf0f6"/>
<rect x="545.33" y="567.70" width="5.755" height="25.85" fill="#e8f6ea"/>
<rect x="551.09" y="567.70" width="5.755" height="25.85" fill="#e8f6ea"/>
<rect x="556.84" y="567.70" width="5.755" height="25.85" fill="#dbf0f6"/>
<rect x="562.59" y="567.70" width="5.755" height="25.85" fill="#e8f6ea"/>
<rect x="568.35" y="567.70" width="5.755" height="25.85" fill="#e8f6ea"/>
<rect x="574.11" y="567.70" width="5.755" height="25.85" fill="#dbf0f6"/>
<rect x="579.86" y="567.70" width="5.755" height="25.85" fill="#dbf0f6"/>
<rect x="585.62" y="567.70" width="5.755" height="25.85" fill="#e8f6ea"/>
<rect x="591.37" y="567.70" width="5.755" height="25.85" fill="#dbf0f6"/>
<rect x="597.12" y="567.70" width="5.755" height="25.85" fill="#e8f6ea"/>
<rect x="602.88" y="567.70" width="5.755" height="25.85" fill="#e8f6ea"/>
<rect x="608.63" y="567.70" width="5.755" height="25.85" fill="#e8f6ea"/>
<rect x="614.39" y="567.70" width="5.755" height="25.85" fill="#dbf0f6"/>
<rect x="620.14" y="567.70" width="5.755" height="25.85" fill="#c8e3ef"/>
<rect x="50.40" y="593.55" width="5.755" height="25.85" fill="#feeda4"/>
<rect x="56.16" y="593.55" width="5.755" height="25.85" fill="#eff9dc"/>
<rect x="61.91" y="593.55" width="5.755" height="25.85" fill="#e8f6ea"/>
<rect x="67.66" y="593.55" width="5.755" height="25.85" fill="#eff9dc"/>
<rect x="73.42" y="593.55" width="5.755" height="25.85" fill="#dbf0f6"/>
<rect x="79.17" y="593.55" width="5.755" height="25.85" fill="#c8e3ef"/>
<rect x="84.93" y="593.55" width="5.755" height="25.85" fill="#e8f6ea"/>
<rect x="90.69" y="593.55" width="5.755" height="25.85" fill="#b0d3e6"/>
<rect x="96.44" y="593.55" width="5.755" height="25.85" fill="#98c4de"/>
<rect x="102.19" y="593.55" width="5.755" height="25.85" fill="#e8f6ea"/>
<rect x="107.95" y="593.55" width="5.755" height="25.85" fill="#c8e3ef"/>
<rect x="113.70" y="593.55" width="5.755" height="25.85" fill="#eff9dc"/>
<rect x="119.46" y="593.55" width="5.755" height="25.85" fill="#eff9dc"/>
<rect x="125.22" y="593.55" width="5.755" height="25.85" fill="#dbf0f6"/>
<rect x="130.97" y="593.55" width="5.755" height="25.85" fill="#fff5af"/>
<rect x="136.72" y="593.55" width="5.755" height="25.85" fill="#eff9dc"/>
<rect x="142.48" y="593.55" width="5.755" height="25.85" fill="#eff9dc"/>
<rect x="148.23" y="593.55" width="5.755" height="25.85" fill="#f8fccb"/>
<rect x="153.99" y="593.55" width="5.755" height="25.85" fill="#eff9dc"/>
<rect x="159.75" y="593.55" width="5.755" height="25.85" fill="#e8f6ea"/>
<rect x="165.50" y="593.55" width="5.755" height="25.85" fill="#dbf0f6"/>
<rect x="171.25" y="593.55" width="5.755" height="25.85" fill="#c8e3ef"/>
<rect x="177.01" y="593.55" width="5.755" height="25.85" fill="#c8e3ef"/>
<rect x="182.77" y="593.55" width="5.755" height="25.85" fill="#dbf0f6"/>
<rect x="188.52" y="593.55" width="5.755" height="25.85" fill="#dbf0f6"/>
<rect x="194.28" y="593.55" width="5.755" height="25.85" fill="#fff5af"/>
<rect x="200.03" y="593.55" width="5.755" height="25.85" fill="#fff5af"/>
<rect x="205.78" y="593.55" width="5.755" height="25.85" fill="#f8fccb"/>
<rect x="211.54" y="593.55" width="5.755" height="25.85" fill="#c8e3ef"/>
<rect x="217.30" y="593.55" width="5.755" height="25.85" fill="#eff9dc"/>
<rect x="223.05" y="593.55" width="5.755" height="25.85" fill="#f8fccb"/>
<rect x="228.81" y="593.55" width="5.755" height="25.85" fill="#fff5af"/>
<rect x="234.56" y="593.55" width="5.755" height="25.85" fill="#e8f6ea"/>
<rect x="240.31" y="593.55" width="5.755" height="25.85" fill="#eff9dc"/>
<rect x="246.07" y="593.55" width="5.755" height="25.85" fill="#e8f6ea"/>
<rect x="251.82" y="593.55" width="5.755" height="25.85" fill="#c8e3ef"/>
<rect x="257.58" y="593.55" width="5.755" height="25.85" fill="#f8fccb"/>
<rect x="263.33" y="593.55" width="5.755" height="25.85" fill="#eff9dc"/>
<rect x="269.09" y="593.55" width="5.755" height="25.85" fill="#eff9dc"/>
<rect x="274.84" y="593.55" width="5.755" height="25.85" fill="#f8fccb"/>
<rect x="280.60" y="593.55" width="5.755" height="25.85" fill="#f8fccb"/>
<rect x="286.35" y="593.55" width="5.755" height="25.85" fill="#e8f6ea"/>
<rect x="292.11" y="593.55" width="5.755" height="25.85" fill="#eff9dc"/>
<rect x="297.87" y="593.55" width="5.755" height="25.85" fill="#e8f6ea"/>
<rect x="303.62" y="593.55" width="5.755" height="25.85" fill="#fffebe"/>
<rect x="309.38" y="593.55" width="5.755" height="25.85" fill="#eff9dc"/>
<rect x="315.13" y="593.55" width="5.755" height="25.85" fill="#eff9dc"/>
<rect x="320.88" y="593.55" width="5.755" height="25.85" fill="#eff9dc"/>
<rect x="326.64" y="593.55" width="5.755" height="25.85" fill="#e8f6ea"/>
<rect x="332.39" y="593.55" width="5.755" height="25.85" fill="#dbf0f6"/>
<rect x="338.15" y="593.55" width="5.755" height="25.85" fill="#e8f6ea"/>
<rect x="343.90" y="593.55" width="5.755" height="25.85" fill="#e8f6ea"/>
<rect x="349.66" y="593.55" width="5.755" height="25.85" fill="#eff9dc"/>
<rect x="355.41" y="593.55" width="5.755" height="25.85" fill="#f8fccb"/>
<rect x="361.17" y="593.55" width="5.755" height="25.85" fill="#f8fccb"/>
<rect x="366.92" y="593.55" width="5.755" height="25.85" fill="#eff9dc"/>
<rect x="372.68" y="593.55" width="5.755" height="25.85" fill="#eff9dc"/>
<rect x="378.43" y="593.55" width="5.755" height="25.85" fill="#fffebe"/>
<rect x="384.19" y="593.55" width="5.755" height="25.85" fill="#eff9dc"/>
<rect x="389.94" y="593.55" width="5.755" height="25.85" fill="#e8f6ea"/>
<rect x="395.70" y="593.55" width="5.755" height="25.85" fill="#fffebe"/>
<rect x="401.45" y="593.55" width="5.755" height="25.85" fill="#e8f6ea"/>
<rect x="407.21" y="593.55" width="5.755" height="25.85" fill="#eff9dc"/>
<rect x="412.96" y="593.55" width="5.755" height="25.85" fill="#e8f6ea"/>
<rect x="418.72" y="593.55" width="5.755" height="25.85" fill="#eff9dc"/>
<rect x="424.47" y="593.55" width="5.755" height="25.85" fill="#eff9dc"/>
<rect x="430.23" y="593.55" width="5.755" height="25.85" fill="#e8f6ea"/>
<rect x="435.98" y="593.55" width="5.755" height="25.85" fill="#dbf0f6"/>
<rect x="441.74" y="593.55" width="5.755" height="25.85" fill="#e8f6ea"/>
<rect x="447.49" y="593.55" width="5.755" height="25.85" fill="#e8f6ea"/>
<rect x="453.25" y="593.55" width="5.755" height="25.85" fill="#dbf0f6"/>
<rect x="459.00" y="593.55" width="5.755" height="25.85" fill="#eff9dc"/>
<rect x="464.76" y="593.55" width="5.755" height="25.85" fill="#eff9dc"/>
<rect x="470.51" y="593.55" width="5.755" height="25.85" fill="#e8f6ea"/>
<rect x="476.27" y="593.55" width="5.755" height="25.85" fill="#e8f6ea"/>
<rect x="482.02" y="593.55" width="5.755" height="25.85" fill="#e8f6ea"/>
<rect x="487.78" y="593.55" width="5.755" height="25.85" fill="#dbf0f6"/>
<rect x="493.53" y="593.55" width="5.755" height="25.85" fill="#eff9dc"/>
<rect x="499.29" y="593.55" width="5.755" height="25.85" fill="#eff9dc"/>
<rect x="505.04" y="593.55" width="5.755" height="25.85" fill="#dbf0f6"/>
<rect x="510.80" y="593.55" width="5.755" height="25.85" fill="#e8f6ea"/>
<rect x="516.55" y="593.55" width="5.755" height="25.85" fill="#eff9dc"/>
<rect x="522.31" y="593.55" width="5.755" height="25.85" fill="#eff9dc"/>
<rect x="528.06" y="593.55" width="5.755" height="25.85" fill="#eff9dc"/>
<rect x="533.82" y="593.55" width="5.755" height="25.85" fill="#f8fccb"/>
<rect x="539.58" y="593.55" width="5.755" height="25.85" fill="#eff9dc"/>
<rect x="545.33" y="593.55" width="5.755" height="25.85" fill="#eff9dc"/>
<rect x="551.09" y="593.55" width="5.755" height="25.85" fill="#e8f6ea"/>
<rect x="556.84" y="593.55" width="5.755" height="25.85" fill="#e8f6ea"/>
<rect x="562.59" y="593.55" width="5.755" height="25.85" fill="#dbf0f6"/>
<rect x="568.35" y="593.55" width="5.755" height="25.85" fill="#eff9dc"/>
<rect x="574.11" y="593.55" width="5.755" height="25.85" fill="#eff9dc"/>
<rect x="579.86" y="593.55" width="5.755" height="25.85" fill="#e8f6ea"/>
<rect x="585.62" y="593.55" width="5.755" height="25.85" fill="#eff9dc"/>
<rect x="591.37" y="593.55" width="5.755" height="25.85" fill="#e8f6ea"/>
<rect x="597.12" y="593.55" width="5.755" height="25.85" fill="#e8f6ea"/>
<rect x="602.88" y="593.55" width="5.755" height="25.85" fill="#dbf0f6"/>
<rect x="608.63" y="593.55" width="5.755" height="25.85" fill="#dbf0f6"/>
<rect x="614.39" y="593.55" width="5.755" height="25.85" fill="#dbf0f6"/>
<rect x="620.14" y="593.55" width="5.755" height="25.85" fill="#e8f6ea"/>
<rect x="50.40" y="619.40" width="5.755" height="25.85" fill="#dbf0f6"/>
<rect x="56.16" y="619.40" width="5.755" height="25.85" fill="#dbf0f6"/>
<rect x="61.91" y="619.40" width="5.755" height="25.85" fill="#dbf0f6"/>
<rect x="67.66" y="619.40" width="5.755" height="25.85" fill="#c8e3ef"/>
<rect x="73.42" y="619.40" width="5.755" height="25.85" fill="#dbf0f6"/>
<rect x="79.17" y="619.40" width="5.755" height="25.85" fill="#c8e3ef"/>
<rect x="84.93" y="619.40" width="5.755" height="25.85" fill="#dbf0f6"/>
<rect x="90.69" y="619.40" width="5.755" height="25.85" fill="#dbf0f6"/>
<rect x="96.44" y="619.40" width="5.755" height="25.85" fill="#c8e3ef"/>
<rect x="102.19" y="619.40" width="5.755" height="25.85" fill="#b0d3e6"/>
<rect x="107.95" y="619.40" width="5.755" height="25.85" fill="#b0d3e6"/>
<rect x="113.70" y="619.40" width="5.755" height="25.85" fill="#c8e3ef"/>
<rect x="119.46" y="619.40" width="5.755" height="25.85" fill="#c8e3ef"/>
<rect x="125.22" y="619.40" width="5.755" height="25.85" fill="#c8e3ef"/>
<rect x="130.97" y="619.40" width="5.755" height="25.85" fill="#c8e3ef"/>
<rect x="136.72" y="619.40" width="5.755" height="25.85" fill="#c8e3ef"/>
<rect x="142.48" y="619.40" width="5.755" height="25.85" fill="#c8e3ef"/>
<rect x="148.23" y="619.40" width="5.755" height="25.85" fill="#c8e3ef"/>
<rect x="153.99" y="619.40" width="5.755" height="25.85" fill="#c8e3ef"/>
<rect x="159.75" y="619.40" width="5.755" height="25.85" fill="#c8e3ef"/>
<rect x="165.50" y="619.40" width="5.755" height="25.85" fill="#c8e3ef"/>
<rect x="171.25" y="619.40" width="5.755" height="25.85" fill="#b0d3e6"/>
<rect x="177.01" y="619.40" width="5.755" height="25.85" fill="#c8e3ef"/>
<rect x="182.77" y="619.40" width="5.755" height="25.85" fill="#c8e3ef"/>
<rect x="188.52" y="619.40" width="5.755" height="25.85" fill="#c8e3ef"/>
<rect x="194.28" y="619.40" width="5.755" height="25.85" fill="#c8e3ef"/>
<rect x="200.03" y="619.40" width="5.755" height="25.85" fill="#dbf0f6"/>
<rect x="205.78" y="619.40" width="5.755" height="25.85" fill="#c8e3ef"/>
<rect x="211.54" y="619.40" width="5.755" height="25.85" fill="#c8e3ef"/>
<rect x="217.30" y="619.40" width="5.755" height="25.85" fill="#c8e3ef"/>
<rect x="223.05" y="619.40" width="5.755" height="25.85" fill="#dbf0f6"/>
<rect x="228.81" y="619.40" width="5.755" height="25.85" fill="#c8e3ef"/>
<rect x="234.56" y="619.40" width="5.755" height="25.85" fill="#c8e3ef"/>
<rect x="240.31" y="619.40" width="5.755" height="25.85" fill="#dbf0f6"/>
<rect x="246.07" y="619.40" width="5.755" height="25.85" fill="#c8e3ef"/>
<rect x="251.82" y="619.40" width="5.755" height="25.85" fill="#c8e3ef"/>
<rect x="257.58" y="619.40" width="5.755" height="25.85" fill="#c8e3ef"/>
<rect x="263.33" y="619.40" width="5.755" height="25.85" fill="#dbf0f6"/>
<rect x="269.09" y="619.40" width="5.755" height="25.85" fill="#c8e3ef"/>
<rect x="274.84" y="619.40" width="5.755" height="25.85" fill="#c8e3ef"/>
<rect x="280.60" y="619.40" width="5.755" height="25.85" fill="#dbf0f6"/>
<rect x="286.35" y="619.40" width="5.755" height="25.85" fill="#c8e3ef"/>
<rect x="292.11" y="619.40" width="5.755" height="25.85" fill="#dbf0f6"/>
<rect x="297.87" y="619.40" width="5.755" height="25.85" fill="#eff9dc"/>
<rect x="303.62" y="619.40" width="5.755" height="25.85" fill="#c8e3ef"/>
<rect x="309.38" y="619.40" width="5.755" height="25.85" fill="#c8e3ef"/>
<rect x="315.13" y="619.40" width="5.755" height="25.85" fill="#c8e3ef"/>
<rect x="320.88" y="619.40" width="5.755" height="25.85" fill="#c8e3ef"/>
<rect x="326.64" y="619.40" width="5.755" height="25.85" fill="#dbf0f6"/>
<rect x="332.39" y="619.40" width="5.755" height="25.85" fill="#c8e3ef"/>
<rect x="338.15" y="619.40" width="5.755" height="25.85" fill="#c8e3ef"/>
<rect x="343.90" y="619.40" width="5.755" height="25.85" fill="#c8e3ef"/>
<rect x="349.66" y="619.40" width="5.755" height="25.85" fill="#eff9dc"/>
<rect x="355.41" y="619.40" width="5.755" height="25.85" fill="#b0d3e6"/>
<rect x="361.17" y="619.40" width="5.755" height="25.85" fill="#dbf0f6"/>
<rect x="366.92" y="619.40" width="5.755" height="25.85" fill="#98c4de"/>
<rect x="372.68" y="619.40" width="5.755" height="25.85" fill="#b0d3e6"/>
<rect x="378.43" y="619.40" width="5.755" height="25.85" fill="#b0d3e6"/>
<rect x="384.19" y="619.40" width="5.755" height="25.85" fill="#98c4de"/>
<rect x="389.94" y="619.40" width="5.755" height="25.85" fill="#b0d3e6"/>
<rect x="395.70" y="619.40" width="5.755" height="25.85" fill="#eff9dc"/>
<rect x="401.45" y="619.40" width="5.755" height="25.85" fill="#dbf0f6"/>
<rect x="407.21" y="619.40" width="5.755" height="25.85" fill="#e8f6ea"/>
<rect x="412.96" y="619.40" width="5.755" height="25.85" fill="#dbf0f6"/>
<rect x="418.72" y="619.40" width="5.755" height="25.85" fill="#c8e3ef"/>
<rect x="424.47" y="619.40" width="5.755" height="25.85" fill="#dbf0f6"/>
<rect x="430.23" y="619.40" width="5.755" height="25.85" fill="#c8e3ef"/>
<rect x="435.98" y="619.40" width="5.755" height="25.85" fill="#c8e3ef"/>
<rect x="441.74" y="619.40" width="5.755" height="25.85" fill="#b0d3e6"/>
<rect x="447.49" y="619.40" width="5.755" height="25.85" fill="#c8e3ef"/>
<rect x="453.25" y="619.40" width="5.755" height="25.85" fill="#98c4de"/>
<rect x="459.00" y="619.40" width="5.755" height="25.85" fill="#c8e3ef"/>
<rect x="464.76" y="619.40" width="5.755" height="25.85" fill="#b0d3e6"/>
<rect x="470.51" y="619.40" width="5.755" height="25.85" fill="#b0d3e6"/>
<rect x="476.27" y="619.40" width="5.755" height="25.85" fill="#c8e3ef"/>
<rect x="482.02" y="619.40" width="5.755" height="25.85" fill="#b0d3e6"/>
<rect x="487.78" y="619.40" width="5.755" height="25.85" fill="#98c4de"/>
<rect x="493.53" y="619.40" width="5.755" height="25.85" fill="#e8f6ea"/>
<rect x="499.29" y="619.40" width="5.755" height="25.85" fill="#dbf0f6"/>
<rect x="505.04" y="619.40" width="5.755" height="25.85" fill="#dbf0f6"/>
<rect x="510.80" y="619.40" width="5.755" height="25.85" fill="#dbf0f6"/>
<rect x="516.55" y="619.40" width="5.755" height="25.85" fill="#c8e3ef"/>
<rect x="522.31" y="619.40" width="5.755" height="25.85" fill="#c8e3ef"/>
<rect x="528.06" y="619.40" width="5.755" height="25.85" fill="#e8f6ea"/>
<rect x="533.82" y="619.40" width="5.755" height="25.85" fill="#c8e3ef"/>
<rect x="539.58" y="619.40" width="5.755" height="25.85" fill="#dbf0f6"/>
<rect x="545.33" y="619.40" width="5.755" height="25.85" fill="#e8f6ea"/>
<rect x="551.09" y="619.40" width="5.755" height="25.85" fill="#b0d3e6"/>
<rect x="556.84" y="619.40" width="5.755" height="25.85" fill="#98c4de"/>
<rect x="562.59" y="619.40" width="5.755" height="25.85" fill="#b0d3e6"/>
<rect x="568.35" y="619.40" width="5.755" height="25.85" fill="#c8e3ef"/>
<rect x="574.11" y="619.40" width="5.755" height="25.85" fill="#b0d3e6"/>
<rect x="579.86" y="619.40" width="5.755" height="25.85" fill="#b0d3e6"/>
<rect x="585.62" y="619.40" width="5.755" height="25.85" fill="#b0d3e6"/>
<rect x="591.37" y="619.40" width="5.755" height="25.85" fill="#b0d3e6"/>
<rect x="597.12" y="619.40" width="5.755" height="25.85" fill="#b0d3e6"/>
<rect x="602.88" y="619.40" width="5.755" height="25.85" fill="#b0d3e6"/>
<rect x="608.63" y="619.40" width="5.755" height="25.85" fill="#c8e3ef"/>
<rect x="614.39" y="619.40" width="5.755" height="25.85" fill="#c8e3ef"/>
<rect x="620.14" y="619.40" width="5.755" height="25.85" fill="#b0d3e6"/>
<rect x="50.40" y="645.25" width="5.755" height="25.85" fill="#dbf0f6"/>
<rect x="56.16" y="645.25" width="5.755" height="25.85" fill="#dbf0f6"/>
<rect x="61.91" y="645.25" width="5.755" height="25.85" fill="#c8e3ef"/>
<rect x="67.66" y="645.25" width="5.755" height="25.85" fill="#dbf0f6"/>
<rect x="73.42" y="645.25" width="5.755" height="25.85" fill="#feeda4"/>
<rect x="79.17" y="645.25" width="5.755" height="25.85" fill="#fee496"/>
<rect x="84.93" y="645.25" width="5.755" height="25.85" fill="#c8e3ef"/>
<rect x="90.69" y="645.25" width="5.755" height="25.85" fill="#b0d3e6"/>
<rect x="96.44" y="645.25" width="5.755" height="25.85" fill="#b0d3e6"/>
<rect x="102.19" y="645.25" width="5.755" height="25.85" fill="#c8e3ef"/>
<rect x="107.95" y="645.25" width="5.755" height="25.85" fill="#b0d3e6"/>
<rect x="113.70" y="645.25" width="5.755" height="25.85" fill="#dbf0f6"/>
<rect x="119.46" y="645.25" width="5.755" height="25.85" fill="#c8e3ef"/>
<rect x="125.22" y="645.25" width="5.755" height="25.85" fill="#c8e3ef"/>
<rect x="130.97" y="645.25" width="5.755" height="25.85" fill="#dbf0f6"/>
<rect x="136.72" y="645.25" width="5.755" height="25.85" fill="#c8e3ef"/>
<rect x="142.48" y="645.25" width="5.755" height="25.85" fill="#c8e3ef"/>
<rect x="148.23" y="645.25" width="5.755" height="25.85" fill="#c8e3ef"/>
<rect x="153.99" y="645.25" width="5.755" height="25.85" fill="#c8e3ef"/>
<rect x="159.75" y="645.25" width="5.755" height="25.85" fill="#c8e3ef"/>
<rect x="165.50" y="645.25" width="5.755" height="25.85" fill="#b0d3e6"/>
<rect x="171.25" y="645.25" width="5.755" height="25.85" fill="#b0d3e6"/>
<rect x="177.01" y="645.25" width="5.755" height="25.85" fill="#c8e3ef"/>
<rect x="182.77" y="645.25" width="5.755" height="25.85" fill="#b0d3e6"/>
<rect x="188.52" y="645.25" width="5.755" height="25.85" fill="#c8e3ef"/>
<rect x="194.28" y="645.25" width="5.755" height="25.85" fill="#c8e3ef"/>
<rect x="200.03" y="645.25" width="5.755" height="25.85" fill="#e8f6ea"/>
<rect x="205.78" y="645.25" width="5.755" height="25.85" fill="#dbf0f6"/>
<rect x="211.54" y="645.25" width="5.755" height="25.85" fill="#98c4de"/>
<rect x="217.30" y="645.25" width="5.755" height="25.85" fill="#dbf0f6"/>
<rect x="223.05" y="645.25" width="5.755" height="25.85" fill="#dbf0f6"/>
<rect x="228.81" y="645.25" width="5.755" height="25.85" fill="#dbf0f6"/>
<rect x="234.56" y="645.25" width="5.755" height="25.85" fill="#c8e3ef"/>
<rect x="240.31" y="645.25" width="5.755" height="25.85" fill="#dbf0f6"/>
<rect x="246.07" y="645.25" width="5.755" height="25.85" fill="#c8e3ef"/>
<rect x="251.82" y="645.25" width="5.755" height="25.85" fill="#b0d3e6"/>
<rect x="257.58" y="645.25" width="5.755" height="25.85" fill="#c8e3ef"/>
<rect x="263.33" y="645.25" width="5.755" height="25.85" fill="#c8e3ef"/>
<rect x="269.09" y="645.25" width="5.755" height="25.85" fill="#dbf0f6"/>
<rect x="274.84" y="645.25" width="5.755" height="25.85" fill="#dbf0f6"/>
<rect x="280.60" y="645.25" width="5.755" height="25.85" fill="#dbf0f6"/>
<rect x="286.35" y="645.25" width="5.755" height="25.85" fill="#dbf0f6"/>
<rect x="292.11" y="645.25" width="5.755" height="25.85" fill="#c8e3ef"/>
<rect x="297.87" y="645.25" width="5.755" height="25.85" fill="#c8e3ef"/>
<rect x="303.62" y="645.25" width="5.755" height="25.85" fill="#e8f6ea"/>
<rect x="309.38" y="645.25" width="5.755" height="25.85" fill="#dbf0f6"/>
<rect x="315.13" y="645.25" width="5.755" height="25.85" fill="#dbf0f6"/>
<rect x="320.88" y="645.25" width="5.755" height="25.85" fill="#dbf0f6"/>
<rect x="326.64" y="645.25" width="5.755" height="25.85" fill="#dbf0f6"/>
<rect x="332.39" y="645.25" width="5.755" height="25.85" fill="#b0d3e6"/>
<rect x="338.15" y="645.25" width="5.755" height="25.85" fill="#c8e3ef"/>
<rect x="343.90" y="645.25" width="5.755" height="25.85" fill="#c8e3ef"/>
<rect x="349.66" y="645.25" width="5.755" height="25.85" fill="#c8e3ef"/>
<rect x="355.41" y="645.25" width="5.755" height="25.85" fill="#c8e3ef"/>
<rect x="361.17" y="645.25" width="5.755" height="25.85" fill="#c8e3ef"/>
<rect x="366.92" y="645.25" width="5.755" height="25.85" fill="#c8e3ef"/>
<rect x="372.68" y="645.25" width="5.755" height="25.85" fill="#c8e3ef"/>
<rect x="378.43" y="645.25" width="5.755" height="25.85" fill="#c8e3ef"/>
<rect x="384.19" y="645.25" width="5.755" height="25.85" fill="#c8e3ef"/>
<rect x="389.94" y="645.25" width="5.755" height="25.85" fill="#c8e3ef"/>
<rect x="395.70" y="645.25" width="5.755" height="25.85" fill="#c8e3ef"/>
<rect x="401.45" y="645.25" width="5.755" height="25.85" fill="#b0d3e6"/>
<rect x="407.21" y="645.25" width="5.755" height="25.85" fill="#c8e3ef"/>
<rect x="412.96" y="645.25" width="5.755" height="25.85" fill="#b0d3e6"/>
<rect x="418.72" y="645.25" width="5.755" height="25.85" fill="#b0d3e6"/>
<rect x="424.47" y="645.25" width="5.755" height="25.85" fill="#c8e3ef"/>
<rect x="430.23" y="645.25" width="5.755" height="25.85" fill="#b0d3e6"/>
<rect x="435.98" y="645.25" width="5.755" height="25.85" fill="#b0d3e6"/>
<rect x="441.74" y="645.25" width="5.755" height="25.85" fill="#b0d3e6"/>
<rect x="447.49" y="645.25" width="5.755" height="25.85" fill="#98c4de"/>
<rect x="453.25" y="645.25" width="5.755" height="25.85" fill="#c8e3ef"/>
<rect x="459.00" y="645.25" width="5.755" height="25.85" fill="#c8e3ef"/>
<rect x="464.76" y="645.25" width="5.755" height="25.85" fill="#c8e3ef"/>
<rect x="470.51" y="645.25" width="5.755" height="25.85" fill="#b0d3e6"/>
<rect x="476.27" y="645.25" width="5.755" height="25.85" fill="#b0d3e6"/>
<rect x="482.02" y="645.25" width="5.755" height="25.85" fill="#b0d3e6"/>
<rect x="487.78" y="645.25" width="5.755" height="25.85" fill="#b0d3e6"/>
<rect x="493.53" y="645.25" width="5.755" height="25.85" fill="#c8e3ef"/>
<rect x="499.29" y="645.25" width="5.755" height="25.85" fill="#c8e3ef"/>
<rect x="505.04" y="645.25" width="5.755" height="25.85" fill="#b0d3e6"/>
<rect x="510.80" y="645.25" width="5.755" height="25.85" fill="#c8e3ef"/>
<rect x="516.55" y="645.25" width="5.755" height="25.85" fill="#c8e3ef"/>
<rect x="522.31" y="645.25" width="5.755" height="25.85" fill="#c8e3ef"/>
<rect x="528.06" y="645.25" width="5.755" height="25.85" fill="#c8e3ef"/>
<rect x="533.82" y="645.25" width="5.755" height="25.85" fill="#b0d3e6"/>
<rect x="539.58" y="645.25" width="5.755" height="25.85" fill="#c8e3ef"/>
<rect x="545.33" y="645.25" width="5.755" height="25.85" fill="#c8e3ef"/>
<rect x="551.09" y="645.25" width="5.755" height="25.85" fill="#b0d3e6"/>
<rect x="556.84" y="645.25" width="5.755" height="25.85" fill="#c8e3ef"/>
<rect x="562.59" y="645.25" width="5.755" height="25.85" fill="#b0d3e6"/>
<rect x="568.35" y="645.25" width="5.755" height="25.85" fill="#c8e3ef"/>
<rect x="574.11" y="645.25" width="5.755" height="25.85" fill="#c8e3ef"/>
<rect x="579.86" y="645.25" width="5.755" height="25.85" fill="#b0d3e6"/>
<rect x="585.62" y="645.25" width="5.755" height="25.85" fill="#b0d3e6"/>
<rect x="591.37" y="645.25" width="5.755" height="25.85" fill="#b0d3e6"/>
<rect x="597.12" y="645.25" width="5.755" height="25.85" fill="#98c4de"/>
<rect x="602.88" y="645.25" width="5.755" height="25.85" fill="#b0d3e6"/>
<rect x="608.63" y="645.25" width="5.755" height="25.85" fill="#b0d3e6"/>
<rect x="614.39" y="645.25" width="5.755" height="25.85" fill="#b0d3e6"/>
<rect x="620.14" y="645.25" width="5.755" height="25.85" fill="#b0d3e6"/>
<rect x="50.40" y="671.10" width="5.755" height="25.85" fill="#dbf0f6"/>
<rect x="56.16" y="671.10" width="5.755" height="25.85" fill="#dbf0f6"/>
<rect x="61.91" y="671.10" width="5.755" height="25.85" fill="#dbf0f6"/>
<rect x="67.66" y="671.10" width="5.755" height="25.85" fill="#c8e3ef"/>
<rect x="73.42" y="671.10" width="5.755" height="25.85" fill="#dbf0f6"/>
<rect x="79.17" y="671.10" width="5.755" height="25.85" fill="#e8f6ea"/>
<rect x="84.93" y="671.10" width="5.755" height="25.85" fill="#f8fccb"/>
<rect x="90.69" y="671.10" width="5.755" height="25.85" fill="#dbf0f6"/>
<rect x="96.44" y="671.10" width="5.755" height="25.85" fill="#e8f6ea"/>
<rect x="102.19" y="671.10" width="5.755" height="25.85" fill="#c8e3ef"/>
<rect x="107.95" y="671.10" width="5.755" height="25.85" fill="#dbf0f6"/>
<rect x="113.70" y="671.10" width="5.755" height="25.85" fill="#f8fccb"/>
<rect x="119.46" y="671.10" width="5.755" height="25.85" fill="#dbf0f6"/>
<rect x="125.22" y="671.10" width="5.755" height="25.85" fill="#eff9dc"/>
<rect x="130.97" y="671.10" width="5.755" height="25.85" fill="#dbf0f6"/>
<rect x="136.72" y="671.10" width="5.755" height="25.85" fill="#f8fccb"/>
<rect x="142.48" y="671.10" width="5.755" height="25.85" fill="#dbf0f6"/>
<rect x="148.23" y="671.10" width="5.755" height="25.85" fill="#dbf0f6"/>
<rect x="153.99" y="671.10" width="5.755" height="25.85" fill="#dbf0f6"/>
<rect x="159.75" y="671.10" width="5.755" height="25.85" fill="#dbf0f6"/>
<rect x="165.50" y="671.10" width="5.755" height="25.85" fill="#e8f6ea"/>
<rect x="171.25" y="671.10" width="5.755" height="25.85" fill="#f8fccb"/>
<rect x="177.01" y="671.10" width="5.755" height="25.85" fill="#dbf0f6"/>
<rect x="182.77" y="671.10" width="5.755" height="25.85" fill="#e8f6ea"/>
<rect x="188.52" y="671.10" width="5.755" height="25.85" fill="#e8f6ea"/>
<rect x="194.28" y="671.10" width="5.755" height="25.85" fill="#c8e3ef"/>
<rect x="200.03" y="671.10" width="5.755" height="25.85" fill="#eff9dc"/>
<rect x="205.78" y="671.10" width="5.755" height="25.85" fill="#e8f6ea"/>
<rect x="211.54" y="671.10" width="5.755" height="25.85" fill="#e8f6ea"/>
<rect x="217.30" y="671.10" width="5.755" height="25.85" fill="#dbf0f6"/>
<rect x="223.05" y="671.10" width="5.755" height="25.85" fill="#c8e3ef"/>
<rect x="228.81" y="671.10" width="5.755" height="25.85" fill="#dbf0f6"/>
<rect x="234.56" y="671.10" width="5.755" height="25.85" fill="#e8f6ea"/>
<rect x="240.31" y="671.10" width="5.755" height="25.85" fill="#eff9dc"/>
<rect x="246.07" y="671.10" width="5.755" height="25.85" fill="#dbf0f6"/>
<rect x="251.82" y="671.10" width="5.755" height="25.85" fill="#e8f6ea"/>
<rect x="257.58" y="671.10" width="5.755" height="25.85" fill="#eff9dc"/>
<rect x="263.33" y="671.10" width="5.755" height="25.85" fill="#dbf0f6"/>
<rect x="269.09" y="671.10" width="5.755" height="25.85" fill="#e8f6ea"/>
<rect x="274.84" y="671.10" width="5.755" height="25.85" fill="#dbf0f6"/>
<rect x="280.60" y="671.10" width="5.755" height="25.85" fill="#e8f6ea"/>
<rect x="286.35" y="671.10" width="5.755" height="25.85" fill="#e8f6ea"/>
<rect x="292.11" y="671.10" width="5.755" height="25.85" fill="#eff9dc"/>
<rect x="297.87" y="671.10" width="5.755" height="25.85" fill="#e8f6ea"/>
<rect x="303.62" y="671.10" width="5.755" height="25.85" fill="#f8fccb"/>
<rect x="309.38" y="671.10" width="5.755" height="25.85" fill="#e8f6ea"/>
<rect x="315.13" y="671.10" width="5.755" height="25.85" fill="#e8f6ea"/>
<rect x="320.88" y="671.10" width="5.755" height="25.85" fill="#e8f6ea"/>
<rect x="326.64" y="671.10" width="5.755" height="25.85" fill="#dbf0f6"/>
<rect x="332.39" y="671.10" width="5.755" height="25.85" fill="#e8f6ea"/>
<rect x="338.15" y="671.10" width="5.755" height="25.85" fill="#c8e3ef"/>
<rect x="343.90" y="671.10" width="5.755" height="25.85" fill="#dbf0f6"/>
<rect x="349.66" y="671.10" width="5.755" height="25.85" fill="#c8e3ef"/>
<rect x="355.41" y="671.10" width="5.755" height="25.85" fill="#c8e3ef"/>
<rect x="361.17" y="671.10" width="5.755" height="25.85" fill="#dbf0f6"/>
<rect x="366.92" y="671.10" width="5.755" height="25.85" fill="#98c4de"/>
<rect x="372.68" y="671.10" width="5.755" height="25.85" fill="#b0d3e6"/>
<rect x="378.43" y="671.10" width="5.755" height="25.85" fill="#dbf0f6"/>
<rect x="384.19" y="671.10" width="5.755" height="25.85" fill="#c8e3ef"/>
<rect x="389.94" y="671.10" width="5.755" height="25.85" fill="#c8e3ef"/>
<rect x="395.70" y="671.10" width="5.755" height="25.85" fill="#c8e3ef"/>
<rect x="401.45" y="671.10" width="5.755" height="25.85" fill="#c8e3ef"/>
<rect x="407.21" y="671.10" width="5.755" height="25.85" fill="#dbf0f6"/>
<rect x="412.96" y="671.10" width="5.755" height="25.85" fill="#dbf0f6"/>
<rect x="418.72" y="671.10" width="5.755" height="25.85" fill="#c8e3ef"/>
<rect x="424.47" y="671.10" width="5.755" height="25.85" fill="#b0d3e6"/>
<rect x="430.23" y="671.10" width="5.755" height="25.85" fill="#c8e3ef"/>
<rect x="435.98" y="671.10" width="5.755" height="25.85" fill="#b0d3e6"/>
<rect x="441.74" y="671.10" width="5.755" height="25.85" fill="#b0d3e6"/>
<rect x="447.49" y="671.10" width="5.755" height="25.85" fill="#b0d3e6"/>
<rect x="453.25" y="671.10" width="5.755" height="25.85" fill="#dbf0f6"/>
<rect x="459.00" y="671.10" width="5.755" height="25.85" fill="#c8e3ef"/>
<rect x="464.76" y="671.10" width="5.755" height="25.85" fill="#dbf0f6"/>
<rect x="470.51" y="671.10" width="5.755" height="25.85" fill="#dbf0f6"/>
<rect x="476.27" y="671.10" width="5.755" height="25.85" fill="#c8e3ef"/>
<rect x="482.02" y="671.10" width="5.755" height="25.85" fill="#c8e3ef"/>
<rect x="487.78" y="671.10" width="5.755" height="25.85" fill="#c8e3ef"/>
<rect x="493.53" y="671.10" width="5.755" height="25.85" fill="#dbf0f6"/>
<rect x="499.29" y="671.10" width="5.755" height="25.85" fill="#c8e3ef"/>
<rect x="505.04" y="671.10" width="5.755" height="25.85" fill="#e8f6ea"/>
<rect x="510.80" y="671.10" width="5.755" height="25.85" fill="#c8e3ef"/>
<rect x="516.55" y="671.10" width="5.755" height="25.85" fill="#dbf0f6"/>
<rect x="522.31" y="671.10" width="5.755" height="25.85" fill="#c8e3ef"/>
<rect x="528.06" y="671.10" width="5.755" height="25.85" fill="#c8e3ef"/>
<rect x="533.82" y="671.10" width="5.755" height="25.85" fill="#c8e3ef"/>
<rect x="539.58" y="671.10" width="5.755" height="25.85" fill="#c8e3ef"/>
<rect x="545.33" y="671.10" width="5.755" height="25.85" fill="#c8e3ef"/>
<rect x="551.09" y="671.10" width="5.755" height="25.85" fill="#c8e3ef"/>
<rect x="556.84" y="671.10" width="5.755" height="25.85" fill="#dbf0f6"/>
<rect x="562.59" y="671.10" width="5.755" height="25.85" fill="#dbf0f6"/>
<rect x="568.35" y="671.10" width="5.755" height="25.85" fill="#c8e3ef"/>
<rect x="574.11" y="671.10" width="5.755" height="25.85" fill="#dbf0f6"/>
<rect x="579.86" y="671.10" width="5.755" height="25.85" fill="#c8e3ef"/>
<rect x="585.62" y="671.10" width="5.755" height="25.85" fill="#c8e3ef"/>
<rect x="591.37" y="671.10" width="5.755" height="25.85" fill="#dbf0f6"/>
<rect x="597.12" y="671.10" width="5.755" height="25.85" fill="#c8e3ef"/>
<rect x="602.88" y="671.10" width="5.755" height="25.85" fill="#b0d3e6"/>
<rect x="608.63" y="671.10" width="5.755" height="25.85" fill="#dbf0f6"/>
<rect x="614.39" y="671.10" width="5.755" height="25.85" fill="#c8e3ef"/>
<rect x="620.14" y="671.10" width="5.755" height="25.85" fill="#c8e3ef"/>
<rect x="50.40" y="696.95" width="5.755" height="25.85" fill="#e8f6ea"/>
<rect x="56.16" y="696.95" width="5.755" height="25.85" fill="#e8f6ea"/>
<rect x="61.91" y="696.95" width="5.755" height="25.85" fill="#e8f6ea"/>
<rect x="67.66" y="696.95" width="5.755" height="25.85" fill="#eff9dc"/>
<rect x="73.42" y="696.95" width="5.755" height="25.85" fill="#dbf0f6"/>
<rect x="79.17" y="696.95" width="5.755" height="25.85" fill="#c8e3ef"/>
<rect x="84.93" y="696.95" width="5.755" height="25.85" fill="#dbf0f6"/>
<rect x="90.69" y="696.95" width="5.755" height="25.85" fill="#e8f6ea"/>
<rect x="96.44" y="696.95" width="5.755" height="25.85" fill="#c8e3ef"/>
<rect x="102.19" y="696.95" width="5.755" height="25.85" fill="#dbf0f6"/>
<rect x="107.95" y="696.95" width="5.755" height="25.85" fill="#b0d3e6"/>
<rect x="113.70" y="696.95" width="5.755" height="25.85" fill="#98c4de"/>
<rect x="119.46" y="696.95" width="5.755" height="25.85" fill="#dbf0f6"/>
<rect x="125.22" y="696.95" width="5.755" height="25.85" fill="#dbf0f6"/>
<rect x="130.97" y="696.95" width="5.755" height="25.85" fill="#c8e3ef"/>
<rect x="136.72" y="696.95" width="5.755" height="25.85" fill="#dbf0f6"/>
<rect x="142.48" y="696.95" width="5.755" height="25.85" fill="#c8e3ef"/>
<rect x="148.23" y="696.95" width="5.755" height="25.85" fill="#c8e3ef"/>
<rect x="153.99" y="696.95" width="5.755" height="25.85" fill="#c8e3ef"/>
<rect x="159.75" y="696.95" width="5.755" height="25.85" fill="#c8e3ef"/>
<rect x="165.50" y="696.95" width="5.755" height="25.85" fill="#c8e3ef"/>
<rect x="171.25" y="696.95" width="5.755" height="25.85" fill="#c8e3ef"/>
<rect x="177.01" y="696.95" width="5.755" height="25.85" fill="#b0d3e6"/>
<rect x="182.77" y="696.95" width="5.755" height="25.85" fill="#b0d3e6"/>
<rect x="188.52" y="696.95" width="5.755" height="25.85" fill="#b0d3e6"/>
<rect x="194.28" y="696.95" width="5.755" height="25.85" fill="#c8e3ef"/>
<rect x="200.03" y="696.95" width="5.755" height="25.85" fill="#dbf0f6"/>
<rect x="205.78" y="696.95" width="5.755" height="25.85" fill="#c8e3ef"/>
<rect x="211.54" y="696.95" width="5.755" height="25.85" fill="#dbf0f6"/>
<rect x="217.30" y="696.95" width="5.755" height="25.85" fill="#dbf0f6"/>
<rect x="223.05" y="696.95" width="5.755" height="25.85" fill="#c8e3ef"/>
<rect x="228.81" y="696.95" width="5.755" height="25.85" fill="#c8e3ef"/>
<rect x="234.56" y="696.95" width="5.755" height="25.85" fill="#dbf0f6"/>
<rect x="240.31" y="696.95" width="5.755" height="25.85" fill="#dbf0f6"/>
<rect x="246.07" y="696.95" width="5.755" height="25.85" fill="#c8e3ef"/>
<rect x="251.82" y="696.95" width="5.755" height="25.85" fill="#dbf0f6"/>
<rect x="257.58" y="696.95" width="5.755" height="25.85" fill="#b0d3e6"/>
<rect x="263.33" y="696.95" width="5.755" height="25.85" fill="#c8e3ef"/>
<rect x="269.09" y="696.95" width="5.755" height="25.85" fill="#dbf0f6"/>
<rect x="274.84" y="696.95" width="5.755" height="25.85" fill="#dbf0f6"/>
<rect x="280.60" y="696.95" width="5.755" height="25.85" fill="#e8f6ea"/>
<rect x="286.35" y="696.95" width="5.755" height="25.85" fill="#dbf0f6"/>
<rect x="292.11" y="696.95" width="5.755" height="25.85" fill="#b0d3e6"/>
<rect x="297.87" y="696.95" width="5.755" height="25.85" fill="#e8f6ea"/>
<rect x="303.62" y="696.95" width="5.755" height="25.85" fill="#dbf0f6"/>
<rect x="309.38" y="696.95" width="5.755" height="25.85" fill="#c8e3ef"/>
<rect x="315.13" y="696.95" width="5.755" height="25.85" fill="#dbf0f6"/>
<rect x="320.88" y="696.95" width="5.755" height="25.85" fill="#c8e3ef"/>
<rect x="326.64" y="696.95" width="5.755" height="25.85" fill="#dbf0f6"/>
<rect x="332.39" y="696.95" width="5.755" height="25.85" fill="#e8f6ea"/>
<rect x="338.15" y="696.95" width="5.755" height="25.85" fill="#dbf0f6"/>
<rect x="343.90" y="696.95" width="5.755" height="25.85" fill="#c8e3ef"/>
<rect x="349.66" y="696.95" width="5.755" height="25.85" fill="#e8f6ea"/>
<rect x="355.41" y="696.95" width="5.755" height="25.85" fill="#f8fccb"/>
<rect x="361.17" y="696.95" width="5.755" height="25.85" fill="#eff9dc"/>
<rect x="366.92" y="696.95" width="5.755" height="25.85" fill="#b0d3e6"/>
<rect x="372.68" y="696.95" width="5.755" height="25.85" fill="#dbf0f6"/>
<rect x="378.43" y="696.95" width="5.755" height="25.85" fill="#c8e3ef"/>
<rect x="384.19" y="696.95" width="5.755" height="25.85" fill="#e8f6ea"/>
<rect x="389.94" y="696.95" width="5.755" height="25.85" fill="#dbf0f6"/>
<rect x="395.70" y="696.95" width="5.755" height="25.85" fill="#c8e3ef"/>
<rect x="401.45" y="696.95" width="5.755" height="25.85" fill="#c8e3ef"/>
<rect x="407.21" y="696.95" width="5.755" height="25.85" fill="#c8e3ef"/>
<rect x="412.96" y="696.95" width="5.755" height="25.85" fill="#c8e3ef"/>
<rect x="418.72" y="696.95" width="5.755" height="25.85" fill="#dbf0f6"/>
<rect x="424.47" y="696.95" width="5.755" height="25.85" fill="#e8f6ea"/>
<rect x="430.23" y="696.95" width="5.755" height="25.85" fill="#eff9dc"/>
<rect x="435.98" y="696.95" width="5.755" height="25.85" fill="#dbf0f6"/>
<rect x="441.74" y="696.95" width="5.755" height="25.85" fill="#c8e3ef"/>
<rect x="447.49" y="696.95" width="5.755" height="25.85" fill="#dbf0f6"/>
<rect x="453.25" y="696.95" width="5.755" height="25.85" fill="#c8e3ef"/>
<rect x="459.00" y="696.95" width="5.755" height="25.85" fill="#b0d3e6"/>
<rect x="464.76" y="696.95" width="5.755" height="25.85" fill="#e8f6ea"/>
<rect x="470.51" y="696.95" width="5.755" height="25.85" fill="#c8e3ef"/>
<rect x="476.27" y="696.95" width="5.755" height="25.85" fill="#c8e3ef"/>
<rect x="482.02" y="696.95" width="5.755" height="25.85" fill="#c8e3ef"/>
<rect x="487.78" y="696.95" width="5.755" height="25.85" fill="#c8e3ef"/>
<rect x="493.53" y="696.95" width="5.755" height="25.85" fill="#b0d3e6"/>
<rect x="499.29" y="696.95" width="5.755" height="25.85" fill="#c8e3ef"/>
<rect x="505.04" y="696.95" width="5.755" height="25.85" fill="#b0d3e6"/>
<rect x="510.80" y="696.95" width="5.755" height="25.85" fill="#e8f6ea"/>
<rect x="516.55" y="696.95" width="5.755" height="25.85" fill="#c8e3ef"/>
<rect x="522.31" y="696.95" width="5.755" height="25.85" fill="#b0d3e6"/>
<rect x="528.06" y="696.95" width="5.755" height="25.85" fill="#c8e3ef"/>
<rect x="533.82" y="696.95" width="5.755" height="25.85" fill="#c8e3ef"/>
<rect x="539.58" y="696.95" width="5.755" height="25.85" fill="#b0d3e6"/>
<rect x="545.33" y="696.95" width="5.755" height="25.85" fill="#c8e3ef"/>
<rect x="551.09" y="696.95" width="5.755" height="25.85" fill="#c8e3ef"/>
<rect x="556.84" y="696.95" width="5.755" height="25.85" fill="#b0d3e6"/>
<rect x="562.59" y="696.95" width="5.755" height="25.85" fill="#c8e3ef"/>
<rect x="568.35" y="696.95" width="5.755" height="25.85" fill="#b0d3e6"/>
<rect x="574.11" y="696.95" width="5.755" height="25.85" fill="#b0d3e6"/>
<rect x="579.86" y="696.95" width="5.755" height="25.85" fill="#c8e3ef"/>
<rect x="585.62" y="696.95" width="5.755" height="25.85" fill="#b0d3e6"/>
<rect x="591.37" y="696.95" width="5.755" height="25.85" fill="#c8e3ef"/>
<rect x="597.12" y="696.95" width="5.755" height="25.85" fill="#c8e3ef"/>
<rect x="602.88" y="696.95" width="5.755" height="25.85" fill="#c8e3ef"/>
<rect x="608.63" y="696.95" width="5.755" height="25.85" fill="#c8e3ef"/>
<rect x="614.39" y="696.95" width="5.755" height="25.85" fill="#b0d3e6"/>
<rect x="620.14" y="696.95" width="5.755" height="25.85" fill="#c8e3ef"/>
<rect x="50.40" y="722.80" width="5.755" height="25.85" fill="#e8f6ea"/>
<rect x="56.16" y="722.80" width="5.755" height="25.85" fill="#f8fccb"/>
<rect x="61.91" y="722.80" width="5.755" height="25.85" fill="#f8fccb"/>
<rect x="67.66" y="722.80" width="5.755" height="25.85" fill="#f8fccb"/>
<rect x="73.42" y="722.80" width="5.755" height="25.85" fill="#dbf0f6"/>
<rect x="79.17" y="722.80" width="5.755" height="25.85" fill="#c8e3ef"/>
<rect x="84.93" y="722.80" width="5.755" height="25.85" fill="#dbf0f6"/>
<rect x="90.69" y="722.80" width="5.755" height="25.85" fill="#dbf0f6"/>
<rect x="96.44" y="722.80" width="5.755" height="25.85" fill="#c8e3ef"/>
<rect x="102.19" y="722.80" width="5.755" height="25.85" fill="#e8f6ea"/>
<rect x="107.95" y="722.80" width="5.755" height="25.85" fill="#c8e3ef"/>
<rect x="113.70" y="722.80" width="5.755" height="25.85" fill="#c8e3ef"/>
<rect x="119.46" y="722.80" width="5.755" height="25.85" fill="#dbf0f6"/>
<rect x="125.22" y="722.80" width="5.755" height="25.85" fill="#dbf0f6"/>
<rect x="130.97" y="722.80" width="5.755" height="25.85" fill="#dbf0f6"/>
<rect x="136.72" y="722.80" width="5.755" height="25.85" fill="#dbf0f6"/>
<rect x="142.48" y="722.80" width="5.755" height="25.85" fill="#dbf0f6"/>
<rect x="148.23" y="722.80" width="5.755" height="25.85" fill="#dbf0f6"/>
<rect x="153.99" y="722.80" width="5.755" height="25.85" fill="#c8e3ef"/>
<rect x="159.75" y="722.80" width="5.755" height="25.85" fill="#dbf0f6"/>
<rect x="165.50" y="722.80" width="5.755" height="25.85" fill="#dbf0f6"/>
<rect x="171.25" y="722.80" width="5.755" height="25.85" fill="#c8e3ef"/>
<rect x="177.01" y="722.80" width="5.755" height="25.85" fill="#dbf0f6"/>
<rect x="182.77" y="722.80" width="5.755" height="25.85" fill="#dbf0f6"/>
<rect x="188.52" y="722.80" width="5.755" height="25.85" fill="#c8e3ef"/>
<rect x="194.28" y="722.80" width="5.755" height="25.85" fill="#e8f6ea"/>
<rect x="200.03" y="722.80" width="5.755" height="25.85" fill="#eff9dc"/>
<rect x="205.78" y="722.80" width="5.755" height="25.85" fill="#e8f6ea"/>
<rect x="211.54" y="722.80" width="5.755" height="25.85" fill="#e8f6ea"/>
<rect x="217.30" y="722.80" width="5.755" height="25.85" fill="#c8e3ef"/>
<rect x="223.05" y="722.80" width="5.755" height="25.85" fill="#dbf0f6"/>
<rect x="228.81" y="722.80" width="5.755" height="25.85" fill="#dbf0f6"/>
<rect x="234.56" y="722.80" width="5.755" height="25.85" fill="#dbf0f6"/>
<rect x="240.31" y="722.80" width="5.755" height="25.85" fill="#c8e3ef"/>
<rect x="246.07" y="722.80" width="5.755" height="25.85" fill="#dbf0f6"/>
<rect x="251.82" y="722.80" width="5.755" height="25.85" fill="#dbf0f6"/>
<rect x="257.58" y="722.80" width="5.755" height="25.85" fill="#e8f6ea"/>
<rect x="263.33" y="722.80" width="5.755" height="25.85" fill="#dbf0f6"/>
<rect x="269.09" y="722.80" width="5.755" height="25.85" fill="#e8f6ea"/>
<rect x="274.84" y="722.80" width="5.755" height="25.85" fill="#dbf0f6"/>
<rect x="280.60" y="722.80" width="5.755" height="25.85" fill="#dbf0f6"/>
<rect x="286.35" y="722.80" width="5.755" height="25.85" fill="#e8f6ea"/>
<rect x="292.11" y="722.80" width="5.755" height="25.85" fill="#dbf0f6"/>
<rect x="297.87" y="722.80" width="5.755" height="25.85" fill="#e8f6ea"/>
<rect x="303.62" y="722.80" width="5.755" height="25.85" fill="#dbf0f6"/>
<rect x="309.38" y="722.80" width="5.755" height="25.85" fill="#e8f6ea"/>
<rect x="315.13" y="722.80" width="5.755" height="25.85" fill="#e8f6ea"/>
<rect x="320.88" y="722.80" width="5.755" height="25.85" fill="#eff9dc"/>
<rect x="326.64" y="722.80" width="5.755" height="25.85" fill="#e8f6ea"/>
<rect x="332.39" y="722.80" width="5.755" height="25.85" fill="#f8fccb"/>
<rect x="338.15" y="722.80" width="5.755" height="25.85" fill="#f8fccb"/>
<rect x="343.90" y="722.80" width="5.755" height="25.85" fill="#dbf0f6"/>
<rect x="349.66" y="722.80" width="5.755" height="25.85" fill="#eff9dc"/>
<rect x="355.41" y="722.80" width="5.755" height="25.85" fill="#dbf0f6"/>
<rect x="361.17" y="722.80" width="5.755" height="25.85" fill="#dbf0f6"/>
<rect x="366.92" y="722.80" width="5.755" height="25.85" fill="#c8e3ef"/>
<rect x="372.68" y="722.80" width="5.755" height="25.85" fill="#e8f6ea"/>
<rect x="378.43" y="722.80" width="5.755" height="25.85" fill="#dbf0f6"/>
<rect x="384.19" y="722.80" width="5.755" height="25.85" fill="#dbf0f6"/>
<rect x="389.94" y="722.80" width="5.755" height="25.85" fill="#dbf0f6"/>
<rect x="395.70" y="722.80" width="5.755" height="25.85" fill="#dbf0f6"/>
<rect x="401.45" y="722.80" width="5.755" height="25.85" fill="#dbf0f6"/>
<rect x="407.21" y="722.80" width="5.755" height="25.85" fill="#e8f6ea"/>
<rect x="412.96" y="722.80" width="5.755" height="25.85" fill="#dbf0f6"/>
<rect x="418.72" y="722.80" width="5.755" height="25.85" fill="#dbf0f6"/>
<rect x="424.47" y="722.80" width="5.755" height="25.85" fill="#dbf0f6"/>
<rect x="430.23" y="722.80" width="5.755" height="25.85" fill="#e8f6ea"/>
<rect x="435.98" y="722.80" width="5.755" height="25.85" fill="#dbf0f6"/>
<rect x="441.74" y="722.80" width="5.755" height="25.85" fill="#dbf0f6"/>
<rect x="447.49" y="722.80" width="5.755" height="25.85" fill="#dbf0f6"/>
<rect x="453.25" y="722.80" width="5.755" height="25.85" fill="#e8f6ea"/>
<rect x="459.00" y="722.80" width="5.755" height="25.85" fill="#dbf0f6"/>
<rect x="464.76" y="722.80" width="5.755" height="25.85" fill="#e8f6ea"/>
<rect x="470.51" y="722.80" width="5.755" height="25.85" fill="#dbf0f6"/>
<rect x="476.27" y="722.80" width="5.755" height="25.85" fill="#dbf0f6"/>
<rect x="482.02" y="722.80" width="5.755" height="25.85" fill="#dbf0f6"/>
<rect x="487.78" y="722.80" width="5.755" height="25.85" fill="#dbf0f6"/>
<rect x="493.53" y="722.80" width="5.755" height="25.85" fill="#dbf0f6"/>
<rect x="499.29" y="722.80" width="5.755" height="25.85" fill="#c8e3ef"/>
<rect x="505.04" y="722.80" width="5.755" height="25.85" fill="#dbf0f6"/>
<rect x="510.80" y="722.80" width="5.755" height="25.85" fill="#c8e3ef"/>
<rect x="516.55" y="722.80" width="5.755" height="25.85" fill="#dbf0f6"/>
<rect x="522.31" y="722.80" width="5.755" height="25.85" fill="#dbf0f6"/>
<rect x="528.06" y="722.80" width="5.755" height="25.85" fill="#dbf0f6"/>
<rect x="533.82" y="722.80" width="5.755" height="25.85" fill="#dbf0f6"/>
<rect x="539.58" y="722.80" width="5.755" height="25.85" fill="#dbf0f6"/>
<rect x="545.33" y="722.80" width="5.755" height="25.85" fill="#dbf0f6"/>
<rect x="551.09" y="722.80" width="5.755" height="25.85" fill="#c8e3ef"/>
<rect x="556.84" y="722.80" width="5.755" height="25.85" fill="#dbf0f6"/>
<rect x="562.59" y="722.80" width="5.755" height="25.85" fill="#dbf0f6"/>
<rect x="568.35" y="722.80" width="5.755" height="25.85" fill="#dbf0f6"/>
<rect x="574.11" y="722.80" width="5.755" height="25.85" fill="#dbf0f6"/>
<rect x="579.86" y="722.80" width="5.755" height="25.85" fill="#c8e3ef"/>
<rect x="585.62" y="722.80" width="5.755" height="25.85" fill="#dbf0f6"/>
<rect x="591.37" y="722.80" width="5.755" height="25.85" fill="#dbf0f6"/>
<rect x="597.12" y="722.80" width="5.755" height="25.85" fill="#c8e3ef"/>
<rect x="602.88" y="722.80" width="5.755" height="25.85" fill="#dbf0f6"/>
<rect x="608.63" y="722.80" width="5.755" height="25.85" fill="#dbf0f6"/>
<rect x="614.39" y="722.80" width="5.755" height="25.85" fill="#dbf0f6"/>
<rect x="620.14" y="722.80" width="5.755" height="25.85" fill="#c8e3ef"/>
<rect x="50.40" y="748.65" width="5.755" height="25.85" fill="#9dc7df"/>
<rect x="56.16" y="748.65" width="5.755" height="25.85" fill="#b5d7e8"/>
<rect x="61.91" y="748.65" width="5.755" height="25.85" fill="#9dc7df"/>
<rect x="67.66" y="748.65" width="5.755" height="25.85" fill="#b5d7e8"/>
<rect x="73.42" y="748.65" width="5.755" height="25.85" fill="#9dc7df"/>
<rect x="79.17" y="748.65" width="5.755" height="25.85" fill="#b5d7e8"/>
<rect x="84.93" y="748.65" width="5.755" height="25.85" fill="#c8e3ef"/>
<rect x="90.69" y="748.65" width="5.755" height="25.85" fill="#9dc7df"/>
<rect x="96.44" y="748.65" width="5.755" height="25.85" fill="#9dc7df"/>
<rect x="102.19" y="748.65" width="5.755" height="25.85" fill="#9dc7df"/>
<rect x="107.95" y="748.65" width="5.755" height="25.85" fill="#9dc7df"/>
<rect x="113.70" y="748.65" width="5.755" height="25.85" fill="#b5d7e8"/>
<rect x="119.46" y="748.65" width="5.755" height="25.85" fill="#9dc7df"/>
<rect x="125.22" y="748.65" width="5.755" height="25.85" fill="#9dc7df"/>
<rect x="130.97" y="748.65" width="5.755" height="25.85" fill="#b5d7e8"/>
<rect x="136.72" y="748.65" width="5.755" height="25.85" fill="#9dc7df"/>
<rect x="142.48" y="748.65" width="5.755" height="25.85" fill="#9dc7df"/>
<rect x="148.23" y="748.65" width="5.755" height="25.85" fill="#9dc7df"/>
<rect x="153.99" y="748.65" width="5.755" height="25.85" fill="#9dc7df"/>
<rect x="159.75" y="748.65" width="5.755" height="25.85" fill="#9dc7df"/>
<rect x="165.50" y="748.65" width="5.755" height="25.85" fill="#9dc7df"/>
<rect x="171.25" y="748.65" width="5.755" height="25.85" fill="#b5d7e8"/>
<rect x="177.01" y="748.65" width="5.755" height="25.85" fill="#9dc7df"/>
<rect x="182.77" y="748.65" width="5.755" height="25.85" fill="#9dc7df"/>
<rect x="188.52" y="748.65" width="5.755" height="25.85" fill="#b5d7e8"/>
<rect x="194.28" y="748.65" width="5.755" height="25.85" fill="#9dc7df"/>
<rect x="200.03" y="748.65" width="5.755" height="25.85" fill="#8ab8d7"/>
<rect x="205.78" y="748.65" width="5.755" height="25.85" fill="#9dc7df"/>
<rect x="211.54" y="748.65" width="5.755" height="25.85" fill="#b5d7e8"/>
<rect x="217.30" y="748.65" width="5.755" height="25.85" fill="#9dc7df"/>
<rect x="223.05" y="748.65" width="5.755" height="25.85" fill="#9dc7df"/>
<rect x="228.81" y="748.65" width="5.755" height="25.85" fill="#8ab8d7"/>
<rect x="234.56" y="748.65" width="5.755" height="25.85" fill="#9dc7df"/>
<rect x="240.31" y="748.65" width="5.755" height="25.85" fill="#b5d7e8"/>
<rect x="246.07" y="748.65" width="5.755" height="25.85" fill="#b5d7e8"/>
<rect x="251.82" y="748.65" width="5.755" height="25.85" fill="#b5d7e8"/>
<rect x="257.58" y="748.65" width="5.755" height="25.85" fill="#9dc7df"/>
<rect x="263.33" y="748.65" width="5.755" height="25.85" fill="#b5d7e8"/>
<rect x="269.09" y="748.65" width="5.755" height="25.85" fill="#c8e3ef"/>
<rect x="274.84" y="748.65" width="5.755" height="25.85" fill="#9dc7df"/>
<rect x="280.60" y="748.65" width="5.755" height="25.85" fill="#9dc7df"/>
<rect x="286.35" y="748.65" width="5.755" height="25.85" fill="#b5d7e8"/>
<rect x="292.11" y="748.65" width="5.755" height="25.85" fill="#9dc7df"/>
<rect x="297.87" y="748.65" width="5.755" height="25.85" fill="#9dc7df"/>
<rect x="303.62" y="748.65" width="5.755" height="25.85" fill="#c8e3ef"/>
<rect x="309.38" y="748.65" width="5.755" height="25.85" fill="#b5d7e8"/>
<rect x="315.13" y="748.65" width="5.755" height="25.85" fill="#b5d7e8"/>
<rect x="320.88" y="748.65" width="5.755" height="25.85" fill="#b5d7e8"/>
<rect x="326.64" y="748.65" width="5.755" height="25.85" fill="#8ab8d7"/>
<rect x="332.39" y="748.65" width="5.755" height="25.85" fill="#b5d7e8"/>
<rect x="338.15" y="748.65" width="5.755" height="25.85" fill="#b0d3e6"/>
<rect x="343.90" y="748.65" width="5.755" height="25.85" fill="#b0d3e6"/>
<rect x="349.66" y="748.65" width="5.755" height="25.85" fill="#98c4de"/>
<rect x="355.41" y="748.65" width="5.755" height="25.85" fill="#85b4d5"/>
<rect x="361.17" y="748.65" width="5.755" height="25.85" fill="#98c4de"/>
<rect x="366.92" y="748.65" width="5.755" height="25.85" fill="#98c4de"/>
<rect x="372.68" y="748.65" width="5.755" height="25.85" fill="#85b4d5"/>
<rect x="378.43" y="748.65" width="5.755" height="25.85" fill="#b0d3e6"/>
<rect x="384.19" y="748.65" width="5.755" height="25.85" fill="#98c4de"/>
<rect x="389.94" y="748.65" width="5.755" height="25.85" fill="#98c4de"/>
<rect x="395.70" y="748.65" width="5.755" height="25.85" fill="#98c4de"/>
<rect x="401.45" y="748.65" width="5.755" height="25.85" fill="#98c4de"/>
<rect x="407.21" y="748.65" width="5.755" height="25.85" fill="#98c4de"/>
<rect x="412.96" y="748.65" width="5.755" height="25.85" fill="#98c4de"/>
<rect x="418.72" y="748.65" width="5.755" height="25.85" fill="#98c4de"/>
<rect x="424.47" y="748.65" width="5.755" height="25.85" fill="#85b4d5"/>
<rect x="430.23" y="748.65" width="5.755" height="25.85" fill="#b0d3e6"/>
<rect x="435.98" y="748.65" width="5.755" height="25.85" fill="#98c4de"/>
<rect x="441.74" y="748.65" width="5.755" height="25.85" fill="#85b4d5"/>
<rect x="447.49" y="748.65" width="5.755" height="25.85" fill="#85b4d5"/>
<rect x="453.25" y="748.65" width="5.755" height="25.85" fill="#98c4de"/>
<rect x="459.00" y="748.65" width="5.755" height="25.85" fill="#85b4d5"/>
<rect x="464.76" y="748.65" width="5.755" height="25.85" fill="#98c4de"/>
<rect x="470.51" y="748.65" width="5.755" height="25.85" fill="#98c4de"/>
<rect x="476.27" y="748.65" width="5.755" height="25.85" fill="#98c4de"/>
<rect x="482.02" y="748.65" width="5.755" height="25.85" fill="#98c4de"/>
<rect x="487.78" y="748.65" width="5.755" height="25.85" fill="#98c4de"/>
<rect x="493.53" y="748.65" width="5.755" height="25.85" fill="#98c4de"/>
<rect x="499.29" y="748.65" width="5.755" height="25.85" fill="#98c4de"/>
<rect x="505.04" y="748.65" width="5.755" height="25.85" fill="#98c4de"/>
<rect x="510.80" y="748.65" width="5.755" height="25.85" fill="#85b4d5"/>
<rect x="516.55" y="748.65" width="5.755" height="25.85" fill="#85b4d5"/>
<rect x="522.31" y="748.65" width="5.755" height="25.85" fill="#85b4d5"/>
<rect x="528.06" y="748.65" width="5.755" height="25.85" fill="#85b4d5"/>
<rect x="533.82" y="748.65" width="5.755" height="25.85" fill="#85b4d5"/>
<rect x="539.58" y="748.65" width="5.755" height="25.85" fill="#98c4de"/>
<rect x="545.33" y="748.65" width="5.755" height="25.85" fill="#85b4d5"/>
<rect x="551.09" y="748.65" width="5.755" height="25.85" fill="#85b4d5"/>
<rect x="556.84" y="748.65" width="5.755" height="25.85" fill="#85b4d5"/>
<rect x="562.59" y="748.65" width="5.755" height="25.85" fill="#98c4de"/>
<rect x="568.35" y="748.65" width="5.755" height="25.85" fill="#85b4d5"/>
<rect x="574.11" y="748.65" width="5.755" height="25.85" fill="#6e9dc9"/>
<rect x="579.86" y="748.65" width="5.755" height="25.85" fill="#98c4de"/>
<rect x="585.62" y="748.65" width="5.755" height="25.85" fill="#85b4d5"/>
<rect x="591.37" y="748.65" width="5.755" height="25.85" fill="#85b4d5"/>
<rect x="597.12" y="748.65" width="5.755" height="25.85" fill="#85b4d5"/>
<rect x="602.88" y="748.65" width="5.755" height="25.85" fill="#85b4d5"/>
<rect x="608.63" y="748.65" width="5.755" height="25.85" fill="#85b4d5"/>
<rect x="614.39" y="748.65" width="5.755" height="25.85" fill="#6e9dc9"/>
<rect x="620.14" y="748.65" width="5.755" height="25.85" fill="#85b4d5"/>
<rect x="50.40" y="774.50" width="5.755" height="25.85" fill="#85b4d5"/>
<rect x="56.16" y="774.50" width="5.755" height="25.85" fill="#85b4d5"/>
<rect x="61.91" y="774.50" width="5.755" height="25.85" fill="#98c4de"/>
<rect x="67.66" y="774.50" width="5.755" height="25.85" fill="#85b4d5"/>
<rect x="73.42" y="774.50" width="5.755" height="25.85" fill="#98c4de"/>
<rect x="79.17" y="774.50" width="5.755" height="25.85" fill="#b0d3e6"/>
<rect x="84.93" y="774.50" width="5.755" height="25.85" fill="#b0d3e6"/>
<rect x="90.69" y="774.50" width="5.755" height="25.85" fill="#5c8bc0"/>
<rect x="96.44" y="774.50" width="5.755" height="25.85" fill="#85b4d5"/>
<rect x="102.19" y="774.50" width="5.755" height="25.85" fill="#6e9dc9"/>
<rect x="107.95" y="774.50" width="5.755" height="25.85" fill="#5c8bc0"/>
<rect x="113.70" y="774.50" width="5.755" height="25.85" fill="#85b4d5"/>
<rect x="119.46" y="774.50" width="5.755" height="25.85" fill="#85b4d5"/>
<rect x="125.22" y="774.50" width="5.755" height="25.85" fill="#85b4d5"/>
<rect x="130.97" y="774.50" width="5.755" height="25.85" fill="#85b4d5"/>
<rect x="136.72" y="774.50" width="5.755" height="25.85" fill="#85b4d5"/>
<rect x="142.48" y="774.50" width="5.755" height="25.85" fill="#85b4d5"/>
<rect x="148.23" y="774.50" width="5.755" height="25.85" fill="#6e9dc9"/>
<rect x="153.99" y="774.50" width="5.755" height="25.85" fill="#85b4d5"/>
<rect x="159.75" y="774.50" width="5.755" height="25.85" fill="#85b4d5"/>
<rect x="165.50" y="774.50" width="5.755" height="25.85" fill="#85b4d5"/>
<rect x="171.25" y="774.50" width="5.755" height="25.85" fill="#85b4d5"/>
<rect x="177.01" y="774.50" width="5.755" height="25.85" fill="#85b4d5"/>
<rect x="182.77" y="774.50" width="5.755" height="25.85" fill="#6e9dc9"/>
<rect x="188.52" y="774.50" width="5.755" height="25.85" fill="#98c4de"/>
<rect x="194.28" y="774.50" width="5.755" height="25.85" fill="#85b4d5"/>
<rect x="200.03" y="774.50" width="5.755" height="25.85" fill="#6e9dc9"/>
<rect x="205.78" y="774.50" width="5.755" height="25.85" fill="#85b4d5"/>
<rect x="211.54" y="774.50" width="5.755" height="25.85" fill="#98c4de"/>
<rect x="217.30" y="774.50" width="5.755" height="25.85" fill="#6e9dc9"/>
<rect x="223.05" y="774.50" width="5.755" height="25.85" fill="#85b4d5"/>
<rect x="228.81" y="774.50" width="5.755" height="25.85" fill="#85b4d5"/>
<rect x="234.56" y="774.50" width="5.755" height="25.85" fill="#85b4d5"/>
<rect x="240.31" y="774.50" width="5.755" height="25.85" fill="#85b4d5"/>
<rect x="246.07" y="774.50" width="5.755" height="25.85" fill="#85b4d5"/>
<rect x="251.82" y="774.50" width="5.755" height="25.85" fill="#85b4d5"/>
<rect x="257.58" y="774.50" width="5.755" height="25.85" fill="#85b4d5"/>
<rect x="263.33" y="774.50" width="5.755" height="25.85" fill="#85b4d5"/>
<rect x="269.09" y="774.50" width="5.755" height="25.85" fill="#98c4de"/>
<rect x="274.84" y="774.50" width="5.755" height="25.85" fill="#6e9dc9"/>
<rect x="280.60" y="774.50" width="5.755" height="25.85" fill="#85b4d5"/>
<rect x="286.35" y="774.50" width="5.755" height="25.85" fill="#6e9dc9"/>
<rect x="292.11" y="774.50" width="5.755" height="25.85" fill="#85b4d5"/>
<rect x="297.87" y="774.50" width="5.755" height="25.85" fill="#85b4d5"/>
<rect x="303.62" y="774.50" width="5.755" height="25.85" fill="#85b4d5"/>
<rect x="309.38" y="774.50" width="5.755" height="25.85" fill="#85b4d5"/>
<rect x="315.13" y="774.50" width="5.755" height="25.85" fill="#85b4d5"/>
<rect x="320.88" y="774.50" width="5.755" height="25.85" fill="#6e9dc9"/>
<rect x="326.64" y="774.50" width="5.755" height="25.85" fill="#85b4d5"/>
<rect x="332.39" y="774.50" width="5.755" height="25.85" fill="#85b4d5"/>
<rect x="338.15" y="774.50" width="5.755" height="25.85" fill="#85b4d5"/>
<rect x="343.90" y="774.50" width="5.755" height="25.85" fill="#98c4de"/>
<rect x="349.66" y="774.50" width="5.755" height="25.85" fill="#85b4d5"/>
<rect x="355.41" y="774.50" width="5.755" height="25.85" fill="#5c8bc0"/>
<rect x="361.17" y="774.50" width="5.755" height="25.85" fill="#5c8bc0"/>
<rect x="366.92" y="774.50" width="5.755" height="25.85" fill="#6e9dc9"/>
<rect x="372.68" y="774.50" width="5.755" height="25.85" fill="#85b4d5"/>
<rect x="378.43" y="774.50" width="5.755" height="25.85" fill="#6e9dc9"/>
<rect x="384.19" y="774.50" width="5.755" height="25.85" fill="#85b4d5"/>
<rect x="389.94" y="774.50" width="5.755" height="25.85" fill="#85b4d5"/>
<rect x="395.70" y="774.50" width="5.755" height="25.85" fill="#5c8bc0"/>
<rect x="401.45" y="774.50" width="5.755" height="25.85" fill="#85b4d5"/>
<rect x="407.21" y="774.50" width="5.755" height="25.85" fill="#6e9dc9"/>
<rect x="412.96" y="774.50" width="5.755" height="25.85" fill="#85b4d5"/>
<rect x="418.72" y="774.50" width="5.755" height="25.85" fill="#85b4d5"/>
<rect x="424.47" y="774.50" width="5.755" height="25.85" fill="#85b4d5"/>
<rect x="430.23" y="774.50" width="5.755" height="25.85" fill="#6e9dc9"/>
<rect x="435.98" y="774.50" width="5.755" height="25.85" fill="#6e9dc9"/>
<rect x="441.74" y="774.50" width="5.755" height="25.85" fill="#6e9dc9"/>
<rect x="447.49" y="774.50" width="5.755" height="25.85" fill="#6e9dc9"/>
<rect x="453.25" y="774.50" width="5.755" height="25.85" fill="#85b4d5"/>
<rect x="459.00" y="774.50" width="5.755" height="25.85" fill="#85b4d5"/>
<rect x="464.76" y="774.50" width="5.755" height="25.85" fill="#5c8bc0"/>
<rect x="470.51" y="774.50" width="5.755" height="25.85" fill="#6e9dc9"/>
<rect x="476.27" y="774.50" width="5.755" height="25.85" fill="#85b4d5"/>
<rect x="482.02" y="774.50" width="5.755" height="25.85" fill="#6e9dc9"/>
<rect x="487.78" y="774.50" width="5.755" height="25.85" fill="#6e9dc9"/>
<rect x="493.53" y="774.50" width="5.755" height="25.85" fill="#6e9dc9"/>
<rect x="499.29" y="774.50" width="5.755" height="25.85" fill="#85b4d5"/>
<rect x="505.04" y="774.50" width="5.755" height="25.85" fill="#6e9dc9"/>
<rect x="510.80" y="774.50" width="5.755" height="25.85" fill="#6e9dc9"/>
<rect x="516.55" y="774.50" width="5.755" height="25.85" fill="#85b4d5"/>
<rect x="522.31" y="774.50" width="5.755" height="25.85" fill="#6e9dc9"/>
<rect x="528.06" y="774.50" width="5.755" height="25.85" fill="#6e9dc9"/>
<rect x="533.82" y="774.50" width="5.755" height="25.85" fill="#5c8bc0"/>
<rect x="539.58" y="774.50" width="5.755" height="25.85" fill="#5c8bc0"/>
<rect x="545.33" y="774.50" width="5.755" height="25.85" fill="#5c8bc0"/>
<rect x="551.09" y="774.50" width="5.755" height="25.85" fill="#6e9dc9"/>
<rect x="556.84" y="774.50" width="5.755" height="25.85" fill="#5c8bc0"/>
<rect x="562.59" y="774.50" width="5.755" height="25.85" fill="#5c8bc0"/>
<rect x="568.35" y="774.50" width="5.755" height="25.85" fill="#5c8bc0"/>
<rect x="574.11" y="774.50" width="5.755" height="25.85" fill="#6e9dc9"/>
<rect x="579.86" y="774.50" width="5.755" height="25.85" fill="#85b4d5"/>
<rect x="585.62" y="774.50" width="5.755" height="25.85" fill="#6e9dc9"/>
<rect x="591.37" y="774.50" width="5.755" height="25.85" fill="#85b4d5"/>
<rect x="597.12" y="774.50" width="5.755" height="25.85" fill="#6e9dc9"/>
<rect x="602.88" y="774.50" width="5.755" height="25.85" fill="#6e9dc9"/>
<rect x="608.63" y="774.50" width="5.755" height="25.85" fill="#85b4d5"/>
<rect x="614.39" y="774.50" width="5.755" height="25.85" fill="#6e9dc9"/>
<rect x="620.14" y="774.50" width="5.755" height="25.85" fill="#6e9dc9"/>
<path d="M50.40 50.70V800.35M56.16 50.70V800.35M61.91 50.70V800.35M67.66 50.70V800.35M73.42 50.70V800.35M79.17 50.70V800.35M84.93 50.70V800.35M90.69 50.70V800.35M96.44 50.70V800.35M102.19 50.70V800.35M107.95 50.70V800.35M113.70 50.70V800.35M119.46 50.70V800.35M125.22 50.70V800.35M130.97 50.70V800.35M136.72 50.70V800.35M142.48 50.70V800.35M148.23 50.70V800.35M153.99 50.70V800.35M159.75 50.70V800.35M165.50 50.70V800.35M171.25 50.70V800.35M177.01 50.70V800.35M182.77 50.70V800.35M188.52 50.70V800.35M194.28 50.70V800.35M200.03 50.70V800.35M205.78 50.70V800.35M211.54 50.70V800.35M217.30 50.70V800.35M223.05 50.70V800.35M228.81 50.70V800.35M234.56 50.70V800.35M240.31 50.70V800.35M246.07 50.70V800.35M251.82 50.70V800.35M257.58 50.70V800.35M263.33 50.70V800.35M269.09 50.70V800.35M274.84 50.70V800.35M280.60 50.70V800.35M286.35 50.70V800.35M292.11 50.70V800.35M297.87 50.70V800.35M303.62 50.70V800.35M309.38 50.70V800.35M315.13 50.70V800.35M320.88 50.70V800.35M326.64 50.70V800.35M332.39 50.70V800.35M338.15 50.70V800.35M343.90 50.70V800.35M349.66 50.70V800.35M355.41 50.70V800.35M361.17 50.70V800.35M366.92 50.70V800.35M372.68 50.70V800.35M378.43 50.70V800.35M384.19 50.70V800.35M389.94 50.70V800.35M395.70 50.70V800.35M401.45 50.70V800.35M407.21 50.70V800.35M412.96 50.70V800.35M418.72 50.70V800.35M424.47 50.70V800.35M430.23 50.70V800.35M435.98 50.70V800.35M441.74 50.70V800.35M447.49 50.70V800.35M453.25 50.70V800.35M459.00 50.70V800.35M464.76 50.70V800.35M470.51 50.70V800.35M476.27 50.70V800.35M482.02 50.70V800.35M487.78 50.70V800.35M493.53 50.70V800.35M499.29 50.70V800.35M505.04 50.70V800.35M510.80 50.70V800.35M516.55 50.70V800.35M522.31 50.70V800.35M528.06 50.70V800.35M533.82 50.70V800.35M539.58 50.70V800.35M545.33 50.70V800.35M551.09 50.70V800.35M556.84 50.70V800.35M562.59 50.70V800.35M568.35 50.70V800.35M574.11 50.70V800.35M579.86 50.70V800.35M585.62 50.70V800.35M591.37 50.70V800.35M597.12 50.70V800.35M602.88 50.70V800.35M608.63 50.70V800.35M614.39 50.70V800.35M620.14 50.70V800.35M625.90 50.70V800.35M50.40 50.70H625.90M50.40 76.55H625.90M50.40 102.40H625.90M50.40 128.25H625.90M50.40 154.10H625.90M50.40 179.95H625.90M50.40 205.80H625.90M50.40 231.65H625.90M50.40 257.50H625.90M50.40 283.35H625.90M50.40 309.20H625.90M50.40 335.05H625.90M50.40 360.90H625.90M50.40 386.75H625.90M50.40 412.60H625.90M50.40 438.45H625.90M50.40 464.30H625.90M50.40 490.15H625.90M50.40 516.00H625.90M50.40 541.85H625.90M50.40 567.70H625.90M50.40 593.55H625.90M50.40 619.40H625.90M50.40 645.25H625.90M50.40 671.10H625.90M50.40 696.95H625.90M50.40 722.80H625.90M50.40 748.65H625.90M50.40 774.50H625.90M50.40 800.35H625.90" stroke="#9a9a9a" stroke-width="0.9" fill="none"/>
<path d="M50.40 63.62H41.00V89.48H50.40M50.40 192.88H47.30V218.73H50.40M50.40 167.03H46.50V205.80H47.30M50.40 141.18H44.40V186.41H46.50M50.40 347.98H49.50V373.82H50.40M50.40 322.12H46.60V360.90H49.50M50.40 296.28H43.20V341.51H46.60M50.40 270.43H42.70V318.89H43.20M50.40 244.57H42.20V294.66H42.70M44.40 163.79H40.50V269.62H42.20M50.40 115.33H33.30V216.71H40.50M50.40 425.53H45.20V451.38H50.40M50.40 399.68H44.60V438.45H45.20M50.40 528.93H45.20V554.78H50.40M50.40 503.07H43.70V541.85H45.20M50.40 580.63H43.30V606.48H50.40M43.70 522.46H42.20V593.55H43.30M50.40 477.23H39.80V558.01H42.20M44.60 419.06H38.50V517.62H39.80M50.40 632.33H43.30V658.18H50.40M50.40 709.88H44.30V735.73H50.40M50.40 684.03H43.20V722.80H44.30M43.30 645.25H42.00V703.41H43.20M50.40 761.58H42.00V787.43H50.40M42.00 674.33H35.20V774.50H42.00M38.50 468.34H30.50V724.42H35.20M33.30 166.02H18.90V596.38H30.50M41.00 76.55H0.60V381.20H18.90" stroke="#262626" stroke-width="1.15" fill="none" stroke-linecap="square"/>
<path d="M64.79 50.60V28.50H70.54V50.60M59.03 50.60V23.80H67.66V28.50M53.28 50.60V9.50H63.35V23.80M76.30 50.60V20.10H82.05V50.60M93.56 50.60V29.60H99.32V50.60M105.07 50.60V16.50H110.83V50.60M122.34 50.60V31.30H128.09V50.60M145.36 50.60V37.10H151.11V50.60M156.87 50.60V35.70H162.62V50.60M148.23 37.10V34.50H159.75V35.70M139.60 50.60V31.30H153.99V34.50M133.85 50.60V28.30H146.80V31.30M125.22 31.30V27.60H140.32V28.30M168.38 50.60V29.00H174.13V50.60M185.64 50.60V35.30H191.40V50.60M179.89 50.60V27.30H188.52V35.30M171.25 29.00V24.80H184.20V27.30M132.77 27.60V24.10H177.73V24.80M116.58 50.60V23.40H155.25V24.10M202.91 50.60V30.10H208.66V50.60M197.15 50.60V24.20H205.78V30.10M225.93 50.60V33.30H231.68V50.60M220.17 50.60V31.00H228.81V33.30M248.95 50.60V34.50H254.70V50.60M243.19 50.60V31.30H251.82V34.50M237.44 50.60V30.60H247.51V31.30M260.46 50.60V33.20H266.21V50.60M283.48 50.60V34.30H289.23V50.60M277.72 50.60V31.50H286.35V34.30M294.99 50.60V30.70H300.74V50.60M282.04 31.50V29.30H297.87V30.70M271.97 50.60V28.90H289.95V29.30M263.33 33.20V27.50H280.96V28.90M242.47 30.60V26.20H272.15V27.50M224.49 31.00V25.10H257.31V26.20M214.42 50.60V22.70H240.90V25.10M201.47 24.20V22.10H227.66V22.70M135.92 23.40V20.50H214.56V22.10M318.01 50.60V32.70H323.76V50.60M312.25 50.60V28.00H320.88V32.70M335.27 50.60V30.30H341.03V50.60M329.52 50.60V27.30H338.15V30.30M316.57 28.00V25.20H333.83V27.30M306.50 50.60V19.60H325.20V25.20M175.24 20.50V18.40H315.85V19.60M358.29 50.60V28.00H364.05V50.60M352.54 50.60V23.30H361.17V28.00M387.07 50.60V33.60H392.82V50.60M381.31 50.60V31.30H389.94V33.60M375.56 50.60V27.50H385.63V31.30M410.09 50.60V37.30H415.84V50.60M404.33 50.60V35.50H412.96V37.30M398.58 50.60V31.70H408.65V35.50M421.60 50.60V33.60H427.35V50.60M433.11 50.60V32.20H438.86V50.60M424.47 33.60V30.80H435.98V32.20M403.61 31.70V28.00H430.23V30.80M444.62 50.60V30.30H450.37V50.60M467.64 50.60V36.40H473.39V50.60M484.90 50.60V35.50H490.66V50.60M479.15 50.60V33.60H487.78V35.50M470.51 36.40V32.20H483.46V33.60M461.88 50.60V30.60H476.99V32.20M456.13 50.60V29.40H469.44V30.60M447.49 30.30V27.50H462.78V29.40M416.92 28.00V26.60H455.14V27.50M380.59 27.50V24.70H436.03V26.60M496.41 50.60V30.30H502.17V50.60M519.43 50.60V38.30H525.19V50.60M542.45 50.60V36.40H548.21V50.60M536.70 50.60V35.50H545.33V36.40M530.94 50.60V34.10H541.01V35.50M522.31 38.30V32.30H535.98V34.10M513.68 50.60V31.70H529.14V32.30M571.23 50.60V39.40H576.98V50.60M565.47 50.60V36.40H574.11V39.40M559.72 50.60V34.40H569.79V36.40M588.49 50.60V35.20H594.25V50.60M582.74 50.60V34.90H591.37V35.20M600.00 50.60V38.40H605.76V50.60M617.27 50.60V37.30H623.02V50.60M611.51 50.60V36.30H620.14V37.30M602.88 38.40V33.80H615.83V36.30M587.05 34.90V33.10H609.35V33.80M564.75 34.40V32.40H598.20V33.10M553.96 50.60V31.10H581.48V32.40M521.41 31.70V28.20H567.72V31.10M507.92 50.60V26.60H544.57V28.20M499.29 30.30V24.50H526.24V26.60M408.31 24.70V22.40H512.77V24.50M369.80 50.60V19.60H460.54V22.40M356.85 23.30V17.00H415.17V19.60M346.78 50.60V16.20H386.01V17.00M245.54 18.40V15.20H366.40V16.20M107.95 16.50V11.30H305.97V15.20M96.44 29.60V11.00H206.96V11.30M87.81 50.60V7.00H151.70V11.00M79.17 20.10V3.50H119.75V7.00M58.31 9.50V0.50H99.46V3.50" stroke="#262626" stroke-width="1.15" fill="none" stroke-linecap="square"/>
<text x="629.1" y="65.72" class="rl">metabo1</text>
<text x="629.1" y="91.58" class="rl">metabo3</text>
<text x="629.1" y="117.42" class="rl">metabo14</text>
<text x="629.1" y="143.28" class="rl">metabo9</text>
<text x="629.1" y="169.12" class="rl">metabo15</text>
<text x="629.1" y="194.97" class="rl">metabo7</text>
<text x="629.1" y="220.83" class="rl">metabo18</text>
<text x="629.1" y="246.67" class="rl">metabo27</text>
<text x="629.1" y="272.53" class="rl">metabo25</text>
<text x="629.1" y="298.38" class="rl">metabo4</text>
<text x="629.1" y="324.23" class="rl">metabo8</text>
<text x="629.1" y="350.08" class="rl">metabo5</text>
<text x="629.1" y="375.93" class="rl">metabo6</text>
<text x="629.1" y="401.78" class="rl">metabo13</text>
<text x="629.1" y="427.63" class="rl">metabo10</text>
<text x="629.1" y="453.48" class="rl">metabo11</text>
<text x="629.1" y="479.33" class="rl">metabo12</text>
<text x="629.1" y="505.18" class="rl">metabo23</text>
<text x="629.1" y="531.03" class="rl">metabo26</text>
<text x="629.1" y="556.88" class="rl">metabo29</text>
<text x="629.1" y="582.73" class="rl">metabo20</text>
<text x="629.1" y="608.58" class="rl">metabo21</text>
<text x="629.1" y="634.43" class="rl">metabo19</text>
<text x="629.1" y="660.28" class="rl">metabo22</text>
<text x="629.1" y="686.13" class="rl">metabo2</text>
<text x="629.1" y="711.98" class="rl">metabo24</text>
<text x="629.1" y="737.83" class="rl">metabo28</text>
<text x="629.1" y="763.68" class="rl">metabo16</text>
<text x="629.1" y="789.53" class="rl">metabo17</text>
<text transform="translate(52.08 803) rotate(90)" class="cl">X05_1</text>
<text transform="translate(57.83 803) rotate(90)" class="cl">X33_1</text>
<text transform="translate(63.59 803) rotate(90)" class="cl">X07_1</text>
<text transform="translate(69.34 803) rotate(90)" class="cl">X13_1</text>
<text transform="translate(75.10 803) rotate(90)" class="cl">X08_1</text>
<text transform="translate(80.85 803) rotate(90)" class="cl">X40_1</text>
<text transform="translate(86.61 803) rotate(90)" class="cl">X34_1</text>
<text transform="translate(92.36 803) rotate(90)" class="cl">X29_1</text>
<text transform="translate(98.12 803) rotate(90)" class="cl">X35_1</text>
<text transform="translate(103.87 803) rotate(90)" class="cl">X26_2</text>
<text transform="translate(109.63 803) rotate(90)" class="cl">X50_2</text>
<text transform="translate(115.38 803) rotate(90)" class="cl">X12_1</text>
<text transform="translate(121.14 803) rotate(90)" class="cl">X23_1</text>
<text transform="translate(126.89 803) rotate(90)" class="cl">X24_1</text>
<text transform="translate(132.65 803) rotate(90)" class="cl">X44_1</text>
<text transform="translate(138.40 803) rotate(90)" class="cl">X10_1</text>
<text transform="translate(144.16 803) rotate(90)" class="cl">X37_1</text>
<text transform="translate(149.91 803) rotate(90)" class="cl">X43_1</text>
<text transform="translate(155.67 803) rotate(90)" class="cl">X16_1</text>
<text transform="translate(161.42 803) rotate(90)" class="cl">X21_1</text>
<text transform="translate(167.18 803) rotate(90)" class="cl">X01_1</text>
<text transform="translate(172.93 803) rotate(90)" class="cl">X09_1</text>
<text transform="translate(178.69 803) rotate(90)" class="cl">X50_1</text>
<text transform="translate(184.44 803) rotate(90)" class="cl">X25_1</text>
<text transform="translate(190.20 803) rotate(90)" class="cl">X41_1</text>
<text transform="translate(195.95 803) rotate(90)" class="cl">X06_1</text>
<text transform="translate(201.71 803) rotate(90)" class="cl">X30_1</text>
<text transform="translate(207.46 803) rotate(90)" class="cl">X14_1</text>
<text transform="translate(213.22 803) rotate(90)" class="cl">X31_1</text>
<text transform="translate(218.97 803) rotate(90)" class="cl">X42_1</text>
<text transform="translate(224.73 803) rotate(90)" class="cl">X04_1</text>
<text transform="translate(230.48 803) rotate(90)" class="cl">X02_1</text>
<text transform="translate(236.24 803) rotate(90)" class="cl">X03_1</text>
<text transform="translate(241.99 803) rotate(90)" class="cl">X20_1</text>
<text transform="translate(247.75 803) rotate(90)" class="cl">X18_1</text>
<text transform="translate(253.50 803) rotate(90)" class="cl">X28_1</text>
<text transform="translate(259.26 803) rotate(90)" class="cl">X36_1</text>
<text transform="translate(265.01 803) rotate(90)" class="cl">X49_1</text>
<text transform="translate(270.77 803) rotate(90)" class="cl">X19_1</text>
<text transform="translate(276.52 803) rotate(90)" class="cl">X30_1</text>
<text transform="translate(282.28 803) rotate(90)" class="cl">X11_1</text>
<text transform="translate(288.03 803) rotate(90)" class="cl">X22_1</text>
<text transform="translate(293.79 803) rotate(90)" class="cl">X39_1</text>
<text transform="translate(299.54 803) rotate(90)" class="cl">X48_1</text>
<text transform="translate(305.30 803) rotate(90)" class="cl">X17_1</text>
<text transform="translate(311.05 803) rotate(90)" class="cl">X46_1</text>
<text transform="translate(316.81 803) rotate(90)" class="cl">X15_1</text>
<text transform="translate(322.56 803) rotate(90)" class="cl">X27_1</text>
<text transform="translate(328.32 803) rotate(90)" class="cl">X38_1</text>
<text transform="translate(334.07 803) rotate(90)" class="cl">X03_1</text>
<text transform="translate(339.83 803) rotate(90)" class="cl">X47_1</text>
<text transform="translate(345.58 803) rotate(90)" class="cl">X32_1</text>
<text transform="translate(351.34 803) rotate(90)" class="cl">X06_2</text>
<text transform="translate(357.09 803) rotate(90)" class="cl">X17_2</text>
<text transform="translate(362.85 803) rotate(90)" class="cl">X48_2</text>
<text transform="translate(368.60 803) rotate(90)" class="cl">X04_2</text>
<text transform="translate(374.36 803) rotate(90)" class="cl">X05_2</text>
<text transform="translate(380.11 803) rotate(90)" class="cl">X02_2</text>
<text transform="translate(385.87 803) rotate(90)" class="cl">X03_2</text>
<text transform="translate(391.62 803) rotate(90)" class="cl">X20_2</text>
<text transform="translate(397.38 803) rotate(90)" class="cl">X07_2</text>
<text transform="translate(403.13 803) rotate(90)" class="cl">X30_2</text>
<text transform="translate(408.89 803) rotate(90)" class="cl">X35_2</text>
<text transform="translate(414.64 803) rotate(90)" class="cl">X49_2</text>
<text transform="translate(420.40 803) rotate(90)" class="cl">X08_2</text>
<text transform="translate(426.15 803) rotate(90)" class="cl">X47_2</text>
<text transform="translate(431.91 803) rotate(90)" class="cl">X19_2</text>
<text transform="translate(437.66 803) rotate(90)" class="cl">X33_2</text>
<text transform="translate(443.42 803) rotate(90)" class="cl">X13_2</text>
<text transform="translate(449.17 803) rotate(90)" class="cl">X21_2</text>
<text transform="translate(454.93 803) rotate(90)" class="cl">X22_2</text>
<text transform="translate(460.68 803) rotate(90)" class="cl">X26_2</text>
<text transform="translate(466.44 803) rotate(90)" class="cl">X16_2</text>
<text transform="translate(472.19 803) rotate(90)" class="cl">X27_2</text>
<text transform="translate(477.95 803) rotate(90)" class="cl">X14_2</text>
<text transform="translate(483.70 803) rotate(90)" class="cl">X01_2</text>
<text transform="translate(489.46 803) rotate(90)" class="cl">X25_2</text>
<text transform="translate(495.21 803) rotate(90)" class="cl">X18_2</text>
<text transform="translate(500.97 803) rotate(90)" class="cl">X28_2</text>
<text transform="translate(506.72 803) rotate(90)" class="cl">X24_2</text>
<text transform="translate(512.48 803) rotate(90)" class="cl">X23_2</text>
<text transform="translate(518.23 803) rotate(90)" class="cl">X43_2</text>
<text transform="translate(523.99 803) rotate(90)" class="cl">X46_2</text>
<text transform="translate(529.74 803) rotate(90)" class="cl">X09_2</text>
<text transform="translate(535.50 803) rotate(90)" class="cl">X11_2</text>
<text transform="translate(541.25 803) rotate(90)" class="cl">X12_2</text>
<text transform="translate(547.01 803) rotate(90)" class="cl">X42_2</text>
<text transform="translate(552.76 803) rotate(90)" class="cl">X50_2</text>
<text transform="translate(558.52 803) rotate(90)" class="cl">X38_2</text>
<text transform="translate(564.27 803) rotate(90)" class="cl">X40_2</text>
<text transform="translate(570.03 803) rotate(90)" class="cl">X15_2</text>
<text transform="translate(575.78 803) rotate(90)" class="cl">X45_2</text>
<text transform="translate(581.54 803) rotate(90)" class="cl">X10_2</text>
<text transform="translate(587.29 803) rotate(90)" class="cl">X29_2</text>
<text transform="translate(593.05 803) rotate(90)" class="cl">X37_2</text>
<text transform="translate(598.80 803) rotate(90)" class="cl">X41_2</text>
<text transform="translate(604.56 803) rotate(90)" class="cl">X44_2</text>
<text transform="translate(610.31 803) rotate(90)" class="cl">X34_2</text>
<text transform="translate(616.07 803) rotate(90)" class="cl">X31_2</text>
<text transform="translate(621.82 803) rotate(90)" class="cl">X39_2</text>
<defs><linearGradient id="lgd" x1="0" y1="0" x2="0" y2="1"><stop offset="0.0000" stop-color="#d73027"/><stop offset="0.1667" stop-color="#fc8d59"/><stop offset="0.3333" stop-color="#fee090"/><stop offset="0.5000" stop-color="#ffffbf"/><stop offset="0.6667" stop-color="#e0f3f8"/><stop offset="0.8333" stop-color="#91bfdb"/><stop offset="1.0000" stop-color="#4575b4"/></linearGradient></defs>
<rect x="661.00" y="51.00" width="9.70" height="144.00" fill="url(#lgd)"/>
<text x="674.4" y="190.74" class="lg">4</text>
<text x="674.4" y="164.48" class="lg">6</text>
<text x="674.4" y="138.23" class="lg">8</text>
<text x="674.4" y="111.98" class="lg">10</text>
<text x="674.4" y="85.72" class="lg">12</text>
<text x="674.4" y="59.47" class="lg">14</text>
</svg>
</body></html>
